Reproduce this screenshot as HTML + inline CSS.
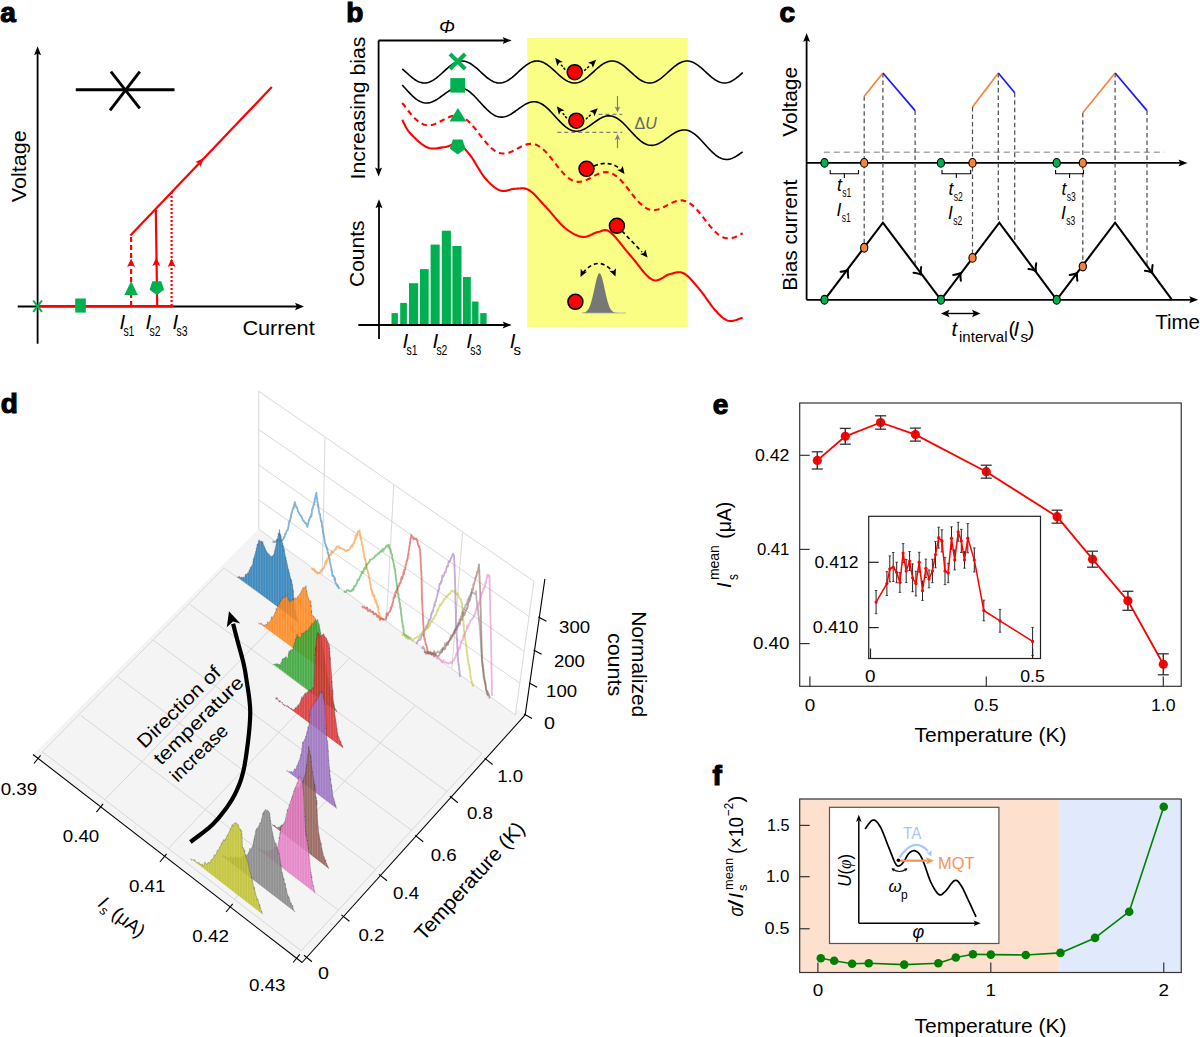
<!DOCTYPE html>
<html><head><meta charset="utf-8"><title>Figure</title>
<style>html,body{margin:0;padding:0;background:#fff;width:1200px;height:1037px;overflow:hidden}svg{display:block}text{font-family:"Liberation Sans",sans-serif}</style>
</head><body>
<svg width="1200" height="1037" viewBox="0 0 1200 1037">
<defs><pattern id="vs" width="2.6" height="20" patternUnits="userSpaceOnUse"><rect x="0" y="0" width="0.9" height="20" fill="#fff" fill-opacity="0.16"/></pattern></defs>
<rect width="1200" height="1037" fill="#fff"/>
<text x="0.3" y="22" font-family="Liberation Sans" font-size="28" text-anchor="start" fill="#000" font-weight="bold" font-style="normal" stroke="#000" stroke-width="1.15">a</text>
<line x1="37.6" y1="343.8" x2="37.6" y2="52" stroke="#000" stroke-width="1.8" stroke-linecap="butt"/>
<polygon points="37.6,46.3 41.1,55.3 37.6,53.5 34.1,55.3" fill="#000" stroke="none" stroke-width="0"/>
<line x1="17.7" y1="306.5" x2="298" y2="306.5" stroke="#000" stroke-width="1.8" stroke-linecap="butt"/>
<polygon points="304,306.5 295,310.25 296.8,306.5 295,302.75" fill="#000" stroke="none" stroke-width="0"/>
<line x1="75.8" y1="89.7" x2="174.5" y2="89.7" stroke="#000" stroke-width="2.9" stroke-linecap="butt"/>
<line x1="110.9" y1="71.7" x2="139.8" y2="108.3" stroke="#000" stroke-width="2.9" stroke-linecap="butt"/>
<line x1="139.8" y1="71.7" x2="110" y2="110.3" stroke="#000" stroke-width="2.9" stroke-linecap="butt"/>
<line x1="37.6" y1="306.2" x2="173.6" y2="306.2" stroke="#ff0000" stroke-width="2.2" stroke-linecap="butt"/>
<line x1="131.1" y1="306" x2="131.1" y2="234.9" stroke="#ff0000" stroke-width="2.2" stroke-linecap="butt" stroke-dasharray="5,3"/>
<line x1="157.2" y1="306" x2="155.8" y2="209.8" stroke="#ff0000" stroke-width="2.2" stroke-linecap="butt"/>
<line x1="171.6" y1="306" x2="171.6" y2="192" stroke="#ff0000" stroke-width="2.2" stroke-linecap="butt" stroke-dasharray="2,2"/>
<line x1="130.4" y1="235.6" x2="271.8" y2="87.1" stroke="#ff0000" stroke-width="2.2" stroke-linecap="butt"/>
<polygon points="131.1,258.5 135.1,267 131.1,265.3 127.1,267" fill="#ff0000" stroke="none" stroke-width="0"/>
<polygon points="156.3,257.5 160.3,266 156.3,264.3 152.3,266" fill="#ff0000" stroke="none" stroke-width="0"/>
<polygon points="171.6,258.5 175.6,267 171.6,265.3 167.6,267" fill="#ff0000" stroke="none" stroke-width="0"/>
<polygon points="204,158 200.33,166.93 199.03,163.21 195.26,162.1" fill="#ff0000" stroke="none" stroke-width="0"/>
<line x1="33.2" y1="300.5" x2="42" y2="311.8" stroke="#00b050" stroke-width="2" stroke-linecap="butt"/>
<line x1="42" y1="300.5" x2="33.2" y2="311.8" stroke="#00b050" stroke-width="2" stroke-linecap="butt"/>
<rect x="75.2" y="298.5" width="10.6" height="14.1" fill="#00b050" stroke="none" stroke-width="0"/>
<polygon points="124.4,295 137.9,295 131.1,281" fill="#00b050" stroke="none" stroke-width="0"/>
<polygon points="156.8,294.9 149.57,289.65 152.33,281.15 161.27,281.15 164.03,289.65" fill="#00b050" stroke="none" stroke-width="0"/>
<text x="119.5" y="329.4" font-family="Liberation Sans" font-size="20.5" text-anchor="start" fill="#000" font-weight="normal" font-style="italic">I</text>
<text x="123.4" y="336.4" font-family="Liberation Sans" font-size="15" text-anchor="start" fill="#000" font-weight="normal" font-style="normal" textLength="11" lengthAdjust="spacingAndGlyphs">s1</text>
<text x="145.6" y="329.4" font-family="Liberation Sans" font-size="20.5" text-anchor="start" fill="#000" font-weight="normal" font-style="italic">I</text>
<text x="149.5" y="336.4" font-family="Liberation Sans" font-size="15" text-anchor="start" fill="#000" font-weight="normal" font-style="normal" textLength="11" lengthAdjust="spacingAndGlyphs">s2</text>
<text x="172.6" y="329.4" font-family="Liberation Sans" font-size="20.5" text-anchor="start" fill="#000" font-weight="normal" font-style="italic">I</text>
<text x="176.5" y="336.4" font-family="Liberation Sans" font-size="15" text-anchor="start" fill="#000" font-weight="normal" font-style="normal" textLength="11" lengthAdjust="spacingAndGlyphs">s3</text>
<text x="242.4" y="334.6" font-family="Liberation Sans" font-size="20.5" text-anchor="start" fill="#000" font-weight="normal" font-style="normal" textLength="72.3" lengthAdjust="spacingAndGlyphs">Current</text>
<text x="26.3" y="202.3" font-family="Liberation Sans" font-size="20.5" text-anchor="start" fill="#000" font-weight="normal" font-style="normal" textLength="72" lengthAdjust="spacingAndGlyphs" transform="rotate(-90 26.3 202.3)">Voltage</text>
<text x="346.2" y="22" font-family="Liberation Sans" font-size="28" text-anchor="start" fill="#000" font-weight="bold" font-style="normal" stroke="#000" stroke-width="1.15">b</text>
<line x1="378.6" y1="40.5" x2="505" y2="40.5" stroke="#000" stroke-width="1.8" stroke-linecap="butt"/>
<polygon points="511.6,40.5 502.6,44 504.4,40.5 502.6,37" fill="#000" stroke="none" stroke-width="0"/>
<line x1="378.6" y1="40.5" x2="378.6" y2="170" stroke="#000" stroke-width="1.8" stroke-linecap="butt"/>
<polygon points="378.6,176.5 375.1,167.5 378.6,169.3 382.1,167.5" fill="#000" stroke="none" stroke-width="0"/>
<text x="439" y="32.8" font-family="Liberation Serif" font-size="19" text-anchor="start" fill="#000" font-weight="normal" font-style="italic">Φ</text>
<text x="365" y="179.4" font-family="Liberation Sans" font-size="20.5" text-anchor="start" fill="#000" font-weight="normal" font-style="normal" textLength="142.8" lengthAdjust="spacingAndGlyphs" transform="rotate(-90 365 179.4)">Increasing bias</text>
<rect x="527.2" y="38" width="160.6" height="289.2" fill="#fbfe84" stroke="none" stroke-width="0"/>
<polyline points="402.2,68.78 403.33,69.79 404.47,70.82 405.6,71.87 406.74,72.91 407.88,73.95 409.01,74.97 410.14,75.96 411.28,76.92 412.41,77.83 413.55,78.69 414.69,79.49 415.82,80.22 416.95,80.87 418.09,81.45 419.22,81.94 420.36,82.34 421.5,82.65 422.63,82.87 423.76,82.98 424.9,82.99 426.03,82.91 427.17,82.73 428.31,82.45 429.44,82.07 430.57,81.61 431.71,81.05 432.84,80.42 433.98,79.71 435.12,78.93 436.25,78.09 437.38,77.19 438.52,76.25 439.65,75.26 440.79,74.25 441.93,73.22 443.06,72.18 444.19,71.13 445.33,70.09 446.46,69.07 447.6,68.08 448.74,67.12 449.87,66.21 451,65.35 452.14,64.54 453.27,63.81 454.41,63.15 455.55,62.57 456.68,62.07 457.81,61.67 458.95,61.36 460.08,61.14 461.22,61.02 462.36,61 463.49,61.09 464.62,61.26 465.76,61.54 466.89,61.91 468.03,62.37 469.17,62.92 470.3,63.55 471.44,64.26 472.57,65.04 473.7,65.88 474.84,66.77 475.98,67.72 477.11,68.7 478.25,69.71 479.38,70.74 480.51,71.78 481.65,72.83 482.78,73.87 483.92,74.89 485.06,75.88 486.19,76.84 487.32,77.76 488.46,78.62 489.6,79.43 490.73,80.16 491.87,80.83 493,81.41 494.13,81.91 495.27,82.32 496.4,82.63 497.54,82.85 498.68,82.97 499.81,83 500.94,82.92 502.08,82.74 503.22,82.47 504.35,82.1 505.49,81.65 506.62,81.1 507.75,80.47 508.89,79.77 510.02,78.99 511.16,78.16 512.3,77.26 513.43,76.32 514.57,75.34 515.7,74.33 516.84,73.3 517.97,72.26 519.11,71.21 520.24,70.17 521.38,69.15 522.51,68.16 523.64,67.2 524.78,66.28 525.91,65.41 527.05,64.61 528.19,63.87 529.32,63.2 530.46,62.61 531.59,62.11 532.73,61.7 533.86,61.38 535,61.15 536.13,61.03 537.26,61 538.4,61.08 539.54,61.25 540.67,61.52 541.81,61.88 542.94,62.33 544.08,62.88 545.21,63.5 546.35,64.2 547.48,64.97 548.62,65.81 549.75,66.7 550.88,67.64 552.02,68.62 553.15,69.63 554.29,70.66 555.42,71.7 556.56,72.75 557.7,73.78 558.83,74.81 559.97,75.8 561.1,76.77 562.24,77.69 563.37,78.55 564.5,79.36 565.64,80.11 566.77,80.78 567.91,81.37 569.05,81.87 570.18,82.29 571.32,82.61 572.45,82.84 573.59,82.97 574.72,83 575.86,82.93 576.99,82.76 578.12,82.5 579.26,82.14 580.39,81.69 581.53,81.15 582.66,80.53 583.8,79.83 584.93,79.06 586.07,78.22 587.21,77.34 588.34,76.4 589.48,75.42 590.61,74.41 591.75,73.38 592.88,72.34 594.01,71.3 595.15,70.26 596.29,69.23 597.42,68.23 598.56,67.27 599.69,66.35 600.83,65.48 601.96,64.67 603.1,63.92 604.23,63.25 605.37,62.66 606.5,62.15 607.63,61.73 608.77,61.4 609.9,61.17 611.04,61.04 612.17,61 613.31,61.07 614.45,61.23 615.58,61.49 616.72,61.85 617.85,62.29 618.99,62.83 620.12,63.45 621.25,64.14 622.39,64.91 623.53,65.74 624.66,66.63 625.8,67.56 626.93,68.54 628.07,69.55 629.2,70.58 630.34,71.62 631.47,72.66 632.61,73.7 633.74,74.73 634.88,75.73 636.01,76.69 637.14,77.62 638.28,78.49 639.42,79.3 640.55,80.05 641.69,80.73 642.82,81.32 643.96,81.83 645.09,82.26 646.23,82.59 647.36,82.82 648.5,82.96 649.63,83 650.77,82.94 651.9,82.78 653.04,82.52 654.17,82.17 655.31,81.72 656.44,81.19 657.58,80.58 658.71,79.88 659.85,79.12 660.98,78.29 662.12,77.41 663.25,76.47 664.38,75.5 665.52,74.49 666.65,73.47 667.79,72.42 668.92,71.38 670.06,70.34 671.2,69.31 672.33,68.31 673.47,67.35 674.6,66.42 675.74,65.55 676.87,64.73 678.01,63.98 679.14,63.3 680.28,62.7 681.41,62.18 682.55,61.76 683.68,61.42 684.82,61.18 685.95,61.04 687.09,61 688.22,61.06 689.36,61.21 690.49,61.47 691.62,61.82 692.76,62.26 693.89,62.78 695.03,63.4 696.16,64.09 697.3,64.85 698.44,65.67 699.57,66.56 700.71,67.49 701.84,68.46 702.98,69.47 704.11,70.49 705.25,71.53 706.38,72.58 707.52,73.62 708.65,74.65 709.79,75.65 710.92,76.62 712.06,77.54 713.19,78.42 714.33,79.24 715.46,79.99 716.6,80.67 717.73,81.28 718.87,81.8 720,82.23 721.13,82.57 722.27,82.81 723.4,82.95 724.54,83 725.67,82.95 726.81,82.79 727.95,82.55 729.08,82.2 730.22,81.76 731.35,81.24 732.49,80.63 733.62,79.94 734.76,79.18 735.89,78.36 737.03,77.48 738.16,76.55 739.3,75.58 740.43,74.57 741.57,73.55 742.7,72.51" fill="none" stroke="#000" stroke-width="1.6" stroke-linejoin="round" stroke-linecap="butt"/>
<polyline points="402.2,84.93 403.33,86.17 404.47,87.42 405.6,88.68 406.74,89.94 407.88,91.18 409.01,92.4 410.14,93.59 411.28,94.74 412.41,95.85 413.55,96.89 414.69,97.88 415.82,98.79 416.95,99.63 418.09,100.38 419.22,101.05 420.36,101.62 421.5,102.1 422.63,102.48 423.76,102.77 424.9,102.95 426.03,103.04 427.17,103.02 428.31,102.91 429.44,102.71 430.57,102.42 431.71,102.05 432.84,101.59 433.98,101.06 435.12,100.47 436.25,99.81 437.38,99.11 438.52,98.36 439.65,97.58 440.79,96.77 441.93,95.94 443.06,95.11 444.19,94.28 445.33,93.46 446.46,92.67 447.6,91.9 448.74,91.18 449.87,90.5 451,89.87 452.14,89.31 453.27,88.83 454.41,88.41 455.55,88.08 456.68,87.84 457.81,87.69 458.95,87.63 460.08,87.67 461.22,87.81 462.36,88.05 463.49,88.39 464.62,88.82 465.76,89.36 466.89,89.98 468.03,90.69 469.17,91.49 470.3,92.37 471.44,93.32 472.57,94.34 473.7,95.42 474.84,96.55 475.98,97.73 477.11,98.94 478.25,100.17 479.38,101.42 480.51,102.68 481.65,103.94 482.78,105.18 483.92,106.41 485.06,107.6 486.19,108.75 487.32,109.86 488.46,110.91 489.6,111.9 490.73,112.82 491.87,113.66 493,114.42 494.13,115.1 495.27,115.68 496.4,116.17 497.54,116.56 498.68,116.85 499.81,117.04 500.94,117.13 502.08,117.13 503.22,117.03 504.35,116.83 505.49,116.55 506.62,116.18 507.75,115.73 508.89,115.21 510.02,114.62 511.16,113.97 512.3,113.27 513.43,112.52 514.57,111.74 515.7,110.93 516.84,110.11 517.97,109.28 519.11,108.45 520.24,107.63 521.38,106.83 522.51,106.06 523.64,105.33 524.78,104.65 525.91,104.02 527.05,103.46 528.19,102.96 529.32,102.54 530.46,102.21 531.59,101.96 532.73,101.8 533.86,101.73 535,101.77 536.13,101.9 537.26,102.13 538.4,102.46 539.54,102.89 540.67,103.41 541.81,104.03 542.94,104.74 544.08,105.53 545.21,106.4 546.35,107.35 547.48,108.36 548.62,109.44 549.75,110.56 550.88,111.73 552.02,112.94 553.15,114.17 554.29,115.42 555.42,116.68 556.56,117.94 557.7,119.18 558.83,120.41 559.97,121.61 561.1,122.76 562.24,123.88 563.37,124.93 564.5,125.93 565.64,126.85 566.77,127.7 567.91,128.47 569.05,129.15 570.18,129.74 571.32,130.23 572.45,130.63 573.59,130.93 574.72,131.13 575.86,131.23 576.99,131.23 578.12,131.14 579.26,130.95 580.39,130.67 581.53,130.31 582.66,129.87 583.8,129.35 584.93,128.77 586.07,128.12 587.21,127.42 588.34,126.68 589.48,125.9 590.61,125.1 591.75,124.27 592.88,123.44 594.01,122.61 595.15,121.79 596.29,120.99 597.42,120.22 598.56,119.49 599.69,118.8 600.83,118.17 601.96,117.6 603.1,117.1 604.23,116.67 605.37,116.33 606.5,116.07 607.63,115.91 608.77,115.84 609.9,115.86 611.04,115.98 612.17,116.21 613.31,116.53 614.45,116.95 615.58,117.47 616.72,118.08 617.85,118.78 618.99,119.56 620.12,120.43 621.25,121.37 622.39,122.38 623.53,123.45 624.66,124.57 625.8,125.74 626.93,126.94 628.07,128.17 629.2,129.42 630.34,130.68 631.47,131.94 632.61,133.19 633.74,134.41 634.88,135.61 636.01,136.77 637.14,137.89 638.28,138.95 639.42,139.95 640.55,140.88 641.69,141.74 642.82,142.51 643.96,143.2 645.09,143.79 646.23,144.29 647.36,144.7 648.5,145.01 649.63,145.22 650.77,145.32 651.9,145.33 653.04,145.25 654.17,145.07 655.31,144.8 656.44,144.44 657.58,144.01 658.71,143.49 659.85,142.91 660.98,142.27 662.12,141.58 663.25,140.84 664.38,140.06 665.52,139.26 666.65,138.44 667.79,137.61 668.92,136.78 670.06,135.96 671.2,135.15 672.33,134.38 673.47,133.64 674.6,132.95 675.74,132.32 676.87,131.74 678.01,131.23 679.14,130.8 680.28,130.45 681.41,130.19 682.55,130.02 683.68,129.94 684.82,129.95 685.95,130.07 687.09,130.29 688.22,130.6 689.36,131.01 690.49,131.52 691.62,132.12 692.76,132.82 693.89,133.6 695.03,134.46 696.16,135.39 697.3,136.4 698.44,137.46 699.57,138.58 700.71,139.74 701.84,140.95 702.98,142.18 704.11,143.42 705.25,144.68 706.38,145.94 707.52,147.19 708.65,148.42 709.79,149.62 710.92,150.78 712.06,151.9 713.19,152.97 714.33,153.97 715.46,154.91 716.6,155.77 717.73,156.55 718.87,157.24 720,157.85 721.13,158.36 722.27,158.77 723.4,159.09 724.54,159.3 725.67,159.42 726.81,159.44 727.95,159.36 729.08,159.19 730.22,158.92 731.35,158.57 732.49,158.14 733.62,157.64 734.76,157.06 735.89,156.43 737.03,155.74 738.16,155 739.3,154.23 740.43,153.43 741.57,152.6 742.7,151.77" fill="none" stroke="#000" stroke-width="1.6" stroke-linejoin="round" stroke-linecap="butt"/>
<polyline points="402.2,103 403.33,104.46 404.47,105.93 405.6,107.4 406.74,108.87 407.88,110.32 409.01,111.74 410.14,113.13 411.28,114.47 412.41,115.77 413.55,117 414.69,118.17 415.82,119.26 416.95,120.28 418.09,121.21 419.22,122.05 420.36,122.8 421.5,123.45 422.63,124 423.76,124.46 424.9,124.81 426.03,125.07 427.17,125.23 428.31,125.29 429.44,125.26 430.57,125.15 431.71,124.95 432.84,124.68 433.98,124.34 435.12,123.93 436.25,123.47 437.38,122.95 438.52,122.4 439.65,121.82 440.79,121.22 441.93,120.61 443.06,119.99 444.19,119.38 445.33,118.78 446.46,118.21 447.6,117.68 448.74,117.19 449.87,116.75 451,116.37 452.14,116.05 453.27,115.81 454.41,115.65 455.55,115.57 456.68,115.58 457.81,115.69 458.95,115.89 460.08,116.18 461.22,116.58 462.36,117.08 463.49,117.67 464.62,118.37 465.76,119.15 466.89,120.03 468.03,121 469.17,122.05 470.3,123.18 471.44,124.37 472.57,125.63 473.7,126.95 474.84,128.32 475.98,129.72 477.11,131.16 478.25,132.62 479.38,134.09 480.51,135.56 481.65,137.03 482.78,138.48 483.92,139.9 485.06,141.3 486.19,142.64 487.32,143.94 488.46,145.18 489.6,146.36 490.73,147.46 491.87,148.48 493,149.41 494.13,150.26 495.27,151.02 496.4,151.68 497.54,152.24 498.68,152.7 499.81,153.06 500.94,153.33 502.08,153.49 503.22,153.57 504.35,153.55 505.49,153.44 506.62,153.25 507.75,152.98 508.89,152.64 510.02,152.24 511.16,151.78 512.3,151.27 513.43,150.72 514.57,150.14 515.7,149.54 516.84,148.93 517.97,148.31 519.11,147.7 520.24,147.1 521.38,146.53 522.51,145.99 523.64,145.5 524.78,145.05 525.91,144.67 527.05,144.35 528.19,144.1 529.32,143.93 530.46,143.85 531.59,143.85 532.73,143.95 533.86,144.14 535,144.43 536.13,144.82 537.26,145.31 538.4,145.9 539.54,146.58 540.67,147.36 541.81,148.24 542.94,149.2 544.08,150.24 545.21,151.36 546.35,152.55 547.48,153.81 548.62,155.12 549.75,156.48 550.88,157.88 552.02,159.32 553.15,160.77 554.29,162.24 555.42,163.72 556.56,165.18 557.7,166.64 558.83,168.07 559.97,169.46 561.1,170.81 562.24,172.12 563.37,173.36 564.5,174.54 565.64,175.65 566.77,176.67 567.91,177.62 569.05,178.47 570.18,179.24 571.32,179.9 572.45,180.47 573.59,180.94 574.72,181.31 575.86,181.58 576.99,181.76 578.12,181.84 579.26,181.82 580.39,181.72 581.53,181.54 582.66,181.28 583.8,180.95 584.93,180.55 586.07,180.09 587.21,179.59 588.34,179.04 589.48,178.47 590.61,177.87 591.75,177.25 592.88,176.64 594.01,176.02 595.15,175.43 596.29,174.85 597.42,174.31 598.56,173.81 599.69,173.36 600.83,172.97 601.96,172.65 603.1,172.39 604.23,172.22 605.37,172.13 606.5,172.12 607.63,172.21 608.77,172.4 609.9,172.68 611.04,173.06 612.17,173.54 613.31,174.12 614.45,174.8 615.58,175.57 616.72,176.44 617.85,177.39 618.99,178.43 620.12,179.54 621.25,180.73 622.39,181.98 623.53,183.29 624.66,184.65 625.8,186.05 626.93,187.48 628.07,188.93 629.2,190.4 630.34,191.88 631.47,193.34 632.61,194.8 633.74,196.23 634.88,197.63 636.01,198.98 637.14,200.29 638.28,201.54 639.42,202.72 640.55,203.84 641.69,204.87 642.82,205.82 643.96,206.68 645.09,207.45 646.23,208.13 647.36,208.7 648.5,209.18 649.63,209.56 650.77,209.84 651.9,210.02 653.04,210.11 654.17,210.1 655.31,210.01 656.44,209.83 657.58,209.58 658.71,209.25 659.85,208.86 660.98,208.41 662.12,207.9 663.25,207.36 664.38,206.79 665.52,206.19 666.65,205.58 667.79,204.96 668.92,204.35 670.06,203.75 671.2,203.17 672.33,202.63 673.47,202.12 674.6,201.67 675.74,201.27 676.87,200.94 678.01,200.68 679.14,200.5 680.28,200.4 681.41,200.39 682.55,200.48 683.68,200.65 684.82,200.93 685.95,201.3 687.09,201.78 688.22,202.35 689.36,203.02 690.49,203.78 691.62,204.64 692.76,205.59 693.89,206.62 695.03,207.73 696.16,208.91 697.3,210.15 698.44,211.46 699.57,212.81 700.71,214.21 701.84,215.64 702.98,217.09 704.11,218.56 705.25,220.03 706.38,221.5 707.52,222.96 708.65,224.39 709.79,225.79 710.92,227.15 712.06,228.46 713.19,229.72 714.33,230.91 715.46,232.03 716.6,233.07 717.73,234.02 718.87,234.89 720,235.67 721.13,236.35 722.27,236.94 723.4,237.42 724.54,237.81 725.67,238.1 726.81,238.29 727.95,238.38 729.08,238.38 730.22,238.3 731.35,238.12 732.49,237.87 733.62,237.55 734.76,237.16 735.89,236.72 737.03,236.22 738.16,235.68 739.3,235.11 740.43,234.51 741.57,233.9 742.7,233.28" fill="none" stroke="#ff0000" stroke-width="2.1" stroke-linejoin="round" stroke-linecap="butt" stroke-dasharray="5.5,4"/>
<polyline points="402.2,119.7 402.55,120.34 402.94,121.13 403.37,122.06 403.86,123.1 404.41,124.24 405.01,125.44 405.67,126.7 406.39,127.99 407.19,129.28 408.05,130.56 408.99,131.81 410,133 411.12,134.21 412.36,135.52 413.69,136.89 415.11,138.3 416.6,139.72 418.14,141.11 419.72,142.46 421.31,143.73 422.9,144.9 424.47,145.94 426.01,146.81 427.5,147.5 428.97,147.99 430.47,148.31 431.98,148.49 433.5,148.54 435.02,148.48 436.53,148.34 438.03,148.15 439.5,147.91 440.94,147.65 442.34,147.4 443.7,147.18 445,147 446.24,146.79 447.44,146.48 448.59,146.1 449.7,145.67 450.79,145.22 451.84,144.78 452.88,144.38 453.91,144.06 454.93,143.82 455.94,143.72 456.97,143.77 458,144 459.03,144.39 460.02,144.88 461,145.48 461.96,146.19 462.92,146.98 463.88,147.88 464.84,148.86 465.81,149.93 466.81,151.08 467.84,152.31 468.9,153.62 470,155 471.14,156.53 472.32,158.26 473.53,160.15 474.77,162.17 476.02,164.26 477.29,166.41 478.58,168.55 479.87,170.67 481.16,172.71 482.45,174.64 483.73,176.41 485,178 486.27,179.45 487.54,180.86 488.82,182.2 490.1,183.47 491.38,184.67 492.67,185.79 493.95,186.83 495.23,187.77 496.51,188.62 497.78,189.36 499.05,189.99 500.3,190.5 501.55,190.85 502.8,191 504.04,191.01 505.28,190.88 506.51,190.65 507.74,190.36 508.97,190.02 510.19,189.68 511.4,189.35 512.61,189.08 513.81,188.89 515,188.8 516.17,188.75 517.32,188.66 518.46,188.55 519.58,188.44 520.69,188.34 521.81,188.29 522.93,188.3 524.06,188.4 525.2,188.59 526.37,188.91 527.57,189.37 528.8,190 530.05,190.8 531.32,191.74 532.59,192.82 533.88,194.01 535.19,195.31 536.51,196.7 537.86,198.16 539.23,199.67 540.63,201.23 542.05,202.81 543.51,204.41 545,206 546.54,207.66 548.14,209.47 549.79,211.39 551.47,213.37 553.18,215.4 554.91,217.44 556.64,219.46 558.36,221.41 560.07,223.28 561.76,225.02 563.4,226.61 565,228 566.56,229.24 568.11,230.4 569.64,231.47 571.16,232.45 572.66,233.34 574.14,234.13 575.61,234.83 577.06,235.44 578.5,235.95 579.92,236.37 581.32,236.68 582.7,236.9 584.07,236.96 585.43,236.83 586.77,236.53 588.1,236.11 589.41,235.59 590.71,235.01 591.98,234.39 593.23,233.78 594.46,233.2 595.67,232.69 596.85,232.28 598,232 599.09,231.76 600.1,231.45 601.04,231.12 601.95,230.79 602.83,230.49 603.71,230.26 604.6,230.12 605.53,230.11 606.51,230.27 607.58,230.61 608.73,231.18 610,232 611.38,233.11 612.84,234.48 614.38,236.09 615.99,237.9 617.65,239.87 619.36,241.96 621.1,244.13 622.87,246.36 624.65,248.59 626.44,250.8 628.23,252.95 630,255 631.79,257.1 633.64,259.37 635.52,261.77 637.43,264.23 639.36,266.71 641.29,269.14 643.22,271.48 645.12,273.66 646.99,275.62 648.82,277.32 650.6,278.7 652.3,279.7 653.95,280.27 655.56,280.45 657.14,280.29 658.68,279.86 660.19,279.22 661.67,278.42 663.12,277.55 664.54,276.64 665.94,275.77 667.32,275 668.67,274.39 670,274 671.29,273.72 672.52,273.42 673.71,273.11 674.87,272.82 675.99,272.56 677.11,272.36 678.21,272.24 679.32,272.21 680.45,272.31 681.59,272.54 682.78,272.93 684,273.5 685.27,274.27 686.56,275.23 687.88,276.35 689.22,277.61 690.58,278.99 691.94,280.47 693.3,282.02 694.67,283.61 696.02,285.23 697.37,286.85 698.7,288.45 700,290 701.29,291.57 702.58,293.24 703.86,294.97 705.14,296.75 706.41,298.55 707.67,300.36 708.92,302.14 710.16,303.89 711.39,305.56 712.61,307.16 713.81,308.64 715,310 716.16,311.27 717.3,312.49 718.42,313.67 719.52,314.8 720.61,315.86 721.69,316.84 722.77,317.75 723.86,318.57 724.94,319.29 726.05,319.91 727.16,320.42 728.3,320.8 729.5,321.02 730.79,321.05 732.14,320.93 733.52,320.68 734.91,320.34 736.28,319.93 737.6,319.48 738.86,319.02 740.01,318.58 741.03,318.2 741.91,317.89 742.6,317.7" fill="none" stroke="#ff0000" stroke-width="2.1" stroke-linejoin="round" stroke-linecap="butt"/>
<line x1="450" y1="54" x2="465.2" y2="69" stroke="#00b050" stroke-width="4" stroke-linecap="butt"/>
<line x1="465.2" y1="54" x2="450" y2="69" stroke="#00b050" stroke-width="4" stroke-linecap="butt"/>
<rect x="450.3" y="78.1" width="14.7" height="14.5" fill="#00b050" stroke="none" stroke-width="0"/>
<polygon points="449.5,121.5 466.3,121.5 457.9,108" fill="#00b050" stroke="none" stroke-width="0"/>
<polygon points="457.7,154.4 449.9,148.73 452.88,139.57 462.52,139.57 465.5,148.73" fill="#00b050" stroke="none" stroke-width="0"/>
<circle cx="574.7" cy="72.2" r="7.5" fill="#ff0000" stroke="#000" stroke-width="1.5"/>
<circle cx="576.3" cy="120.7" r="7.5" fill="#ff0000" stroke="#000" stroke-width="1.5"/>
<circle cx="586.5" cy="168.8" r="7.5" fill="#ff0000" stroke="#000" stroke-width="1.5"/>
<circle cx="616.9" cy="225.8" r="7.5" fill="#ff0000" stroke="#000" stroke-width="1.5"/>
<circle cx="575.4" cy="301.8" r="7.5" fill="#ff0000" stroke="#000" stroke-width="1.5"/>
<line x1="565.2" y1="69.7" x2="560.7" y2="64.2" stroke="#000" stroke-width="1.5" stroke-linecap="butt" stroke-dasharray="2.5,1.5"/>
<polygon points="555.2,57.7 562.87,61.88 559.12,62.76 557.33,66.17" fill="#000" stroke="none" stroke-width="0"/>
<line x1="584.2" y1="70.7" x2="589.2" y2="66.2" stroke="#000" stroke-width="1.5" stroke-linecap="butt" stroke-dasharray="2.5,1.5"/>
<polygon points="596.2,59.7 592.9,67.79 591.61,64.16 588.02,62.77" fill="#000" stroke="none" stroke-width="0"/>
<line x1="566.8" y1="118.2" x2="562.3" y2="112.7" stroke="#000" stroke-width="1.5" stroke-linecap="butt" stroke-dasharray="2.5,1.5"/>
<polygon points="556.8,106.2 564.47,110.38 560.72,111.26 558.93,114.67" fill="#000" stroke="none" stroke-width="0"/>
<line x1="585.8" y1="119.2" x2="590.8" y2="114.7" stroke="#000" stroke-width="1.5" stroke-linecap="butt" stroke-dasharray="2.5,1.5"/>
<polygon points="597.8,108.2 594.5,116.29 593.21,112.66 589.62,111.27" fill="#000" stroke="none" stroke-width="0"/>
<path d="M594,166 Q608,160 619,168" fill="none" stroke="#000" stroke-width="1.7" stroke-linecap="butt" stroke-linejoin="round" stroke-dasharray="4,3"/>
<polygon points="624.5,174 617.2,170.1 620.9,169.2 622.8,165.9" fill="#000" stroke="none" stroke-width="0"/>
<path d="M622,231 L642,252" fill="none" stroke="#000" stroke-width="1.7" stroke-linecap="butt" stroke-linejoin="round" stroke-dasharray="4,3"/>
<polygon points="647.6,257.5 640.08,254.05 643.71,252.93 645.41,249.52" fill="#000" stroke="none" stroke-width="0"/>
<polygon points="580,312.97 580.51,312.95 581.02,312.93 581.54,312.91 582.05,312.87 582.56,312.82 583.08,312.75 583.59,312.66 584.1,312.54 584.61,312.38 585.12,312.18 585.64,311.92 586.15,311.6 586.66,311.2 587.17,310.7 587.69,310.11 588.2,309.38 588.71,308.53 589.23,307.52 589.74,306.36 590.25,305.03 590.76,303.52 591.27,301.85 591.79,300 592.3,297.99 592.81,295.85 593.33,293.59 593.84,291.25 594.35,288.87 594.86,286.48 595.38,284.15 595.89,281.92 596.4,279.85 596.91,277.99 597.42,276.38 597.94,275.08 598.45,274.11 598.96,273.51 599.48,273.3 599.99,273.48 600.5,274.04 601.01,274.97 601.52,276.24 602.04,277.82 602.55,279.66 603.06,281.71 603.58,283.93 604.09,286.25 604.6,288.63 605.11,291.02 605.62,293.36 606.14,295.63 606.65,297.79 607.16,299.81 607.67,301.67 608.19,303.37 608.7,304.89 609.21,306.24 609.73,307.42 610.24,308.44 610.75,309.31 611.26,310.04 611.77,310.65 612.29,311.15 612.8,311.56 613.31,311.89 613.83,312.16 614.34,312.36 614.85,312.52 615.36,312.65 615.88,312.74 616.39,312.81 616.9,312.86 617.41,312.9 617.92,312.93 618.44,312.95 618.95,312.97 619.46,312.98 619.98,312.98 620.49,312.99 621,312.99 621,313 580,313" fill="#777" stroke="none" stroke-width="0"/>
<line x1="582" y1="313" x2="626" y2="313" stroke="#aaa" stroke-width="0.8" stroke-linecap="butt"/>
<path d="M583,273 Q598.5,254 614,273" fill="none" stroke="#000" stroke-width="1.7" stroke-linecap="butt" stroke-linejoin="round" stroke-dasharray="4,3"/>
<polygon points="580.5,277 580.72,268.73 583.18,271.63 586.98,271.86" fill="#000" stroke="none" stroke-width="0"/>
<polygon points="615.5,276.5 609.46,270.84 613.27,270.93 615.96,268.24" fill="#000" stroke="none" stroke-width="0"/>
<line x1="598.5" y1="114.4" x2="622.2" y2="114.4" stroke="#808080" stroke-width="1.2" stroke-linecap="butt" stroke-dasharray="4,3"/>
<line x1="557.3" y1="132.4" x2="622.2" y2="132.4" stroke="#808080" stroke-width="1.2" stroke-linecap="butt" stroke-dasharray="4,3"/>
<line x1="617.5" y1="96" x2="617.5" y2="108" stroke="#808080" stroke-width="1.2" stroke-linecap="butt"/>
<polygon points="617.5,112.5 614.75,106.5 617.5,107.7 620.25,106.5" fill="#808080" stroke="none" stroke-width="0"/>
<line x1="617.5" y1="148.2" x2="617.5" y2="138" stroke="#808080" stroke-width="1.2" stroke-linecap="butt"/>
<polygon points="617.5,134 620.25,140 617.5,138.8 614.75,140" fill="#808080" stroke="none" stroke-width="0"/>
<text x="634.5" y="129.2" font-family="Liberation Sans" font-size="16" text-anchor="start" fill="#666" font-weight="normal" font-style="normal">Δ<tspan font-style="italic">U</tspan></text>
<rect x="391.5" y="313.1" width="6.4" height="11.2" fill="#00b050" stroke="none" stroke-width="0"/>
<rect x="400.2" y="302.9" width="6.7" height="21.4" fill="#00b050" stroke="none" stroke-width="0"/>
<rect x="409" y="283.2" width="9.1" height="41.1" fill="#00b050" stroke="none" stroke-width="0"/>
<rect x="420" y="269.1" width="8.7" height="55.2" fill="#00b050" stroke="none" stroke-width="0"/>
<rect x="430.6" y="244.6" width="9.1" height="79.7" fill="#00b050" stroke="none" stroke-width="0"/>
<rect x="441.8" y="230.7" width="9.1" height="93.6" fill="#00b050" stroke="none" stroke-width="0"/>
<rect x="452.4" y="246" width="9.1" height="78.3" fill="#00b050" stroke="none" stroke-width="0"/>
<rect x="463" y="277" width="7.8" height="47.3" fill="#00b050" stroke="none" stroke-width="0"/>
<rect x="472.1" y="301.5" width="6.4" height="22.8" fill="#00b050" stroke="none" stroke-width="0"/>
<rect x="480.2" y="313.1" width="6.4" height="11.2" fill="#00b050" stroke="none" stroke-width="0"/>
<line x1="379" y1="339.1" x2="379" y2="205" stroke="#000" stroke-width="1.8" stroke-linecap="butt"/>
<polygon points="379,199.3 382.5,208.3 379,206.5 375.5,208.3" fill="#000" stroke="none" stroke-width="0"/>
<line x1="358.3" y1="325" x2="505" y2="325" stroke="#000" stroke-width="1.8" stroke-linecap="butt"/>
<polygon points="511.6,325 502.6,328.5 504.4,325 502.6,321.5" fill="#000" stroke="none" stroke-width="0"/>
<text x="363.5" y="287" font-family="Liberation Sans" font-size="20.5" text-anchor="start" fill="#000" font-weight="normal" font-style="normal" textLength="66.5" lengthAdjust="spacingAndGlyphs" transform="rotate(-90 363.5 287)">Counts</text>
<text x="402.6" y="347.8" font-family="Liberation Sans" font-size="20.5" text-anchor="start" fill="#000" font-weight="normal" font-style="italic">I</text>
<text x="406.5" y="354.8" font-family="Liberation Sans" font-size="15" text-anchor="start" fill="#000" font-weight="normal" font-style="normal" textLength="11" lengthAdjust="spacingAndGlyphs">s1</text>
<text x="432.5" y="347.8" font-family="Liberation Sans" font-size="20.5" text-anchor="start" fill="#000" font-weight="normal" font-style="italic">I</text>
<text x="436.4" y="354.8" font-family="Liberation Sans" font-size="15" text-anchor="start" fill="#000" font-weight="normal" font-style="normal" textLength="11" lengthAdjust="spacingAndGlyphs">s2</text>
<text x="466.3" y="347.8" font-family="Liberation Sans" font-size="20.5" text-anchor="start" fill="#000" font-weight="normal" font-style="italic">I</text>
<text x="470.2" y="354.8" font-family="Liberation Sans" font-size="15" text-anchor="start" fill="#000" font-weight="normal" font-style="normal" textLength="11" lengthAdjust="spacingAndGlyphs">s3</text>
<text x="509.7" y="347.8" font-family="Liberation Sans" font-size="20.5" text-anchor="start" fill="#000" font-weight="normal" font-style="italic">I</text>
<text x="513.6" y="354.8" font-family="Liberation Sans" font-size="15" text-anchor="start" fill="#000" font-weight="normal" font-style="normal">s</text>
<text x="779.5" y="22" font-family="Liberation Sans" font-size="28" text-anchor="start" fill="#000" font-weight="bold" font-style="normal" stroke="#000" stroke-width="1.15">c</text>
<line x1="806.6" y1="299.8" x2="806.6" y2="40" stroke="#000" stroke-width="1.8" stroke-linecap="butt"/>
<polygon points="806.6,33 810.1,42 806.6,40.2 803.1,42" fill="#000" stroke="none" stroke-width="0"/>
<line x1="806.6" y1="162.9" x2="1181" y2="162.9" stroke="#000" stroke-width="1.8" stroke-linecap="butt"/>
<polygon points="1187.5,162.9 1178.5,166.4 1180.3,162.9 1178.5,159.4" fill="#000" stroke="none" stroke-width="0"/>
<line x1="806.6" y1="299.8" x2="1192" y2="299.8" stroke="#000" stroke-width="1.8" stroke-linecap="butt"/>
<polygon points="1198.2,299.8 1189.2,303.3 1191,299.8 1189.2,296.3" fill="#000" stroke="none" stroke-width="0"/>
<line x1="823.8" y1="152.2" x2="1164.2" y2="152.2" stroke="#aaa" stroke-width="1.5" stroke-linecap="butt" stroke-dasharray="6,4"/>
<line x1="864.2" y1="96.3" x2="864.2" y2="247.8" stroke="#505050" stroke-width="1.25" stroke-linecap="butt" stroke-dasharray="4.5,3"/>
<line x1="882.9" y1="73" x2="882.9" y2="222.7" stroke="#505050" stroke-width="1.25" stroke-linecap="butt" stroke-dasharray="4.5,3"/>
<line x1="915.1" y1="110.6" x2="915.1" y2="265.5" stroke="#505050" stroke-width="1.25" stroke-linecap="butt" stroke-dasharray="4.5,3"/>
<line x1="972.5" y1="107" x2="972.5" y2="257.9" stroke="#505050" stroke-width="1.25" stroke-linecap="butt" stroke-dasharray="4.5,3"/>
<line x1="998.3" y1="73" x2="998.3" y2="222.7" stroke="#505050" stroke-width="1.25" stroke-linecap="butt" stroke-dasharray="4.5,3"/>
<line x1="1014.7" y1="92.7" x2="1014.7" y2="243.4" stroke="#505050" stroke-width="1.25" stroke-linecap="butt" stroke-dasharray="4.5,3"/>
<line x1="1082.8" y1="112.7" x2="1082.8" y2="266.5" stroke="#505050" stroke-width="1.25" stroke-linecap="butt" stroke-dasharray="4.5,3"/>
<line x1="1115.1" y1="73" x2="1115.1" y2="222.7" stroke="#505050" stroke-width="1.25" stroke-linecap="butt" stroke-dasharray="4.5,3"/>
<line x1="1147" y1="110.6" x2="1147" y2="265.9" stroke="#505050" stroke-width="1.25" stroke-linecap="butt" stroke-dasharray="4.5,3"/>
<polyline points="824.5,299.8 882.9,222.7 940.9,299.8 999.3,222.7 1056.7,299.8 1115.1,222.7 1172,299.8" fill="none" stroke="#000" stroke-width="2.1" stroke-linejoin="miter" stroke-linecap="butt"/>
<path d="M847.9,270.2 Q843.76,271.67 840.59,271.87" fill="none" stroke="#000" stroke-width="2.0" stroke-linecap="round" stroke-linejoin="round"/>
<path d="M847.9,270.2 Q847.6,274.58 848.27,277.69" fill="none" stroke="#000" stroke-width="2.0" stroke-linecap="round" stroke-linejoin="round"/>
<path d="M960.5,273.3 Q956.36,274.77 953.19,274.97" fill="none" stroke="#000" stroke-width="2.0" stroke-linecap="round" stroke-linejoin="round"/>
<path d="M960.5,273.3 Q960.2,277.68 960.87,280.79" fill="none" stroke="#000" stroke-width="2.0" stroke-linecap="round" stroke-linejoin="round"/>
<path d="M1077,273.3 Q1072.86,274.77 1069.69,274.97" fill="none" stroke="#000" stroke-width="2.0" stroke-linecap="round" stroke-linejoin="round"/>
<path d="M1077,273.3 Q1076.7,277.68 1077.37,280.79" fill="none" stroke="#000" stroke-width="2.0" stroke-linecap="round" stroke-linejoin="round"/>
<path d="M920.8,274.4 Q920.52,270.02 921.2,266.91" fill="none" stroke="#000" stroke-width="2.0" stroke-linecap="round" stroke-linejoin="round"/>
<path d="M920.8,274.4 Q916.67,272.91 913.49,272.71" fill="none" stroke="#000" stroke-width="2.0" stroke-linecap="round" stroke-linejoin="round"/>
<path d="M1035.8,270.7 Q1035.52,266.32 1036.2,263.21" fill="none" stroke="#000" stroke-width="2.0" stroke-linecap="round" stroke-linejoin="round"/>
<path d="M1035.8,270.7 Q1031.67,269.21 1028.49,269.01" fill="none" stroke="#000" stroke-width="2.0" stroke-linecap="round" stroke-linejoin="round"/>
<path d="M1152.2,272.5 Q1151.92,268.12 1152.6,265.01" fill="none" stroke="#000" stroke-width="2.0" stroke-linecap="round" stroke-linejoin="round"/>
<path d="M1152.2,272.5 Q1148.07,271.01 1144.89,270.81" fill="none" stroke="#000" stroke-width="2.0" stroke-linecap="round" stroke-linejoin="round"/>
<line x1="864.2" y1="96.3" x2="882.9" y2="73" stroke="#f4843c" stroke-width="1.7" stroke-linecap="butt"/>
<line x1="882.9" y1="73" x2="915.1" y2="110.6" stroke="#1a1aff" stroke-width="1.7" stroke-linecap="butt"/>
<line x1="972.5" y1="107" x2="998.3" y2="73" stroke="#f4843c" stroke-width="1.7" stroke-linecap="butt"/>
<line x1="998.3" y1="73" x2="1014.7" y2="92.7" stroke="#1a1aff" stroke-width="1.7" stroke-linecap="butt"/>
<line x1="1082.8" y1="112.7" x2="1115.1" y2="73" stroke="#f4843c" stroke-width="1.7" stroke-linecap="butt"/>
<line x1="1115.1" y1="73" x2="1147" y2="110.6" stroke="#1a1aff" stroke-width="1.7" stroke-linecap="butt"/>
<ellipse cx="824.5" cy="162.9" rx="3.6" ry="4.4" fill="#00b050" stroke="#000" stroke-width="1.1"/>
<ellipse cx="824.5" cy="299.8" rx="3.6" ry="4.4" fill="#00b050" stroke="#000" stroke-width="1.1"/>
<ellipse cx="940.9" cy="162.9" rx="3.6" ry="4.4" fill="#00b050" stroke="#000" stroke-width="1.1"/>
<ellipse cx="940.9" cy="299.8" rx="3.6" ry="4.4" fill="#00b050" stroke="#000" stroke-width="1.1"/>
<ellipse cx="1056.7" cy="162.9" rx="3.6" ry="4.4" fill="#00b050" stroke="#000" stroke-width="1.1"/>
<ellipse cx="1056.7" cy="299.8" rx="3.6" ry="4.4" fill="#00b050" stroke="#000" stroke-width="1.1"/>
<ellipse cx="864.2" cy="162.9" rx="3.6" ry="4.4" fill="#f4843c" stroke="#000" stroke-width="1.1"/>
<ellipse cx="972.5" cy="162.9" rx="3.6" ry="4.4" fill="#f4843c" stroke="#000" stroke-width="1.1"/>
<ellipse cx="1082.8" cy="162.9" rx="3.6" ry="4.4" fill="#f4843c" stroke="#000" stroke-width="1.1"/>
<ellipse cx="864.2" cy="247.8" rx="3.6" ry="4.4" fill="#f4843c" stroke="#000" stroke-width="1.1"/>
<ellipse cx="972.5" cy="257.9" rx="3.6" ry="4.4" fill="#f4843c" stroke="#000" stroke-width="1.1"/>
<ellipse cx="1082.8" cy="266.5" rx="3.6" ry="4.4" fill="#f4843c" stroke="#000" stroke-width="1.1"/>
<polyline points="830.2,170 830.2,173.7 858.5,173.7 858.5,170" fill="none" stroke="#000" stroke-width="1.1" stroke-linejoin="miter" stroke-linecap="butt"/>
<line x1="844.35" y1="173.7" x2="844.35" y2="178" stroke="#000" stroke-width="1.1" stroke-linecap="butt"/>
<polyline points="942,170 942,173.7 970.7,173.7 970.7,170" fill="none" stroke="#000" stroke-width="1.1" stroke-linejoin="miter" stroke-linecap="butt"/>
<line x1="956.35" y1="173.7" x2="956.35" y2="178" stroke="#000" stroke-width="1.1" stroke-linecap="butt"/>
<polyline points="1055.6,170 1055.6,173.7 1083.5,173.7 1083.5,170" fill="none" stroke="#000" stroke-width="1.1" stroke-linejoin="miter" stroke-linecap="butt"/>
<line x1="1069.55" y1="173.7" x2="1069.55" y2="178" stroke="#000" stroke-width="1.1" stroke-linecap="butt"/>
<text x="837" y="190.5" font-family="Liberation Sans" font-size="17.5" text-anchor="start" fill="#000" font-weight="normal" font-style="italic">t</text>
<text x="842.16" y="196.5" font-family="Liberation Sans" font-size="12.5" text-anchor="start" fill="#000" font-weight="normal" font-style="normal" textLength="9" lengthAdjust="spacingAndGlyphs">s1</text>
<text x="836.5" y="216" font-family="Liberation Sans" font-size="17.5" text-anchor="start" fill="#000" font-weight="normal" font-style="italic">I</text>
<text x="841.66" y="222" font-family="Liberation Sans" font-size="12.5" text-anchor="start" fill="#000" font-weight="normal" font-style="normal" textLength="9" lengthAdjust="spacingAndGlyphs">s1</text>
<text x="948.5" y="194.5" font-family="Liberation Sans" font-size="17.5" text-anchor="start" fill="#000" font-weight="normal" font-style="italic">t</text>
<text x="953.66" y="200.5" font-family="Liberation Sans" font-size="12.5" text-anchor="start" fill="#000" font-weight="normal" font-style="normal" textLength="9" lengthAdjust="spacingAndGlyphs">s2</text>
<text x="948" y="218.5" font-family="Liberation Sans" font-size="17.5" text-anchor="start" fill="#000" font-weight="normal" font-style="italic">I</text>
<text x="953.16" y="224.5" font-family="Liberation Sans" font-size="12.5" text-anchor="start" fill="#000" font-weight="normal" font-style="normal" textLength="9" lengthAdjust="spacingAndGlyphs">s2</text>
<text x="1061.5" y="194.5" font-family="Liberation Sans" font-size="17.5" text-anchor="start" fill="#000" font-weight="normal" font-style="italic">t</text>
<text x="1066.66" y="200.5" font-family="Liberation Sans" font-size="12.5" text-anchor="start" fill="#000" font-weight="normal" font-style="normal" textLength="9" lengthAdjust="spacingAndGlyphs">s3</text>
<text x="1061" y="218.5" font-family="Liberation Sans" font-size="17.5" text-anchor="start" fill="#000" font-weight="normal" font-style="italic">I</text>
<text x="1066.16" y="224.5" font-family="Liberation Sans" font-size="12.5" text-anchor="start" fill="#000" font-weight="normal" font-style="normal" textLength="9" lengthAdjust="spacingAndGlyphs">s3</text>
<text x="796.8" y="136.8" font-family="Liberation Sans" font-size="20.5" text-anchor="start" fill="#000" font-weight="normal" font-style="normal" textLength="70" lengthAdjust="spacingAndGlyphs" transform="rotate(-90 796.8 136.8)">Voltage</text>
<text x="796.8" y="290.8" font-family="Liberation Sans" font-size="20.5" text-anchor="start" fill="#000" font-weight="normal" font-style="normal" textLength="111" lengthAdjust="spacingAndGlyphs" transform="rotate(-90 796.8 290.8)">Bias current</text>
<text x="1155.2" y="328.5" font-family="Liberation Sans" font-size="20.5" text-anchor="start" fill="#000" font-weight="normal" font-style="normal" textLength="44.8" lengthAdjust="spacingAndGlyphs">Time</text>
<line x1="947" y1="313.5" x2="975" y2="313.5" stroke="#000" stroke-width="1.4" stroke-linecap="butt"/>
<polygon points="941,313.5 949.5,309.75 947.8,313.5 949.5,317.25" fill="#000" stroke="none" stroke-width="0"/>
<polygon points="980.5,313.5 972,317.25 973.7,313.5 972,309.75" fill="#000" stroke="none" stroke-width="0"/>
<text x="951.5" y="336" font-family="Liberation Sans" font-size="20.5" text-anchor="start" fill="#000" font-weight="normal" font-style="italic">t</text>
<text x="959" y="341.5" font-family="Liberation Sans" font-size="15.5" text-anchor="start" fill="#000" font-weight="normal" font-style="normal" textLength="48.5" lengthAdjust="spacingAndGlyphs">interval</text>
<text x="1008.5" y="336" font-family="Liberation Sans" font-size="20.5" text-anchor="start" fill="#000" font-weight="normal" font-style="normal">(</text>
<text x="1013.5" y="336" font-family="Liberation Sans" font-size="20.5" text-anchor="start" fill="#000" font-weight="normal" font-style="italic">I</text>
<text x="1020.5" y="341.5" font-family="Liberation Sans" font-size="15.5" text-anchor="start" fill="#000" font-weight="normal" font-style="normal">s</text>
<text x="1027.5" y="336" font-family="Liberation Sans" font-size="20.5" text-anchor="start" fill="#000" font-weight="normal" font-style="normal">)</text>
<text x="712.8" y="413.8" font-family="Liberation Sans" font-size="28" text-anchor="start" fill="#000" font-weight="bold" font-style="normal" stroke="#000" stroke-width="1.15">e</text>
<rect x="799.7" y="403" width="381.55" height="283.3" fill="none" stroke="#333" stroke-width="1.2"/>
<line x1="799.7" y1="455.3" x2="809.7" y2="455.3" stroke="#333" stroke-width="1.2" stroke-linecap="butt"/>
<text x="789.4" y="460.9" font-family="Liberation Sans" font-size="16" text-anchor="end" fill="#000" font-weight="normal" font-style="normal" textLength="34.5" lengthAdjust="spacingAndGlyphs">0.42</text>
<line x1="799.7" y1="549.4" x2="809.7" y2="549.4" stroke="#333" stroke-width="1.2" stroke-linecap="butt"/>
<text x="789.4" y="555" font-family="Liberation Sans" font-size="16" text-anchor="end" fill="#000" font-weight="normal" font-style="normal" textLength="32.5" lengthAdjust="spacingAndGlyphs">0.41</text>
<line x1="799.7" y1="643.6" x2="809.7" y2="643.6" stroke="#333" stroke-width="1.2" stroke-linecap="butt"/>
<text x="789.4" y="649.2" font-family="Liberation Sans" font-size="16" text-anchor="end" fill="#000" font-weight="normal" font-style="normal" textLength="36.5" lengthAdjust="spacingAndGlyphs">0.40</text>
<line x1="809.9" y1="686.3" x2="809.9" y2="676.5" stroke="#333" stroke-width="1.2" stroke-linecap="butt"/>
<text x="809.9" y="710.7" font-family="Liberation Sans" font-size="16" text-anchor="middle" fill="#000" font-weight="normal" font-style="normal" textLength="10.5" lengthAdjust="spacingAndGlyphs">0</text>
<line x1="986.3" y1="686.3" x2="986.3" y2="676.5" stroke="#333" stroke-width="1.2" stroke-linecap="butt"/>
<text x="986.3" y="710.7" font-family="Liberation Sans" font-size="16" text-anchor="middle" fill="#000" font-weight="normal" font-style="normal" textLength="24.5" lengthAdjust="spacingAndGlyphs">0.5</text>
<line x1="1163.3" y1="686.3" x2="1163.3" y2="676.5" stroke="#333" stroke-width="1.2" stroke-linecap="butt"/>
<text x="1163.3" y="710.7" font-family="Liberation Sans" font-size="16" text-anchor="middle" fill="#000" font-weight="normal" font-style="normal" textLength="24.5" lengthAdjust="spacingAndGlyphs">1.0</text>
<text x="914.6" y="741.8" font-family="Liberation Sans" font-size="20.5" text-anchor="start" fill="#000" font-weight="normal" font-style="normal" textLength="152" lengthAdjust="spacingAndGlyphs">Temperature (K)</text>
<g transform="translate(731,588) rotate(-90)"><text x="0" y="0" font-family="Liberation Sans" font-size="20" font-style="italic">I</text><text x="7.9" y="6.6" font-family="Liberation Sans" font-size="14" textLength="5.8" lengthAdjust="spacingAndGlyphs">s</text><text x="7.9" y="-11.9" font-family="Liberation Sans" font-size="14" textLength="35" lengthAdjust="spacingAndGlyphs">mean</text><text x="49.2" y="0" font-family="Liberation Sans" font-size="20.5" textLength="37.1" lengthAdjust="spacingAndGlyphs">(μA)</text></g>
<polyline points="817.3,460.4 845.3,436.3 880.6,422.5 915.4,434.6 986.25,471.7 1057.1,516.7 1092.5,559.2 1127.9,600.8 1163.3,664.3" fill="none" stroke="#ff0000" stroke-width="1.8" stroke-linejoin="round" stroke-linecap="butt"/>
<line x1="817.3" y1="451.8" x2="817.3" y2="469" stroke="#333" stroke-width="1.3" stroke-linecap="butt"/>
<line x1="811.8" y1="451.8" x2="822.8" y2="451.8" stroke="#333" stroke-width="1.3" stroke-linecap="butt"/>
<line x1="811.8" y1="469" x2="822.8" y2="469" stroke="#333" stroke-width="1.3" stroke-linecap="butt"/>
<line x1="845.3" y1="428.4" x2="845.3" y2="444.2" stroke="#333" stroke-width="1.3" stroke-linecap="butt"/>
<line x1="839.8" y1="428.4" x2="850.8" y2="428.4" stroke="#333" stroke-width="1.3" stroke-linecap="butt"/>
<line x1="839.8" y1="444.2" x2="850.8" y2="444.2" stroke="#333" stroke-width="1.3" stroke-linecap="butt"/>
<line x1="880.6" y1="415.8" x2="880.6" y2="429.2" stroke="#333" stroke-width="1.3" stroke-linecap="butt"/>
<line x1="875.1" y1="415.8" x2="886.1" y2="415.8" stroke="#333" stroke-width="1.3" stroke-linecap="butt"/>
<line x1="875.1" y1="429.2" x2="886.1" y2="429.2" stroke="#333" stroke-width="1.3" stroke-linecap="butt"/>
<line x1="915.4" y1="428.1" x2="915.4" y2="441.1" stroke="#333" stroke-width="1.3" stroke-linecap="butt"/>
<line x1="909.9" y1="428.1" x2="920.9" y2="428.1" stroke="#333" stroke-width="1.3" stroke-linecap="butt"/>
<line x1="909.9" y1="441.1" x2="920.9" y2="441.1" stroke="#333" stroke-width="1.3" stroke-linecap="butt"/>
<line x1="986.25" y1="465.2" x2="986.25" y2="478.2" stroke="#333" stroke-width="1.3" stroke-linecap="butt"/>
<line x1="980.75" y1="465.2" x2="991.75" y2="465.2" stroke="#333" stroke-width="1.3" stroke-linecap="butt"/>
<line x1="980.75" y1="478.2" x2="991.75" y2="478.2" stroke="#333" stroke-width="1.3" stroke-linecap="butt"/>
<line x1="1057.1" y1="510.2" x2="1057.1" y2="523.2" stroke="#333" stroke-width="1.3" stroke-linecap="butt"/>
<line x1="1051.6" y1="510.2" x2="1062.6" y2="510.2" stroke="#333" stroke-width="1.3" stroke-linecap="butt"/>
<line x1="1051.6" y1="523.2" x2="1062.6" y2="523.2" stroke="#333" stroke-width="1.3" stroke-linecap="butt"/>
<line x1="1092.5" y1="551.2" x2="1092.5" y2="567.2" stroke="#333" stroke-width="1.3" stroke-linecap="butt"/>
<line x1="1087" y1="551.2" x2="1098" y2="551.2" stroke="#333" stroke-width="1.3" stroke-linecap="butt"/>
<line x1="1087" y1="567.2" x2="1098" y2="567.2" stroke="#333" stroke-width="1.3" stroke-linecap="butt"/>
<line x1="1127.9" y1="591.3" x2="1127.9" y2="610.3" stroke="#333" stroke-width="1.3" stroke-linecap="butt"/>
<line x1="1122.4" y1="591.3" x2="1133.4" y2="591.3" stroke="#333" stroke-width="1.3" stroke-linecap="butt"/>
<line x1="1122.4" y1="610.3" x2="1133.4" y2="610.3" stroke="#333" stroke-width="1.3" stroke-linecap="butt"/>
<line x1="1163.3" y1="653.8" x2="1163.3" y2="674.8" stroke="#333" stroke-width="1.3" stroke-linecap="butt"/>
<line x1="1157.8" y1="653.8" x2="1168.8" y2="653.8" stroke="#333" stroke-width="1.3" stroke-linecap="butt"/>
<line x1="1157.8" y1="674.8" x2="1168.8" y2="674.8" stroke="#333" stroke-width="1.3" stroke-linecap="butt"/>
<circle cx="817.3" cy="460.4" r="4.6" fill="#ff0000" stroke="none" stroke-width="0"/>
<circle cx="845.3" cy="436.3" r="4.6" fill="#ff0000" stroke="none" stroke-width="0"/>
<circle cx="880.6" cy="422.5" r="4.6" fill="#ff0000" stroke="none" stroke-width="0"/>
<circle cx="915.4" cy="434.6" r="4.6" fill="#ff0000" stroke="none" stroke-width="0"/>
<circle cx="986.25" cy="471.7" r="4.6" fill="#ff0000" stroke="none" stroke-width="0"/>
<circle cx="1057.1" cy="516.7" r="4.6" fill="#ff0000" stroke="none" stroke-width="0"/>
<circle cx="1092.5" cy="559.2" r="4.6" fill="#ff0000" stroke="none" stroke-width="0"/>
<circle cx="1127.9" cy="600.8" r="4.6" fill="#ff0000" stroke="none" stroke-width="0"/>
<circle cx="1163.3" cy="664.3" r="4.6" fill="#ff0000" stroke="none" stroke-width="0"/>
<line x1="817.3" y1="451.8" x2="817.3" y2="469" stroke="#333" stroke-width="0.8" stroke-linecap="butt" stroke-opacity="0.8"/>
<line x1="845.3" y1="428.4" x2="845.3" y2="444.2" stroke="#333" stroke-width="0.8" stroke-linecap="butt" stroke-opacity="0.8"/>
<line x1="880.6" y1="415.8" x2="880.6" y2="429.2" stroke="#333" stroke-width="0.8" stroke-linecap="butt" stroke-opacity="0.8"/>
<line x1="915.4" y1="428.1" x2="915.4" y2="441.1" stroke="#333" stroke-width="0.8" stroke-linecap="butt" stroke-opacity="0.8"/>
<line x1="986.25" y1="465.2" x2="986.25" y2="478.2" stroke="#333" stroke-width="0.8" stroke-linecap="butt" stroke-opacity="0.8"/>
<line x1="1057.1" y1="510.2" x2="1057.1" y2="523.2" stroke="#333" stroke-width="0.8" stroke-linecap="butt" stroke-opacity="0.8"/>
<line x1="1092.5" y1="551.2" x2="1092.5" y2="567.2" stroke="#333" stroke-width="0.8" stroke-linecap="butt" stroke-opacity="0.8"/>
<line x1="1127.9" y1="591.3" x2="1127.9" y2="610.3" stroke="#333" stroke-width="0.8" stroke-linecap="butt" stroke-opacity="0.8"/>
<line x1="1163.3" y1="653.8" x2="1163.3" y2="674.8" stroke="#333" stroke-width="0.8" stroke-linecap="butt" stroke-opacity="0.8"/>
<rect x="868.7" y="516.3" width="171.8" height="142.2" fill="#fff" stroke="#222" stroke-width="1.2"/>
<line x1="868.7" y1="562.3" x2="878.7" y2="562.3" stroke="#222" stroke-width="1.2" stroke-linecap="butt"/>
<line x1="868.7" y1="627.6" x2="878.7" y2="627.6" stroke="#222" stroke-width="1.2" stroke-linecap="butt"/>
<line x1="870.5" y1="658.5" x2="870.5" y2="648.5" stroke="#222" stroke-width="1.2" stroke-linecap="butt"/>
<line x1="1032.6" y1="658.5" x2="1032.6" y2="648.5" stroke="#222" stroke-width="1.2" stroke-linecap="butt"/>
<text x="858.6" y="568.4" font-family="Liberation Sans" font-size="16" text-anchor="end" fill="#000" font-weight="normal" font-style="normal" textLength="44" lengthAdjust="spacingAndGlyphs">0.412</text>
<text x="858.3" y="633.2" font-family="Liberation Sans" font-size="16" text-anchor="end" fill="#000" font-weight="normal" font-style="normal" textLength="45.5" lengthAdjust="spacingAndGlyphs">0.410</text>
<text x="870.3" y="681.7" font-family="Liberation Sans" font-size="16" text-anchor="middle" fill="#000" font-weight="normal" font-style="normal" textLength="10.5" lengthAdjust="spacingAndGlyphs">0</text>
<text x="1032.5" y="681.7" font-family="Liberation Sans" font-size="16" text-anchor="middle" fill="#000" font-weight="normal" font-style="normal" textLength="24.5" lengthAdjust="spacingAndGlyphs">0.5</text>
<line x1="876.1" y1="590.5" x2="876.1" y2="613.7" stroke="#222" stroke-width="1.0" stroke-linecap="butt"/>
<line x1="874.8" y1="590.5" x2="877.4" y2="590.5" stroke="#222" stroke-width="0.8" stroke-linecap="butt"/>
<line x1="874.8" y1="613.7" x2="877.4" y2="613.7" stroke="#222" stroke-width="0.8" stroke-linecap="butt"/>
<line x1="886.9" y1="571.7" x2="886.9" y2="595.5" stroke="#222" stroke-width="1.0" stroke-linecap="butt"/>
<line x1="885.6" y1="571.7" x2="888.2" y2="571.7" stroke="#222" stroke-width="0.8" stroke-linecap="butt"/>
<line x1="885.6" y1="595.5" x2="888.2" y2="595.5" stroke="#222" stroke-width="0.8" stroke-linecap="butt"/>
<line x1="889.8" y1="555.9" x2="889.8" y2="581.9" stroke="#222" stroke-width="1.0" stroke-linecap="butt"/>
<line x1="888.5" y1="555.9" x2="891.1" y2="555.9" stroke="#222" stroke-width="0.8" stroke-linecap="butt"/>
<line x1="888.5" y1="581.9" x2="891.1" y2="581.9" stroke="#222" stroke-width="0.8" stroke-linecap="butt"/>
<line x1="893.2" y1="552.5" x2="893.2" y2="581.5" stroke="#222" stroke-width="1.0" stroke-linecap="butt"/>
<line x1="891.9" y1="552.5" x2="894.5" y2="552.5" stroke="#222" stroke-width="0.8" stroke-linecap="butt"/>
<line x1="891.9" y1="581.5" x2="894.5" y2="581.5" stroke="#222" stroke-width="0.8" stroke-linecap="butt"/>
<line x1="896.7" y1="562.2" x2="896.7" y2="582.8" stroke="#222" stroke-width="1.0" stroke-linecap="butt"/>
<line x1="895.4" y1="562.2" x2="898" y2="562.2" stroke="#222" stroke-width="0.8" stroke-linecap="butt"/>
<line x1="895.4" y1="582.8" x2="898" y2="582.8" stroke="#222" stroke-width="0.8" stroke-linecap="butt"/>
<line x1="899.9" y1="572.6" x2="899.9" y2="592.4" stroke="#222" stroke-width="1.0" stroke-linecap="butt"/>
<line x1="898.6" y1="572.6" x2="901.2" y2="572.6" stroke="#222" stroke-width="0.8" stroke-linecap="butt"/>
<line x1="898.6" y1="592.4" x2="901.2" y2="592.4" stroke="#222" stroke-width="0.8" stroke-linecap="butt"/>
<line x1="903.1" y1="543.6" x2="903.1" y2="562.6" stroke="#222" stroke-width="1.0" stroke-linecap="butt"/>
<line x1="901.8" y1="543.6" x2="904.4" y2="543.6" stroke="#222" stroke-width="0.8" stroke-linecap="butt"/>
<line x1="901.8" y1="562.6" x2="904.4" y2="562.6" stroke="#222" stroke-width="0.8" stroke-linecap="butt"/>
<line x1="906.2" y1="559.4" x2="906.2" y2="582.6" stroke="#222" stroke-width="1.0" stroke-linecap="butt"/>
<line x1="904.9" y1="559.4" x2="907.5" y2="559.4" stroke="#222" stroke-width="0.8" stroke-linecap="butt"/>
<line x1="904.9" y1="582.6" x2="907.5" y2="582.6" stroke="#222" stroke-width="0.8" stroke-linecap="butt"/>
<line x1="909.6" y1="551.5" x2="909.6" y2="570.5" stroke="#222" stroke-width="1.0" stroke-linecap="butt"/>
<line x1="908.3" y1="551.5" x2="910.9" y2="551.5" stroke="#222" stroke-width="0.8" stroke-linecap="butt"/>
<line x1="908.3" y1="570.5" x2="910.9" y2="570.5" stroke="#222" stroke-width="0.8" stroke-linecap="butt"/>
<line x1="912.6" y1="563.9" x2="912.6" y2="591.7" stroke="#222" stroke-width="1.0" stroke-linecap="butt"/>
<line x1="911.3" y1="563.9" x2="913.9" y2="563.9" stroke="#222" stroke-width="0.8" stroke-linecap="butt"/>
<line x1="911.3" y1="591.7" x2="913.9" y2="591.7" stroke="#222" stroke-width="0.8" stroke-linecap="butt"/>
<line x1="915.9" y1="571.3" x2="915.9" y2="595.9" stroke="#222" stroke-width="1.0" stroke-linecap="butt"/>
<line x1="914.6" y1="571.3" x2="917.2" y2="571.3" stroke="#222" stroke-width="0.8" stroke-linecap="butt"/>
<line x1="914.6" y1="595.9" x2="917.2" y2="595.9" stroke="#222" stroke-width="0.8" stroke-linecap="butt"/>
<line x1="919.2" y1="552.3" x2="919.2" y2="572.1" stroke="#222" stroke-width="1.0" stroke-linecap="butt"/>
<line x1="917.9" y1="552.3" x2="920.5" y2="552.3" stroke="#222" stroke-width="0.8" stroke-linecap="butt"/>
<line x1="917.9" y1="572.1" x2="920.5" y2="572.1" stroke="#222" stroke-width="0.8" stroke-linecap="butt"/>
<line x1="922.5" y1="581" x2="922.5" y2="600.4" stroke="#222" stroke-width="1.0" stroke-linecap="butt"/>
<line x1="921.2" y1="581" x2="923.8" y2="581" stroke="#222" stroke-width="0.8" stroke-linecap="butt"/>
<line x1="921.2" y1="600.4" x2="923.8" y2="600.4" stroke="#222" stroke-width="0.8" stroke-linecap="butt"/>
<line x1="925.9" y1="559.1" x2="925.9" y2="577.5" stroke="#222" stroke-width="1.0" stroke-linecap="butt"/>
<line x1="924.6" y1="559.1" x2="927.2" y2="559.1" stroke="#222" stroke-width="0.8" stroke-linecap="butt"/>
<line x1="924.6" y1="577.5" x2="927.2" y2="577.5" stroke="#222" stroke-width="0.8" stroke-linecap="butt"/>
<line x1="929" y1="570" x2="929" y2="587.8" stroke="#222" stroke-width="1.0" stroke-linecap="butt"/>
<line x1="927.7" y1="570" x2="930.3" y2="570" stroke="#222" stroke-width="0.8" stroke-linecap="butt"/>
<line x1="927.7" y1="587.8" x2="930.3" y2="587.8" stroke="#222" stroke-width="0.8" stroke-linecap="butt"/>
<line x1="932.4" y1="559.3" x2="932.4" y2="582.7" stroke="#222" stroke-width="1.0" stroke-linecap="butt"/>
<line x1="931.1" y1="559.3" x2="933.7" y2="559.3" stroke="#222" stroke-width="0.8" stroke-linecap="butt"/>
<line x1="931.1" y1="582.7" x2="933.7" y2="582.7" stroke="#222" stroke-width="0.8" stroke-linecap="butt"/>
<line x1="935.5" y1="541.4" x2="935.5" y2="567.8" stroke="#222" stroke-width="1.0" stroke-linecap="butt"/>
<line x1="934.2" y1="541.4" x2="936.8" y2="541.4" stroke="#222" stroke-width="0.8" stroke-linecap="butt"/>
<line x1="934.2" y1="567.8" x2="936.8" y2="567.8" stroke="#222" stroke-width="0.8" stroke-linecap="butt"/>
<line x1="938.7" y1="527.2" x2="938.7" y2="548.2" stroke="#222" stroke-width="1.0" stroke-linecap="butt"/>
<line x1="937.4" y1="527.2" x2="940" y2="527.2" stroke="#222" stroke-width="0.8" stroke-linecap="butt"/>
<line x1="937.4" y1="548.2" x2="940" y2="548.2" stroke="#222" stroke-width="0.8" stroke-linecap="butt"/>
<line x1="941.9" y1="529.8" x2="941.9" y2="552" stroke="#222" stroke-width="1.0" stroke-linecap="butt"/>
<line x1="940.6" y1="529.8" x2="943.2" y2="529.8" stroke="#222" stroke-width="0.8" stroke-linecap="butt"/>
<line x1="940.6" y1="552" x2="943.2" y2="552" stroke="#222" stroke-width="0.8" stroke-linecap="butt"/>
<line x1="945" y1="557.4" x2="945" y2="584.6" stroke="#222" stroke-width="1.0" stroke-linecap="butt"/>
<line x1="943.7" y1="557.4" x2="946.3" y2="557.4" stroke="#222" stroke-width="0.8" stroke-linecap="butt"/>
<line x1="943.7" y1="584.6" x2="946.3" y2="584.6" stroke="#222" stroke-width="0.8" stroke-linecap="butt"/>
<line x1="948.2" y1="563.3" x2="948.2" y2="582.7" stroke="#222" stroke-width="1.0" stroke-linecap="butt"/>
<line x1="946.9" y1="563.3" x2="949.5" y2="563.3" stroke="#222" stroke-width="0.8" stroke-linecap="butt"/>
<line x1="946.9" y1="582.7" x2="949.5" y2="582.7" stroke="#222" stroke-width="0.8" stroke-linecap="butt"/>
<line x1="951.5" y1="526.8" x2="951.5" y2="549.6" stroke="#222" stroke-width="1.0" stroke-linecap="butt"/>
<line x1="950.2" y1="526.8" x2="952.8" y2="526.8" stroke="#222" stroke-width="0.8" stroke-linecap="butt"/>
<line x1="950.2" y1="549.6" x2="952.8" y2="549.6" stroke="#222" stroke-width="0.8" stroke-linecap="butt"/>
<line x1="954.7" y1="549.9" x2="954.7" y2="569.9" stroke="#222" stroke-width="1.0" stroke-linecap="butt"/>
<line x1="953.4" y1="549.9" x2="956" y2="549.9" stroke="#222" stroke-width="0.8" stroke-linecap="butt"/>
<line x1="953.4" y1="569.9" x2="956" y2="569.9" stroke="#222" stroke-width="0.8" stroke-linecap="butt"/>
<line x1="958.2" y1="522.3" x2="958.2" y2="541.3" stroke="#222" stroke-width="1.0" stroke-linecap="butt"/>
<line x1="956.9" y1="522.3" x2="959.5" y2="522.3" stroke="#222" stroke-width="0.8" stroke-linecap="butt"/>
<line x1="956.9" y1="541.3" x2="959.5" y2="541.3" stroke="#222" stroke-width="0.8" stroke-linecap="butt"/>
<line x1="961.3" y1="529.3" x2="961.3" y2="552.5" stroke="#222" stroke-width="1.0" stroke-linecap="butt"/>
<line x1="960" y1="529.3" x2="962.6" y2="529.3" stroke="#222" stroke-width="0.8" stroke-linecap="butt"/>
<line x1="960" y1="552.5" x2="962.6" y2="552.5" stroke="#222" stroke-width="0.8" stroke-linecap="butt"/>
<line x1="964.5" y1="551.6" x2="964.5" y2="568.2" stroke="#222" stroke-width="1.0" stroke-linecap="butt"/>
<line x1="963.2" y1="551.6" x2="965.8" y2="551.6" stroke="#222" stroke-width="0.8" stroke-linecap="butt"/>
<line x1="963.2" y1="568.2" x2="965.8" y2="568.2" stroke="#222" stroke-width="0.8" stroke-linecap="butt"/>
<line x1="967.8" y1="523.6" x2="967.8" y2="552.8" stroke="#222" stroke-width="1.0" stroke-linecap="butt"/>
<line x1="966.5" y1="523.6" x2="969.1" y2="523.6" stroke="#222" stroke-width="0.8" stroke-linecap="butt"/>
<line x1="966.5" y1="552.8" x2="969.1" y2="552.8" stroke="#222" stroke-width="0.8" stroke-linecap="butt"/>
<line x1="974.3" y1="547.9" x2="974.3" y2="571.9" stroke="#222" stroke-width="1.0" stroke-linecap="butt"/>
<line x1="973" y1="547.9" x2="975.6" y2="547.9" stroke="#222" stroke-width="0.8" stroke-linecap="butt"/>
<line x1="973" y1="571.9" x2="975.6" y2="571.9" stroke="#222" stroke-width="0.8" stroke-linecap="butt"/>
<line x1="983.8" y1="600.2" x2="983.8" y2="620.8" stroke="#222" stroke-width="1.0" stroke-linecap="butt"/>
<line x1="982.5" y1="600.2" x2="985.1" y2="600.2" stroke="#222" stroke-width="0.8" stroke-linecap="butt"/>
<line x1="982.5" y1="620.8" x2="985.1" y2="620.8" stroke="#222" stroke-width="0.8" stroke-linecap="butt"/>
<line x1="1000" y1="609.4" x2="1000" y2="632.2" stroke="#222" stroke-width="1.0" stroke-linecap="butt"/>
<line x1="998.7" y1="609.4" x2="1001.3" y2="609.4" stroke="#222" stroke-width="0.8" stroke-linecap="butt"/>
<line x1="998.7" y1="632.2" x2="1001.3" y2="632.2" stroke="#222" stroke-width="0.8" stroke-linecap="butt"/>
<line x1="1032.6" y1="627.4" x2="1032.6" y2="655.4" stroke="#222" stroke-width="1.0" stroke-linecap="butt"/>
<line x1="1031.3" y1="627.4" x2="1033.9" y2="627.4" stroke="#222" stroke-width="0.8" stroke-linecap="butt"/>
<line x1="1031.3" y1="655.4" x2="1033.9" y2="655.4" stroke="#222" stroke-width="0.8" stroke-linecap="butt"/>
<polyline points="876.1,602.1 886.9,583.6 889.8,568.9 893.2,567 896.7,572.5 899.9,582.5 903.1,553.1 906.2,571 909.6,561 912.6,577.8 915.9,583.6 919.2,562.2 922.5,590.7 925.9,568.3 929,578.9 932.4,571 935.5,554.6 938.7,537.7 941.9,540.9 945,571 948.2,573 951.5,538.2 954.7,559.9 958.2,531.8 961.3,540.9 964.5,559.9 967.8,538.2 974.3,559.9 983.8,610.5 1000,620.8 1032.6,641.4" fill="none" stroke="#ff0000" stroke-width="1.5" stroke-linejoin="round" stroke-linecap="butt"/>
<circle cx="876.1" cy="602.1" r="1.6" fill="#ff0000" stroke="none" stroke-width="0"/>
<circle cx="886.9" cy="583.6" r="1.6" fill="#ff0000" stroke="none" stroke-width="0"/>
<circle cx="889.8" cy="568.9" r="1.6" fill="#ff0000" stroke="none" stroke-width="0"/>
<circle cx="893.2" cy="567" r="1.6" fill="#ff0000" stroke="none" stroke-width="0"/>
<circle cx="896.7" cy="572.5" r="1.6" fill="#ff0000" stroke="none" stroke-width="0"/>
<circle cx="899.9" cy="582.5" r="1.6" fill="#ff0000" stroke="none" stroke-width="0"/>
<circle cx="903.1" cy="553.1" r="1.6" fill="#ff0000" stroke="none" stroke-width="0"/>
<circle cx="906.2" cy="571" r="1.6" fill="#ff0000" stroke="none" stroke-width="0"/>
<circle cx="909.6" cy="561" r="1.6" fill="#ff0000" stroke="none" stroke-width="0"/>
<circle cx="912.6" cy="577.8" r="1.6" fill="#ff0000" stroke="none" stroke-width="0"/>
<circle cx="915.9" cy="583.6" r="1.6" fill="#ff0000" stroke="none" stroke-width="0"/>
<circle cx="919.2" cy="562.2" r="1.6" fill="#ff0000" stroke="none" stroke-width="0"/>
<circle cx="922.5" cy="590.7" r="1.6" fill="#ff0000" stroke="none" stroke-width="0"/>
<circle cx="925.9" cy="568.3" r="1.6" fill="#ff0000" stroke="none" stroke-width="0"/>
<circle cx="929" cy="578.9" r="1.6" fill="#ff0000" stroke="none" stroke-width="0"/>
<circle cx="932.4" cy="571" r="1.6" fill="#ff0000" stroke="none" stroke-width="0"/>
<circle cx="935.5" cy="554.6" r="1.6" fill="#ff0000" stroke="none" stroke-width="0"/>
<circle cx="938.7" cy="537.7" r="1.6" fill="#ff0000" stroke="none" stroke-width="0"/>
<circle cx="941.9" cy="540.9" r="1.6" fill="#ff0000" stroke="none" stroke-width="0"/>
<circle cx="945" cy="571" r="1.6" fill="#ff0000" stroke="none" stroke-width="0"/>
<circle cx="948.2" cy="573" r="1.6" fill="#ff0000" stroke="none" stroke-width="0"/>
<circle cx="951.5" cy="538.2" r="1.6" fill="#ff0000" stroke="none" stroke-width="0"/>
<circle cx="954.7" cy="559.9" r="1.6" fill="#ff0000" stroke="none" stroke-width="0"/>
<circle cx="958.2" cy="531.8" r="1.6" fill="#ff0000" stroke="none" stroke-width="0"/>
<circle cx="961.3" cy="540.9" r="1.6" fill="#ff0000" stroke="none" stroke-width="0"/>
<circle cx="964.5" cy="559.9" r="1.6" fill="#ff0000" stroke="none" stroke-width="0"/>
<circle cx="967.8" cy="538.2" r="1.6" fill="#ff0000" stroke="none" stroke-width="0"/>
<circle cx="974.3" cy="559.9" r="1.6" fill="#ff0000" stroke="none" stroke-width="0"/>
<circle cx="983.8" cy="610.5" r="1.6" fill="#ff0000" stroke="none" stroke-width="0"/>
<circle cx="1000" cy="620.8" r="1.6" fill="#ff0000" stroke="none" stroke-width="0"/>
<circle cx="1032.6" cy="641.4" r="1.6" fill="#ff0000" stroke="none" stroke-width="0"/>
<text x="712.5" y="784.5" font-family="Liberation Sans" font-size="28" text-anchor="start" fill="#000" font-weight="bold" font-style="normal" stroke="#000" stroke-width="1.15">f</text>
<rect x="799.7" y="799" width="260" height="173.5" fill="#fde0cd" stroke="none" stroke-width="0"/>
<rect x="1059.7" y="799" width="121.55" height="173.5" fill="#e0eafc" stroke="none" stroke-width="0"/>
<rect x="799.7" y="799" width="381.55" height="173.5" fill="none" stroke="#333" stroke-width="1.2"/>
<line x1="799.7" y1="825.4" x2="809.7" y2="825.4" stroke="#333" stroke-width="1.2" stroke-linecap="butt"/>
<text x="789.4" y="831" font-family="Liberation Sans" font-size="16" text-anchor="end" fill="#000" font-weight="normal" font-style="normal" textLength="22.5" lengthAdjust="spacingAndGlyphs">1.5</text>
<line x1="799.7" y1="876.7" x2="809.7" y2="876.7" stroke="#333" stroke-width="1.2" stroke-linecap="butt"/>
<text x="789.4" y="882.3" font-family="Liberation Sans" font-size="16" text-anchor="end" fill="#000" font-weight="normal" font-style="normal" textLength="23.5" lengthAdjust="spacingAndGlyphs">1.0</text>
<line x1="799.7" y1="928.75" x2="809.7" y2="928.75" stroke="#333" stroke-width="1.2" stroke-linecap="butt"/>
<text x="789.4" y="934.35" font-family="Liberation Sans" font-size="16" text-anchor="end" fill="#000" font-weight="normal" font-style="normal" textLength="25" lengthAdjust="spacingAndGlyphs">0.5</text>
<line x1="817.9" y1="972.5" x2="817.9" y2="962.5" stroke="#333" stroke-width="1.2" stroke-linecap="butt"/>
<text x="817.9" y="996" font-family="Liberation Sans" font-size="16" text-anchor="middle" fill="#000" font-weight="normal" font-style="normal" textLength="10.5" lengthAdjust="spacingAndGlyphs">0</text>
<line x1="990.8" y1="972.5" x2="990.8" y2="962.5" stroke="#333" stroke-width="1.2" stroke-linecap="butt"/>
<text x="990.8" y="996" font-family="Liberation Sans" font-size="16" text-anchor="middle" fill="#000" font-weight="normal" font-style="normal" textLength="10.5" lengthAdjust="spacingAndGlyphs">1</text>
<line x1="1163.75" y1="972.5" x2="1163.75" y2="962.5" stroke="#333" stroke-width="1.2" stroke-linecap="butt"/>
<text x="1163.75" y="996" font-family="Liberation Sans" font-size="16" text-anchor="middle" fill="#000" font-weight="normal" font-style="normal" textLength="10.5" lengthAdjust="spacingAndGlyphs">2</text>
<text x="914.6" y="1033.3" font-family="Liberation Sans" font-size="20.5" text-anchor="start" fill="#000" font-weight="normal" font-style="normal" textLength="152" lengthAdjust="spacingAndGlyphs">Temperature (K)</text>
<polyline points="820.8,958.3 834.2,960.8 852.1,963.75 868.75,963.3 904.2,964.6 938.3,963.3 955.8,957.5 972.9,954.2 990.8,954.6 1025.8,955 1060.4,952.9 1095,937.9 1129.2,911.7 1163.75,806.7" fill="none" stroke="#008000" stroke-width="1.6" stroke-linejoin="round" stroke-linecap="butt"/>
<circle cx="820.8" cy="958.3" r="4.3" fill="#008000" stroke="none" stroke-width="0"/>
<circle cx="834.2" cy="960.8" r="4.3" fill="#008000" stroke="none" stroke-width="0"/>
<circle cx="852.1" cy="963.75" r="4.3" fill="#008000" stroke="none" stroke-width="0"/>
<circle cx="868.75" cy="963.3" r="4.3" fill="#008000" stroke="none" stroke-width="0"/>
<circle cx="904.2" cy="964.6" r="4.3" fill="#008000" stroke="none" stroke-width="0"/>
<circle cx="938.3" cy="963.3" r="4.3" fill="#008000" stroke="none" stroke-width="0"/>
<circle cx="955.8" cy="957.5" r="4.3" fill="#008000" stroke="none" stroke-width="0"/>
<circle cx="972.9" cy="954.2" r="4.3" fill="#008000" stroke="none" stroke-width="0"/>
<circle cx="990.8" cy="954.6" r="4.3" fill="#008000" stroke="none" stroke-width="0"/>
<circle cx="1025.8" cy="955" r="4.3" fill="#008000" stroke="none" stroke-width="0"/>
<circle cx="1060.4" cy="952.9" r="4.3" fill="#008000" stroke="none" stroke-width="0"/>
<circle cx="1095" cy="937.9" r="4.3" fill="#008000" stroke="none" stroke-width="0"/>
<circle cx="1129.2" cy="911.7" r="4.3" fill="#008000" stroke="none" stroke-width="0"/>
<circle cx="1163.75" cy="806.7" r="4.3" fill="#008000" stroke="none" stroke-width="0"/>
<g transform="translate(743,917) rotate(-90)" font-family="Liberation Sans"><text x="0.5" y="0" font-family="Liberation Serif" font-size="21" font-style="italic" textLength="10" lengthAdjust="spacingAndGlyphs">σ</text><text x="9" y="0" font-size="21" textLength="8.5" lengthAdjust="spacingAndGlyphs">/</text><text x="18.5" y="0" font-size="20" font-style="italic">I</text><text x="26" y="3.8" font-size="13.5" textLength="6.5" lengthAdjust="spacingAndGlyphs">s</text><text x="27" y="-10" font-size="13.5" textLength="32" lengthAdjust="spacingAndGlyphs">mean</text><text x="63" y="0" font-size="20.5" textLength="37" lengthAdjust="spacingAndGlyphs">(×10</text><text x="101" y="-10.5" font-size="13.5" textLength="13" lengthAdjust="spacingAndGlyphs">−2</text><text x="114.5" y="0" font-size="20.5">)</text></g>
<rect x="829.5" y="807.3" width="169.4" height="136.2" fill="#fff" stroke="#555" stroke-width="1.2"/>
<line x1="858.8" y1="923.2" x2="858.8" y2="821" stroke="#000" stroke-width="1.5" stroke-linecap="butt"/>
<polygon points="858.8,814.8 861.55,821.8 858.8,820.4 856.05,821.8" fill="#000" stroke="none" stroke-width="0"/>
<line x1="858.8" y1="923.2" x2="975" y2="923.2" stroke="#000" stroke-width="1.5" stroke-linecap="butt"/>
<polygon points="980.7,923.2 973.7,925.95 975.1,923.2 973.7,920.45" fill="#000" stroke="none" stroke-width="0"/>
<polyline points="865.1,829 865.97,827.84 867.17,826.09 868.6,824.08 870.13,822.17 871.63,820.7 873,820 874.23,820.07 875.43,820.61 876.6,821.6 877.77,822.97 878.97,824.69 880.2,826.7 881.49,829.17 882.81,832.18 884.16,835.53 885.5,839.03 886.82,842.48 888.1,845.7 889.37,848.86 890.64,852.16 891.89,855.41 893.09,858.44 894.21,861.06 895.2,863.1 896.04,864.49 896.74,865.38 897.35,865.86 897.93,866.04 898.53,866.02 899.2,865.9 899.94,865.62 900.71,865.1 901.5,864.37 902.3,863.49 903.1,862.52 903.9,861.5 904.69,860.33 905.47,858.94 906.25,857.46 907.04,855.99 907.86,854.67 908.7,853.6 909.58,852.75 910.48,852.02 911.41,851.43 912.34,850.99 913.28,850.74 914.2,850.7 915.12,850.86 916.06,851.2 916.99,851.73 917.92,852.43 918.82,853.33 919.7,854.4 920.52,855.65 921.3,857.08 922.05,858.69 922.81,860.5 923.62,862.5 924.5,864.7 925.44,867.25 926.43,870.16 927.46,873.27 928.53,876.41 929.64,879.41 930.8,882.1 932.04,884.62 933.37,887.14 934.74,889.51 936.12,891.61 937.45,893.28 938.7,894.4 939.82,894.9 940.83,894.89 941.8,894.46 942.79,893.71 943.87,892.72 945.1,891.6 946.54,890.05 948.16,887.93 949.86,885.58 951.56,883.34 953.17,881.53 954.6,880.5 955.83,880.26 956.91,880.54 957.9,881.26 958.86,882.34 959.84,883.68 960.9,885.2 962.03,886.99 963.17,889.14 964.34,891.56 965.54,894.15 966.76,896.83 968,899.5 969.37,902.42 970.9,905.71 972.44,909.09 973.89,912.27 975.12,914.97 976,916.9" fill="none" stroke="#000" stroke-width="1.7" stroke-linejoin="round" stroke-linecap="butt"/>
<path d="M899.5,857.5 Q914,836 928,851" fill="none" stroke="#a8c8f8" stroke-width="2.2" stroke-linecap="butt" stroke-linejoin="round"/>
<polygon points="931.5,856.5 926.13,852.48 929.35,852.21 931.5,849.79" fill="#a8c8f8" stroke="none" stroke-width="0"/>
<line x1="898.4" y1="860.7" x2="927" y2="860.7" stroke="#f4935a" stroke-width="2.2" stroke-linecap="butt"/>
<polygon points="934,860.7 926,864.2 927.6,860.7 926,857.2" fill="#f4935a" stroke="none" stroke-width="0"/>
<circle cx="898.4" cy="860.2" r="1.8" fill="#000" stroke="none" stroke-width="0"/>
<path d="M892.5,869 Q899.5,874 906.5,869" fill="none" stroke="#000" stroke-width="1.1" stroke-linecap="butt" stroke-linejoin="round"/>
<polygon points="891.5,868.2 895.37,868.77 893.79,869.81 893.36,871.64" fill="#000" stroke="none" stroke-width="0"/>
<polygon points="907.5,868.2 905.64,871.64 905.21,869.81 903.63,868.77" fill="#000" stroke="none" stroke-width="0"/>
<text x="903" y="838.5" font-family="Liberation Sans" font-size="16" text-anchor="start" fill="#a8c8f8" font-weight="normal" font-style="normal" textLength="18.3" lengthAdjust="spacingAndGlyphs">TA</text>
<text x="938" y="868.6" font-family="Liberation Sans" font-size="16" text-anchor="start" fill="#f4935a" font-weight="normal" font-style="normal" textLength="36.4" lengthAdjust="spacingAndGlyphs">MQT</text>
<text x="888.5" y="891.6" font-family="Liberation Serif" font-size="17" text-anchor="start" fill="#000" font-weight="normal" font-style="italic">ω</text>
<text x="901" y="899" font-family="Liberation Sans" font-size="12" text-anchor="start" fill="#000" font-weight="normal" font-style="normal">p</text>
<text x="851.5" y="886.8" font-family="Liberation Sans" font-size="18" text-anchor="start" fill="#000" font-weight="normal" font-style="normal" textLength="33" lengthAdjust="spacingAndGlyphs" transform="rotate(-90 851.5 886.8)"><tspan font-style="italic">U</tspan>(<tspan font-style="italic" font-family="Liberation Serif">φ</tspan>)</text>
<text x="912.5" y="937.5" font-family="Liberation Serif" font-size="18" text-anchor="start" fill="#000" font-weight="normal" font-style="italic">φ</text>
<text x="0.8" y="413.2" font-family="Liberation Sans" font-size="28" text-anchor="start" fill="#000" font-weight="bold" font-style="normal" stroke="#000" stroke-width="1.15">d</text>
<polygon points="33,754.5 302.1,962.5 525.2,714.9 258.5,529" fill="#f4f4f4" stroke="none" stroke-width="0"/>
<polygon points="258.75,391.25 533.9,581.3 515.4,714.9 258.75,529" fill="#ffffff" stroke="none" stroke-width="0"/>
<polyline points="258.75,529 258.75,391.25 533.9,581.3 515.4,714.9" fill="none" stroke="#d4d4d4" stroke-width="0.9" stroke-linejoin="miter" stroke-linecap="butt"/>
<line x1="258.75" y1="429.5" x2="529.3" y2="616.6" stroke="#d4d4d4" stroke-width="0.9" stroke-linecap="butt"/>
<line x1="258.75" y1="465" x2="523.6" y2="651" stroke="#d4d4d4" stroke-width="0.9" stroke-linecap="butt"/>
<line x1="258.75" y1="500" x2="519.5" y2="683" stroke="#d4d4d4" stroke-width="0.9" stroke-linecap="butt"/>
<line x1="325" y1="437.8" x2="322.2" y2="575.5" stroke="#d4d4d4" stroke-width="0.9" stroke-linecap="butt"/>
<line x1="393.75" y1="485.2" x2="386.5" y2="620.5" stroke="#d4d4d4" stroke-width="0.9" stroke-linecap="butt"/>
<line x1="462.5" y1="532.8" x2="452" y2="667.5" stroke="#d4d4d4" stroke-width="0.9" stroke-linecap="butt"/>
<line x1="258.75" y1="529" x2="515.4" y2="714.9" stroke="#d4d4d4" stroke-width="0.9" stroke-linecap="butt"/>
<line x1="42.3" y1="751.7" x2="301.25" y2="950.7" stroke="#d4d4d4" stroke-width="0.9" stroke-linecap="butt"/>
<line x1="81" y1="715.5" x2="338.6" y2="910.3" stroke="#d4d4d4" stroke-width="0.9" stroke-linecap="butt"/>
<line x1="117.2" y1="676.5" x2="376.2" y2="869.8" stroke="#d4d4d4" stroke-width="0.9" stroke-linecap="butt"/>
<line x1="153.3" y1="640.3" x2="412.4" y2="830.8" stroke="#d4d4d4" stroke-width="0.9" stroke-linecap="butt"/>
<line x1="189.5" y1="604.1" x2="447.1" y2="791.7" stroke="#d4d4d4" stroke-width="0.9" stroke-linecap="butt"/>
<line x1="224.2" y1="568" x2="481.9" y2="753.5" stroke="#d4d4d4" stroke-width="0.9" stroke-linecap="butt"/>
<line x1="42.3" y1="751.7" x2="224.2" y2="568" stroke="#d4d4d4" stroke-width="0.9" stroke-linecap="butt"/>
<line x1="104.7" y1="799.9" x2="286.3" y2="612.7" stroke="#d4d4d4" stroke-width="0.9" stroke-linecap="butt"/>
<line x1="168.1" y1="848.8" x2="349.4" y2="658.2" stroke="#d4d4d4" stroke-width="0.9" stroke-linecap="butt"/>
<line x1="234.2" y1="899.5" x2="415.1" y2="705.5" stroke="#d4d4d4" stroke-width="0.9" stroke-linecap="butt"/>
<line x1="301.25" y1="950.7" x2="481.9" y2="753.5" stroke="#d4d4d4" stroke-width="0.9" stroke-linecap="butt"/>
<line x1="33" y1="754.5" x2="302.1" y2="962.5" stroke="#000" stroke-width="1.1" stroke-linecap="butt"/>
<line x1="302.1" y1="962.5" x2="525.2" y2="714.9" stroke="#000" stroke-width="1.1" stroke-linecap="butt"/>
<line x1="525.2" y1="714.9" x2="544.9" y2="578.9" stroke="#000" stroke-width="1.1" stroke-linecap="butt"/>
<line x1="33.9" y1="763.5" x2="40.6" y2="755.3" stroke="#000" stroke-width="1.1" stroke-linecap="butt"/>
<text x="18.9" y="794.5" font-family="Liberation Sans" font-size="17" text-anchor="middle" fill="#000" font-weight="normal" font-style="normal" textLength="36.5" lengthAdjust="spacingAndGlyphs">0.39</text>
<line x1="96.4" y1="812.1" x2="103.1" y2="803.9" stroke="#000" stroke-width="1.1" stroke-linecap="butt"/>
<text x="81" y="842" font-family="Liberation Sans" font-size="17" text-anchor="middle" fill="#000" font-weight="normal" font-style="normal" textLength="36.5" lengthAdjust="spacingAndGlyphs">0.40</text>
<line x1="159.9" y1="862" x2="166.6" y2="853.8" stroke="#000" stroke-width="1.1" stroke-linecap="butt"/>
<text x="147.2" y="892" font-family="Liberation Sans" font-size="17" text-anchor="middle" fill="#000" font-weight="normal" font-style="normal" textLength="36.5" lengthAdjust="spacingAndGlyphs">0.41</text>
<line x1="226" y1="912" x2="232.7" y2="903.8" stroke="#000" stroke-width="1.1" stroke-linecap="butt"/>
<text x="210.6" y="942" font-family="Liberation Sans" font-size="17" text-anchor="middle" fill="#000" font-weight="normal" font-style="normal" textLength="36.5" lengthAdjust="spacingAndGlyphs">0.42</text>
<line x1="293.1" y1="962.5" x2="299.8" y2="954.3" stroke="#000" stroke-width="1.1" stroke-linecap="butt"/>
<text x="267.3" y="990.5" font-family="Liberation Sans" font-size="17" text-anchor="middle" fill="#000" font-weight="normal" font-style="normal" textLength="36.5" lengthAdjust="spacingAndGlyphs">0.43</text>
<line x1="304" y1="955.3" x2="312" y2="961.7" stroke="#000" stroke-width="1.1" stroke-linecap="butt"/>
<text x="323.6" y="979" font-family="Liberation Sans" font-size="17" text-anchor="middle" fill="#000" font-weight="normal" font-style="normal" textLength="11" lengthAdjust="spacingAndGlyphs">0</text>
<line x1="341.4" y1="914.9" x2="349.4" y2="921.3" stroke="#000" stroke-width="1.1" stroke-linecap="butt"/>
<text x="371.4" y="940.5" font-family="Liberation Sans" font-size="17" text-anchor="middle" fill="#000" font-weight="normal" font-style="normal" textLength="26" lengthAdjust="spacingAndGlyphs">0.2</text>
<line x1="379" y1="874.4" x2="387" y2="880.8" stroke="#000" stroke-width="1.1" stroke-linecap="butt"/>
<text x="406.1" y="898.5" font-family="Liberation Sans" font-size="17" text-anchor="middle" fill="#000" font-weight="normal" font-style="normal" textLength="26" lengthAdjust="spacingAndGlyphs">0.4</text>
<line x1="415.2" y1="835.4" x2="423.2" y2="841.8" stroke="#000" stroke-width="1.1" stroke-linecap="butt"/>
<text x="443.7" y="861" font-family="Liberation Sans" font-size="17" text-anchor="middle" fill="#000" font-weight="normal" font-style="normal" textLength="26" lengthAdjust="spacingAndGlyphs">0.6</text>
<line x1="449.9" y1="796.3" x2="457.9" y2="802.7" stroke="#000" stroke-width="1.1" stroke-linecap="butt"/>
<text x="479.9" y="819" font-family="Liberation Sans" font-size="17" text-anchor="middle" fill="#000" font-weight="normal" font-style="normal" textLength="26" lengthAdjust="spacingAndGlyphs">0.8</text>
<line x1="484.6" y1="758.1" x2="492.6" y2="764.5" stroke="#000" stroke-width="1.1" stroke-linecap="butt"/>
<text x="510.2" y="781.5" font-family="Liberation Sans" font-size="17" text-anchor="middle" fill="#000" font-weight="normal" font-style="normal" textLength="26" lengthAdjust="spacingAndGlyphs">1.0</text>
<line x1="524" y1="714.1" x2="532" y2="718.5" stroke="#000" stroke-width="1.1" stroke-linecap="butt"/>
<text x="549.5" y="729" font-family="Liberation Sans" font-size="17" text-anchor="middle" fill="#000" font-weight="normal" font-style="normal" textLength="11" lengthAdjust="spacingAndGlyphs">0</text>
<line x1="529.2" y1="682.9" x2="537.2" y2="687.3" stroke="#000" stroke-width="1.1" stroke-linecap="butt"/>
<text x="561.6" y="697" font-family="Liberation Sans" font-size="17" text-anchor="middle" fill="#000" font-weight="normal" font-style="normal" textLength="31" lengthAdjust="spacingAndGlyphs">100</text>
<line x1="533.6" y1="649.9" x2="541.6" y2="654.3" stroke="#000" stroke-width="1.1" stroke-linecap="butt"/>
<text x="569.4" y="666.7" font-family="Liberation Sans" font-size="17" text-anchor="middle" fill="#000" font-weight="normal" font-style="normal" textLength="31" lengthAdjust="spacingAndGlyphs">200</text>
<line x1="538.4" y1="616.9" x2="546.4" y2="621.3" stroke="#000" stroke-width="1.1" stroke-linecap="butt"/>
<text x="574.6" y="632.8" font-family="Liberation Sans" font-size="17" text-anchor="middle" fill="#000" font-weight="normal" font-style="normal" textLength="31" lengthAdjust="spacingAndGlyphs">300</text>
<text x="631.5" y="611.2" font-family="Liberation Sans" font-size="20.5" text-anchor="start" fill="#000" font-weight="normal" font-style="normal" textLength="106" lengthAdjust="spacingAndGlyphs" transform="rotate(90 631.5 611.2)">Normalized</text>
<text x="607.5" y="632.9" font-family="Liberation Sans" font-size="20.5" text-anchor="start" fill="#000" font-weight="normal" font-style="normal" textLength="63.3" lengthAdjust="spacingAndGlyphs" transform="rotate(90 607.5 632.9)">counts</text>
<text x="474.8" y="885.7" font-family="Liberation Sans" font-size="20.5" text-anchor="middle" fill="#000" font-weight="normal" font-style="normal" textLength="152" lengthAdjust="spacingAndGlyphs" transform="rotate(-47.6 474.8 885.7)">Temperature (K)</text>
<text x="118" y="922" font-family="Liberation Sans" font-size="19" text-anchor="middle" fill="#000" font-weight="normal" font-style="normal" transform="rotate(38 118 922)"><tspan font-style="italic">I</tspan><tspan font-size="13" dy="4" font-style="italic">s</tspan><tspan dy="-4"> (μA)</tspan></text>
<polyline points="272.5,541.25 273.62,541.96 274.75,542.21 275.88,541.32 277,540.48 278.1,539.67 279.2,541.41 280.3,540.18 281.4,541.01 282.5,540.27 283,539.56 283.5,538.64 284,536.85 284.5,537.44 285,533.97 285.5,534.07 286,533.07 286.5,531.43 287,530.75 287.5,530.08 287.78,529.93 288.06,528.63 288.33,527.54 288.61,525.22 288.89,522.82 289.17,522.34 289.44,521.59 289.72,520.39 290,520.84 290.28,519.97 290.56,516.89 290.83,517.95 291.11,514.74 291.39,513.18 291.67,513.39 291.94,512.59 292.22,510.67 292.5,510.22 292.92,509.17 293.33,507.43 293.75,508.12 294.17,503.87 294.58,504.43 295,502.24 295.47,504.6 295.94,506.83 296.41,506.65 296.88,507.54 297.34,508.3 297.81,511.22 298.28,511.56 298.75,512.5 299.38,513.97 300,514.84 300.62,515.87 301.25,515.61 301.88,517.43 302.5,519.18 303.21,520.83 303.93,520.79 304.64,522.39 305.36,523.29 306.07,523.1 306.79,525.35 307.5,526.92 307.92,523.78 308.33,523.59 308.75,519.89 309.17,520.31 309.58,518.6 310,517.28 310.42,516.36 310.83,517.26 311.25,514.09 311.51,515.8 311.78,512.93 312.04,508.99 312.3,510.2 312.57,508.31 312.83,507.66 313.09,507.39 313.36,505.33 313.62,504.7 313.88,504.65 314.14,503.66 314.41,500.98 314.67,502.28 314.93,498.51 315.2,498.88 315.46,497.36 315.72,494.9 315.99,495.19 316.25,494.01 316.43,492.63 316.61,495.06 316.79,496.73 316.96,498.1 317.14,498.09 317.32,502.1 317.5,502.14 317.68,502.64 317.86,504.87 318.04,504.96 318.21,504.58 318.39,507.89 318.57,508.05 318.75,510.96 318.98,511.18 319.22,512.47 319.45,513.08 319.69,514.25 319.92,513.72 320.16,515.1 320.39,517.8 320.62,518.74 320.86,520.43 321.09,521.49 321.33,521.29 321.56,521.01 321.8,523.31 322.03,526.68 322.27,526.31 322.5,527.11 322.69,528.5 322.88,531.22 323.08,532.88 323.27,532.33 323.46,533.43 323.65,534.19 323.85,536.7 324.04,536.78 324.23,538.09 324.42,539.61 324.62,539.63 324.81,543.27 325,543.24 325.34,543.77 325.68,544.55 326.02,545.55 326.36,546.36 326.7,547.57 327.05,549.15 327.39,548.79 327.73,553.28 328.07,552.6 328.41,553.8 328.75,556.27 328.96,555.88 329.17,558.16 329.38,558.27 329.58,558.57 329.79,560.58 330,562.8 330.21,563.13 330.42,564.07 330.62,565.34 330.83,565.53 331.04,566.76 331.25,567.13 331.46,570.59 331.67,569.62 331.88,571.64 332.08,571.85 332.29,575.81 332.5,575.61 332.92,576.05 333.33,575.6 333.75,576.4 334.17,577.37 334.58,580.36 335,578.05 335.42,582.81 335.83,583.01 336.25,583.6 336.67,584.3 337.08,585.76 337.5,584.73 339,589" fill="none" stroke="#1f77b4" stroke-width="1.8" stroke-linejoin="round" stroke-linecap="butt" opacity="0.55"/>
<polyline points="311.25,568.75 312.2,568.85 313.15,569.74 314.1,569.31 315.05,571.64 316,571.65 317.33,573.6 318.67,572.9 320,572.77 320.62,570.84 321.25,571.43 321.88,569.15 322.5,569.12 323.12,569.18 323.75,568.02 324.38,566.65 325,564.35 325.5,561.1 326,563.81 326.5,561.89 327,559.29 327.5,560.15 328,557.97 328.5,557.38 329,555.58 329.5,554.89 330,555.18 330.83,555.12 331.67,551.02 332.5,553.2 333.33,551.62 334.17,550.81 335,549.26 335.83,549.4 336.67,546.3 337.5,547.42 338.57,545.91 339.64,548.26 340.71,547.95 341.79,548.53 342.86,549.45 343.93,549.38 345,550.27 346.07,551.33 347.14,550.08 348.21,550.21 349.29,549.47 350.36,548.3 351.43,545.37 352.5,546.66 352.97,544.1 353.44,543.93 353.91,543.58 354.38,540.91 354.84,540.5 355.31,538.75 355.78,535.38 356.25,538 356.61,536.65 356.96,534.64 357.32,535.05 357.68,532.86 358.04,531.3 358.39,531.91 358.75,530.87 359.03,531.04 359.31,531.51 359.58,530.7 359.86,534.71 360.14,534.24 360.42,537.2 360.69,539.35 360.97,538.39 361.25,540.29 361.46,540.95 361.67,542.02 361.88,544.65 362.08,544.66 362.29,545.29 362.5,545.72 362.71,546.65 362.92,548.07 363.12,551.32 363.33,550.46 363.54,552.6 363.75,553.46 363.96,554.03 364.17,556.4 364.38,557.97 364.58,557.33 364.79,558.27 365,559.54 365.27,558.97 365.54,560.27 365.8,561.98 366.07,565.32 366.34,564.64 366.61,566.64 366.88,567.68 367.14,569.87 367.41,569.59 367.68,570.94 367.95,572.04 368.21,573.66 368.48,573.86 368.75,574.06 368.96,576.9 369.17,578.63 369.38,577.55 369.58,580.25 369.79,580.72 370,581.84 370.21,583.3 370.42,585.67 370.62,584.1 370.83,586.72 371.04,588.77 371.25,590.25 371.46,589.87 371.67,589.83 371.88,590.49 372.08,593.37 372.29,591.7 372.5,595.19 373,595.74 373.5,596.51 374,594.8 374.5,598.12 375,600.09 375.5,602.09 376,600.16 376.31,603.51 376.62,602.67 376.92,605.03 377.23,604.86 377.54,607.44 377.85,607.31 378.15,606.34 378.46,611.53 378.77,613.17 379.08,612.87 379.38,613.47 379.69,614.56 380,615.52 380.8,617.58 381.6,618.58 382.4,619.09 383.2,619.91 384,620" fill="none" stroke="#ff7f0e" stroke-width="1.8" stroke-linejoin="round" stroke-linecap="butt" opacity="0.55"/>
<polyline points="343.75,591.25 344.84,591.89 345.94,592 347.03,590.04 348.12,590.03 349.22,591.61 350.31,590.63 351.41,591.29 352.5,588.92 353.08,590.25 353.65,589.34 354.23,586.06 354.81,586.56 355.38,586.01 355.96,585.29 356.54,583.28 357.12,582.73 357.69,579.76 358.27,580.29 358.85,579.91 359.42,578.14 360,576.81 360.56,575.78 361.11,574.57 361.67,572.83 362.22,571.32 362.78,573.07 363.33,572.65 363.89,569.62 364.44,568 365,567.49 365.56,568.94 366.11,566.61 366.67,564.05 367.22,564.66 367.78,563.34 368.33,563.41 368.89,562.18 369.44,561.99 370,559.54 370.91,559.59 371.82,559.47 372.73,558.42 373.64,557.86 374.55,557.4 375.45,555.29 376.36,555.59 377.27,554.52 378.18,553.22 379.09,553.7 380,551.56 380.88,551.81 381.75,551.42 382.62,548.84 383.5,550.67 384.38,548.63 385.25,548.02 386.12,546.36 387,545.3 387.88,547.07 388.75,544.66 389.11,545.82 389.46,548.79 389.82,548.79 390.18,549.52 390.54,549.12 390.89,551.82 391.25,553.34 391.48,553.35 391.72,553.99 391.95,554.08 392.19,556.64 392.42,559.17 392.66,559.4 392.89,560.05 393.12,561.48 393.36,562.28 393.59,562.55 393.83,563.9 394.06,566.7 394.3,565.68 394.53,569.11 394.77,569.61 395,569.61 395.14,569.31 395.28,572.91 395.42,573.24 395.56,573.87 395.69,576.48 395.83,576.73 395.97,578.88 396.11,578.57 396.25,579.19 396.39,581.38 396.53,582.39 396.67,584.38 396.81,584.57 396.94,586.73 397.08,584.85 397.22,588.33 397.36,588.11 397.5,588.72 397.69,592.36 397.88,591.55 398.08,595.02 398.27,593.73 398.46,593.83 398.65,596.84 398.85,598.47 399.04,599.82 399.23,599.91 399.42,601.59 399.62,602.89 399.81,603.09 400,603.39 400.15,608.07 400.31,606.96 400.46,608.32 400.62,608.91 400.77,607.57 400.92,612.96 401.08,613 401.23,614.57 401.38,616.18 401.54,614.87 401.69,618.63 401.85,619.39 402,621.23 402.17,620.19 402.33,622.85 402.5,622.48 402.67,625.01 402.83,626.72 403,625.54 403.17,627.71 403.33,626.2 403.5,629.57 403.67,633.2 403.83,631.8 404,633.24 405,635.76 406,634.99 407,637.35 408,636.32 409,637.78 410,638" fill="none" stroke="#2ca02c" stroke-width="1.8" stroke-linejoin="round" stroke-linecap="butt" opacity="0.55"/>
<polyline points="362,606 363,607.65 364,607.06 365,607.88 366,608.78 367,607.51 368,610.96 369,610.79 370,609.79 371,611.79 372,612.31 372.89,611.35 373.78,614.17 374.67,614.28 375.56,613.45 376.44,614.47 377.33,616.93 378.22,615.95 379.11,617.45 380,619.92 381,618.33 382,618.79 383,618.72 384,619.36 384.67,619.46 385.33,619.67 386,618.34 386.67,613.28 387.33,615.85 388,614.87 388.67,612.28 389.33,612.1 390,611.45 390.33,610.89 390.67,607.42 391,609.5 391.33,606.69 391.67,606.57 392,606.27 392.33,603.42 392.67,603.86 393,601.62 393.33,600.12 393.67,597.16 394,598.06 394.33,597.93 394.67,595.32 395,596.93 395.33,592.56 395.67,591.4 396,593.18 396.47,590.54 396.94,589.47 397.41,589.36 397.88,587.19 398.35,586.4 398.82,586.31 399.29,583.88 399.76,583.05 400.24,583.56 400.71,582.66 401.18,578.49 401.65,576.97 402.12,579.09 402.59,577.28 403.06,575.28 403.53,571.86 404,574.24 404.25,569.67 404.5,569.88 404.75,570.28 405,569.75 405.25,567.68 405.5,567.44 405.75,564.43 406,564.38 406.25,563.97 406.5,561.21 406.75,561.48 407,561.12 407.25,559.87 407.5,557.77 407.75,559.04 408,554.5 408.17,555.15 408.34,555.04 408.51,552.3 408.68,551.13 408.86,550.92 409.03,548.96 409.2,549.23 409.37,546.37 409.54,546.37 409.71,545.74 409.88,544.4 410.05,542 410.22,543.55 410.39,538.77 410.57,539.16 410.74,538.84 410.91,537.32 411.08,537.45 411.25,534.79 411.8,537.37 412.35,536.68 412.9,537.95 413.45,539.46 414,538.13 415.12,539.14 416.25,538.63 416.62,540.02 417,540.73 417.38,540.37 417.75,543.51 418.12,545.14 418.5,545.32 418.88,547.27 419.25,546.17 419.62,547.86 420,550.14 420.07,550.34 420.14,550.67 420.2,553.97 420.27,553.95 420.34,555.23 420.41,555.83 420.48,556.81 420.55,557.87 420.61,560.64 420.68,559.78 420.75,562.39 420.82,563.66 420.89,565.31 420.95,566.92 421.02,565.04 421.09,568.89 421.16,569.37 421.23,570.86 421.3,571.09 421.36,571.82 421.43,573.72 421.5,575.94 421.52,576.29 421.55,576.96 421.57,578.26 421.59,578.88 421.61,579.97 421.64,581.81 421.66,582.86 421.68,584.58 421.7,584.58 421.73,586.02 421.75,587.27 421.77,588.29 421.8,590.86 421.82,590.11 421.84,592.53 421.86,593.95 421.89,592.93 421.91,596.43 421.93,595.43 421.95,597.13 421.98,598.85 422,600.23 422.06,598.38 422.12,600.95 422.19,601.94 422.25,605.09 422.31,604.73 422.38,606.53 422.44,606.29 422.5,608.89 422.56,609.57 422.62,611.06 422.69,612.24 422.75,611.72 422.81,613.91 422.88,615.96 422.94,615.7 423,618.7 423.06,619.81 423.12,621.44 423.19,621.89 423.25,622.96 423.31,623.95 423.38,625.88 423.44,625.7 423.5,625.87 423.56,627.94 423.62,627.6 423.69,630.29 423.75,633.42 423.81,634.11 423.88,633.48 423.94,634.69 424,637 424.29,637.46 424.57,639.82 424.86,638.77 425.14,641.06 425.43,641.58 425.71,644.78 426,644.17 426.29,645.45 426.57,645.24 426.86,648.15 427.14,647.69 427.43,649.87 427.71,652.1 428,653.66 429,653.27 430,652.97 431,652.25 432,653.39 433,653.74 434,656.46 435,654.29 436,656" fill="none" stroke="#d62728" stroke-width="1.8" stroke-linejoin="round" stroke-linecap="butt" opacity="0.55"/>
<polyline points="416,642 417,643.38 418,640.52 419,639.76 420,640.07 420.5,639.38 421,637.71 421.5,635.83 422,634.49 422.5,634.41 423,635.2 423.5,631.84 424,632.25 424.5,630.6 425,629.82 425.5,629.34 426,627.35 426.5,625.26 427,627.92 427.5,626.38 428,624.36 428.4,621.5 428.8,620.29 429.2,620.53 429.6,619.69 430,619.39 430.4,618.74 430.8,618.29 431.2,613.61 431.6,614.13 432,612.01 432.4,612.11 432.8,610.39 433.2,611.4 433.6,607.5 434,606.45 434.27,604.26 434.55,606.17 434.82,605.78 435.09,602.51 435.36,601.94 435.64,601.02 435.91,601.52 436.18,599.35 436.45,598.06 436.73,597.54 437,596.74 437.27,595.08 437.55,594.49 437.82,591.49 438.09,591.96 438.36,589.85 438.64,589.32 438.91,590.16 439.18,588.14 439.45,583.97 439.73,584.37 440,584.19 440.46,583.84 440.92,581.52 441.38,582.69 441.85,580.04 442.31,575.42 442.77,577.33 443.23,576.57 443.69,575.97 444.15,574.45 444.62,572.72 445.08,571.83 445.54,572.34 446,571.17 446.46,568.46 446.92,566.2 447.38,566.37 447.85,566.65 448.31,563.45 448.77,561.38 449.23,561.95 449.69,561.15 450.15,561.05 450.62,558.89 451.08,558.34 451.54,557.77 452,555.96 453,553.74 454,555.92 454.04,555.58 454.09,557.05 454.13,557.4 454.17,560.37 454.22,558.42 454.26,560.33 454.3,561.83 454.35,563.08 454.39,565.17 454.43,566.45 454.48,564.38 454.52,568.42 454.57,569.48 454.61,568.82 454.65,571.15 454.7,573.07 454.74,573.59 454.78,574.47 454.83,575.21 454.87,577.22 454.91,576.17 454.96,579.9 455,578.55 455.03,580.2 455.06,582.41 455.08,584.52 455.11,584.02 455.14,586.28 455.17,586.4 455.19,587.06 455.22,590.19 455.25,587.89 455.28,591.98 455.31,590.13 455.33,595.05 455.36,595.26 455.39,594.63 455.42,597.23 455.44,598.93 455.47,597.34 455.5,601.77 455.53,601.4 455.56,602.27 455.58,601.87 455.61,603.96 455.64,606.4 455.67,606.58 455.69,609.11 455.72,608.59 455.75,610.6 455.78,611.44 455.81,610.15 455.83,613.15 455.86,614.57 455.89,613.98 455.92,616.06 455.94,617.46 455.97,619.14 456,620.76 456.06,621.56 456.11,622.54 456.17,621.93 456.22,625.2 456.28,626.87 456.33,627.32 456.39,627.67 456.44,628.56 456.5,629.88 456.56,630.29 456.61,632.07 456.67,634.45 456.72,635.43 456.78,636.27 456.83,637.66 456.89,637.63 456.94,638.57 457,640.86 457.06,639 457.11,643.36 457.17,644.09 457.22,644.24 457.28,647.48 457.33,646.98 457.39,647.42 457.44,648.8 457.5,650.21 457.56,651.44 457.61,652.87 457.67,653.05 457.72,654.33 457.78,653.79 457.83,656.58 457.89,657.57 457.94,657.8 458,657.59 458.14,662.34 458.29,662.07 458.43,664.53 458.57,663.66 458.71,665.04 458.86,665.1 459,666.75 459.14,669.87 459.29,670.59 459.43,670.16 459.57,671.1 459.71,673.54 459.86,676.18 460,676" fill="none" stroke="#9467bd" stroke-width="1.8" stroke-linejoin="round" stroke-linecap="butt" opacity="0.55"/>
<polyline points="402,634 403,635.24 404,634.58 405,635.17 406,637.92 407,636.07 408,638.91 409,637.85 410,639.27 411,637.48 412,640.49 413,640.82 414,638.9 415,637.78 416,637.88 417,637.16 418,636.66 419,638.41 420,634.2 420.71,634.22 421.43,635.03 422.14,632.17 422.86,631.29 423.57,633.37 424.29,630.47 425,630.71 425.71,629.85 426.43,628.61 427.14,627.76 427.86,628.26 428.57,622.55 429.29,626.67 430,624.68 430.56,621.79 431.11,622.38 431.67,622.22 432.22,620.62 432.78,618.92 433.33,618.71 433.89,618.49 434.44,616.85 435,615.96 435.56,615.67 436.11,614.91 436.67,612.54 437.22,610.02 437.78,611.12 438.33,608.44 438.89,607.49 439.44,606.26 440,604.33 440.62,605.65 441.23,604.19 441.85,602.96 442.46,602.16 443.08,602.37 443.69,599.2 444.31,599.13 444.92,599.09 445.54,597.95 446.15,596.12 446.77,595.53 447.38,596.56 448,595.42 449,593.65 450,594.02 451,591.47 452,590.32 453,591.05 454,591.75 454.67,591.18 455.33,591.29 456,593.78 456.67,594.61 457.33,593.44 458,593.84 458.67,596.69 459.33,597.94 460,598.44 460.4,598.52 460.8,599.81 461.2,599.77 461.6,603.24 462,603.83 462.09,603.65 462.17,607.63 462.26,607.2 462.35,606.01 462.43,610.93 462.52,611.74 462.61,612.56 462.7,613.79 462.78,614.07 462.87,614.23 462.96,618.26 463.04,618.55 463.13,618.69 463.22,619.45 463.3,620.61 463.39,622.63 463.48,621.77 463.57,623.62 463.65,625.6 463.74,625.88 463.83,624.72 463.91,629.95 464,630.09 464.15,632.14 464.3,632.05 464.44,633.78 464.59,635.56 464.74,635.74 464.89,638.17 465.04,637.94 465.19,639.13 465.33,640.26 465.48,639.93 465.63,642.8 465.78,643.16 465.93,643.45 466.07,645.84 466.22,645.45 466.37,647.51 466.52,649.69 466.67,649.3 466.81,651.83 466.96,651.13 467.11,652.39 467.26,655.66 467.41,654.63 467.56,656.89 467.7,657.25 467.85,659.69 468,660.41 468.18,660.64 468.36,662.86 468.55,664.95 468.73,664.04 468.91,664.65 469.09,664.12 469.27,667.03 469.45,669.01 469.64,670.1 469.82,668.1 470,670.29 470.18,673.63 470.36,675.09 470.55,676.54 470.73,676.16 470.91,678.06 471.09,679.58 471.27,679.92 471.45,680.11 471.64,682.44 471.82,682.99 472,682.18 473,685.8 474,686" fill="none" stroke="#bcbd22" stroke-width="1.8" stroke-linejoin="round" stroke-linecap="butt" opacity="0.55"/>
<polyline points="422,649 423,646.53 424,648 425,652.13 426,651.61 427,652.4 428,651.84 429,651.92 430,651.52 431,654 432,653.04 433.14,653.95 434.29,650.73 435.43,653.63 436.57,653.22 437.71,651.33 438.86,651.85 440,652.3 440.73,651.53 441.45,649.3 442.18,651.1 442.91,648.3 443.64,647.96 444.36,646.78 445.09,643.27 445.82,643.68 446.55,644.74 447.27,641.81 448,642.91 448.6,641.83 449.2,640.99 449.8,639.39 450.4,638.17 451,635.45 451.6,636.05 452.2,635.39 452.8,635.77 453.4,633.12 454,632.79 454.5,632.42 455,630.65 455.5,628.92 456,628.44 456.5,625.92 457,626.51 457.5,626.92 458,624.73 458.5,622.4 459,623.14 459.5,619.52 460,619.74 460.4,619.08 460.8,616.14 461.2,616.82 461.6,615.48 462,613.43 462.4,611.65 462.8,612.97 463.2,612.82 463.6,609.47 464,609.12 464.4,608.1 464.8,607.49 465.2,606.98 465.6,604.38 466,605.45 466.5,604.26 467,603.76 467.5,600.5 468,599.21 468.5,598.86 469,597.29 469.5,596.24 470,595.78 470.5,595.07 471,593.02 471.5,592.31 472,592.77 473,592.98 474,593.5 475,593.96 476,591.23 476.14,594.04 476.29,596.55 476.43,597.25 476.57,599.4 476.71,600.24 476.86,601.5 477,603.09 477.14,603.34 477.29,605.4 477.43,607.35 477.57,605.28 477.71,608.15 477.86,607.87 478,610.46 478.11,611.21 478.22,609.98 478.33,614.11 478.44,615.32 478.56,615.66 478.67,618.07 478.78,618.6 478.89,616.85 479,620.63 479.11,620 479.22,622.18 479.33,623.06 479.44,624.44 479.56,625.38 479.67,624.84 479.78,626.38 479.89,629.62 480,629.79 480.07,630.97 480.15,630.89 480.22,633.23 480.3,635.18 480.37,636.06 480.44,635.64 480.52,636.18 480.59,637.26 480.67,638.44 480.74,639.74 480.81,641.73 480.89,644.38 480.96,645.46 481.04,645.38 481.11,646.98 481.19,647.11 481.26,650.11 481.33,650.96 481.41,652.81 481.48,652.39 481.56,654.54 481.63,653.26 481.7,654.55 481.78,655.85 481.85,659.48 481.93,659.92 482,660.55 482.11,661.18 482.22,661.88 482.33,663.59 482.44,666.36 482.56,666.21 482.67,666.62 482.78,665.19 482.89,670.08 483,669.25 483.11,669.95 483.22,671.45 483.33,674.37 483.44,676.26 483.56,676.66 483.67,677.32 483.78,678.79 483.89,677.2 484,678.96 484.29,679.71 484.57,681.15 484.86,681.14 485.14,683.96 485.43,682.51 485.71,685.22 486,687.06 486.29,688.8 486.57,691.55 486.86,690.6 487.14,691.39 487.43,693.74 487.71,695.66 488,696" fill="none" stroke="#7f7f7f" stroke-width="1.8" stroke-linejoin="round" stroke-linecap="butt" opacity="0.55"/>
<polyline points="424,652 425.08,652.34 426.15,653.88 427.23,652.1 428.31,653.32 429.38,653.56 430.46,653.12 431.54,654.8 432.62,654.03 433.69,652.94 434.77,653.92 435.85,655.12 436.92,655.97 438,656.44 438.71,655.77 439.43,654.72 440.14,652.87 440.86,652.36 441.57,652.5 442.29,650.64 443,648 443.71,649.27 444.43,649.52 445.14,648.86 445.86,645.62 446.57,645.01 447.29,643.29 448,644.81 448.56,642.19 449.11,641.06 449.67,640.19 450.22,639.89 450.78,637.55 451.33,638.97 451.89,637.08 452.44,635.45 453,634.5 453.56,633.05 454.11,631.27 454.67,633.41 455.22,629.4 455.78,629.16 456.33,629.51 456.89,629.42 457.44,626.8 458,626.24 458.5,623.64 459,623.21 459.5,624.92 460,623.74 460.5,619.71 461,619.49 461.5,619.82 462,619.91 462.5,616.72 463,615.78 463.5,612.79 464,615.44 464.5,614.92 465,613.47 465.5,610.19 466,610.53 466.5,608.49 467,609.05 467.5,607.18 468,605.78 468.3,602.67 468.6,602.35 468.9,601.62 469.2,599.76 469.5,601.17 469.8,598.16 470.1,599.89 470.4,597.33 470.7,597.02 471,596.23 471.3,594.21 471.6,592.68 471.9,589.18 472.2,590.51 472.5,591.03 472.8,589.98 473.1,588.58 473.4,584.13 473.7,585.61 474,583.73 474.31,583.69 474.62,581.41 474.94,580.47 475.25,579.24 475.56,577.25 475.88,577.74 476.19,575.59 476.5,575.86 476.81,573.72 477.12,571.98 477.44,572.69 477.75,571.02 478.06,570.41 478.38,567.59 478.69,567.52 479,564.29 479.06,567.86 479.11,569.34 479.17,567.25 479.22,569.95 479.28,570.3 479.33,572.79 479.39,573.81 479.44,575.62 479.5,576.09 479.56,576.12 479.61,578.8 479.67,579.94 479.72,580.92 479.78,581.22 479.83,582.5 479.89,584.23 479.94,584.56 480,586.16 480.03,588.12 480.07,588.31 480.1,588.98 480.13,591.07 480.17,591.86 480.2,592.34 480.23,593.74 480.27,595.44 480.3,594.69 480.33,596.52 480.37,599.5 480.4,599.79 480.43,601.99 480.47,603.43 480.5,603.01 480.53,602.72 480.57,605.48 480.6,607.92 480.63,607.32 480.67,607.84 480.7,610.29 480.73,611.05 480.77,611.41 480.8,613.81 480.83,614.49 480.87,615.63 480.9,617.81 480.93,616.56 480.97,618.71 481,620.27 481.03,622.67 481.06,621.59 481.08,623.39 481.11,625.34 481.14,625.03 481.17,627.16 481.19,626.97 481.22,629.84 481.25,629.58 481.28,631.33 481.31,630.01 481.33,630.13 481.36,634.5 481.39,637.2 481.42,636.72 481.44,638.46 481.47,639.77 481.5,640.43 481.53,640.4 481.56,640.9 481.58,642.82 481.61,644.79 481.64,645.87 481.67,648.41 481.69,648.5 481.72,648.65 481.75,649.44 481.78,652.04 481.81,652.15 481.83,651.45 481.86,653.94 481.89,654.35 481.92,655.82 481.94,656.75 481.97,659.52 482,660.04 482.15,661.46 482.3,662.39 482.44,662.34 482.59,664.34 482.74,664.75 482.89,666.96 483.04,668.31 483.19,668.43 483.33,671.69 483.48,669.51 483.63,672.17 483.78,673.62 483.93,674.76 484.07,676.67 484.22,677.95 484.37,676.71 484.52,678.18 484.67,680.66 484.81,680.17 484.96,681.82 485.11,682.74 485.26,683.9 485.41,685.27 485.56,685.38 485.7,686.98 485.85,688.53 486,690.25 486.5,690.31 487,691.81 487.5,694.14 488,692.38 488.5,694.48 489,694.35 489.5,697.96 490,698" fill="none" stroke="#8c564b" stroke-width="1.8" stroke-linejoin="round" stroke-linecap="butt" opacity="0.55"/>
<polyline points="436,656 436.92,657.82 437.85,658.52 438.77,657.74 439.69,659.09 440.62,659.64 441.54,661.49 442.46,662.23 443.38,659.99 444.31,662.49 445.23,662.09 446.15,662.57 447.08,663.13 448,663.16 449,663.62 450,663.27 451,661.77 452,663.25 453,660.46 454,660.35 454.46,658.61 454.92,657.95 455.38,657.8 455.85,655.83 456.31,654.02 456.77,655.21 457.23,652.75 457.69,651.81 458.15,651.41 458.62,647.71 459.08,646.82 459.54,649 460,646.96 460.42,644.87 460.84,642.85 461.26,642.71 461.68,640.69 462.11,640.27 462.53,640.08 462.95,639.88 463.37,634.92 463.79,636.2 464.21,636.21 464.63,634.7 465.05,633.6 465.47,631.87 465.89,631.22 466.32,630.49 466.74,629.38 467.16,625.45 467.58,628.35 468,627.05 468.6,625.78 469.2,623.86 469.8,622.86 470.4,621.3 471,619.9 471.6,619.73 472.2,618.7 472.8,618.14 473.4,617.36 474,615.67 474.4,614.58 474.8,614.4 475.2,613.8 475.6,612.02 476,610.91 476.4,607.72 476.8,607.79 477.2,607.07 477.6,605.74 478,606.12 478.4,603.18 478.8,604.64 479.2,602.47 479.6,601.56 480,599.6 480.36,599.2 480.73,597.2 481.09,596.38 481.45,592.5 481.82,594.11 482.18,593.15 482.55,592.46 482.91,591.22 483.27,588.38 483.64,589.7 484,588.8 484.33,586.69 484.67,587.36 485,586.36 485.33,582.58 485.67,582.33 486,583.25 486.33,579.51 486.67,578.19 487,576.74 487.33,575.26 487.67,576.92 488,574.49 489.5,576.16 489.52,575.54 489.55,576.68 489.57,576.23 489.6,580.58 489.62,581.15 489.64,584.07 489.67,584.96 489.69,584.34 489.71,586.32 489.74,587.66 489.76,589.34 489.79,590.18 489.81,590.54 489.83,591.08 489.86,593.39 489.88,593.55 489.9,595.39 489.93,597.32 489.95,599.63 489.98,599.23 490,597.78 490.03,601.11 490.06,602.16 490.08,603.52 490.11,604.81 490.14,605.38 490.17,607.53 490.19,609.22 490.22,607.64 490.25,610.65 490.28,610.34 490.31,612.01 490.33,612.8 490.36,614.31 490.39,612.57 490.42,617.1 490.44,616.98 490.47,617.34 490.5,620.64 490.53,622.34 490.56,623.08 490.58,624.62 490.61,623.76 490.64,626.02 490.67,624.97 490.69,629.06 490.72,629.87 490.75,630.88 490.78,630.91 490.81,631.99 490.83,632.98 490.86,635.81 490.89,632.53 490.92,636.13 490.94,638.04 490.97,638.67 491,640.06 491.02,640.7 491.04,641.82 491.06,641.86 491.08,643.64 491.1,644.27 491.12,647.24 491.14,648.51 491.16,648.56 491.18,652 491.2,651.76 491.22,654.23 491.24,653.32 491.26,653.41 491.28,655.15 491.3,656.54 491.32,658.81 491.34,659.55 491.36,659.81 491.38,661.95 491.4,662.21 491.42,663.67 491.44,662.74 491.46,666.92 491.48,666.94 491.5,668.44 491.52,669.05 491.54,670.18 491.56,673.03 491.58,671.84 491.6,675.02 491.62,675.35 491.64,676.69 491.66,676.35 491.68,677.88 491.7,680.07 491.72,679.54 491.74,680.93 491.76,682.31 491.78,684.28 491.8,681.6 491.82,686.15 491.84,688.15 491.86,687.31 491.88,690.52 491.9,687.62 491.92,691.58 491.94,690.43 491.96,694.8 491.98,695.03 492,696" fill="none" stroke="#e377c2" stroke-width="1.8" stroke-linejoin="round" stroke-linecap="butt" opacity="0.55"/>
<polygon points="236.9,576.7 237.84,577.71 238.78,576.17 239.72,576.75 240.66,577.76 241.6,577.08 242.37,577.67 243.14,576.67 243.91,577.63 244.69,577.32 245.46,573.98 246.23,574.12 247,575.17 247.54,572.85 248.08,572.46 248.62,573.16 249.16,569.74 249.7,569.91 250.15,568.73 250.6,567.03 251.05,566.63 251.5,566.79 251.95,565.07 252.4,564.97 252.62,564.64 252.85,563.08 253.07,561.1 253.3,559.19 253.53,560.01 253.75,558.94 253.97,557.35 254.2,558.43 254.43,556.26 254.65,554.97 254.88,554.26 255.1,553.99 255.32,553.37 255.54,551.67 255.77,551.15 255.99,551.53 256.21,548.61 256.43,547.65 256.66,547.3 256.88,547.17 257.1,544.29 257.4,545.8 257.7,543.64 258,544.65 258.3,542.17 258.6,540.66 258.9,539.89 259.2,539.66 259.88,541.54 260.55,541.14 261.22,540.95 261.9,541.41 262.35,544.04 262.8,541.27 263.25,544.4 263.7,544.74 264.15,545.86 264.6,547.16 265.05,547.94 265.5,549.18 265.95,550.08 266.4,551.41 266.85,551.62 267.3,552.61 267.97,554.19 268.63,553.55 269.3,554.44 269.97,555.36 270.63,556.51 271.3,556.91 271.98,555.59 272.65,556.24 273.32,554.89 274,553.8 274.21,553.91 274.42,551.13 274.62,551.13 274.83,549.77 275.04,549.79 275.25,548.05 275.45,547.18 275.66,546.9 275.87,545.53 276.08,544.03 276.28,543.99 276.49,541.81 276.7,540.79 276.93,538.52 277.15,540.38 277.38,538.97 277.6,539.11 277.82,536.37 278.05,535.86 278.27,532.82 278.5,534.96 278.72,534.02 278.95,533.4 279.17,531.76 279.4,529.18 279.62,530.31 279.85,532.89 280.07,534.64 280.3,535.96 280.52,534.95 280.75,533.93 280.98,536.88 281.2,536.61 281.43,538.55 281.65,539.74 281.88,541.14 282.1,541.15 282.31,543.01 282.52,542.85 282.72,543.09 282.93,545.76 283.14,545.17 283.35,547.08 283.55,546.41 283.76,549.26 283.97,551.61 284.18,548.57 284.38,551.58 284.59,551.78 284.8,553.32 285.03,554.12 285.25,555.51 285.48,556.45 285.7,557.71 285.93,557.1 286.15,559.65 286.38,560.22 286.6,560.22 286.82,562.5 287.05,562.82 287.27,563.94 287.5,565.32 287.71,565.87 287.92,567.85 288.12,568.39 288.33,569.03 288.54,569.15 288.75,569.59 288.95,571.41 289.16,573 289.37,572.45 289.58,573.72 289.78,574.62 289.99,575.86 290.2,576.74 290.43,576.74 290.65,578.79 290.88,578.74 291.1,580.65 291.32,581.34 291.55,579.5 291.77,582.5 292,582.29 292.22,585.38 292.45,584.21 292.67,586.69 292.9,587.93 292.98,587.97 293.05,589.17 293.13,590.67 293.2,591.74 293.28,590.26 293.36,592.95 293.43,592.64 293.51,594.71 293.59,595.74 293.66,597.2 293.74,597.49 293.81,598.11 293.89,599.52 293.97,598.64 294.04,601.1 294.12,601.63 294.2,602.32 294.27,603.84 294.35,604.38 294.42,605.9 294.5,607.31 294.67,607.17 294.83,607.26 295,608.74 295.17,611.51 295.33,611.1 295.5,611.11 295.67,612.86 295.83,614.24 296,614.25 296.29,615.13 296.57,615.88 296.86,617.95 297.14,619.23 297.43,619.67 297.71,619.98 298,621.9 236.9,576.7" fill="#1f77b4" stroke="none" stroke-width="0" fill-opacity="0.85"/>
<polygon points="236.9,576.7 237.84,577.71 238.78,576.17 239.72,576.75 240.66,577.76 241.6,577.08 242.37,577.67 243.14,576.67 243.91,577.63 244.69,577.32 245.46,573.98 246.23,574.12 247,575.17 247.54,572.85 248.08,572.46 248.62,573.16 249.16,569.74 249.7,569.91 250.15,568.73 250.6,567.03 251.05,566.63 251.5,566.79 251.95,565.07 252.4,564.97 252.62,564.64 252.85,563.08 253.07,561.1 253.3,559.19 253.53,560.01 253.75,558.94 253.97,557.35 254.2,558.43 254.43,556.26 254.65,554.97 254.88,554.26 255.1,553.99 255.32,553.37 255.54,551.67 255.77,551.15 255.99,551.53 256.21,548.61 256.43,547.65 256.66,547.3 256.88,547.17 257.1,544.29 257.4,545.8 257.7,543.64 258,544.65 258.3,542.17 258.6,540.66 258.9,539.89 259.2,539.66 259.88,541.54 260.55,541.14 261.22,540.95 261.9,541.41 262.35,544.04 262.8,541.27 263.25,544.4 263.7,544.74 264.15,545.86 264.6,547.16 265.05,547.94 265.5,549.18 265.95,550.08 266.4,551.41 266.85,551.62 267.3,552.61 267.97,554.19 268.63,553.55 269.3,554.44 269.97,555.36 270.63,556.51 271.3,556.91 271.98,555.59 272.65,556.24 273.32,554.89 274,553.8 274.21,553.91 274.42,551.13 274.62,551.13 274.83,549.77 275.04,549.79 275.25,548.05 275.45,547.18 275.66,546.9 275.87,545.53 276.08,544.03 276.28,543.99 276.49,541.81 276.7,540.79 276.93,538.52 277.15,540.38 277.38,538.97 277.6,539.11 277.82,536.37 278.05,535.86 278.27,532.82 278.5,534.96 278.72,534.02 278.95,533.4 279.17,531.76 279.4,529.18 279.62,530.31 279.85,532.89 280.07,534.64 280.3,535.96 280.52,534.95 280.75,533.93 280.98,536.88 281.2,536.61 281.43,538.55 281.65,539.74 281.88,541.14 282.1,541.15 282.31,543.01 282.52,542.85 282.72,543.09 282.93,545.76 283.14,545.17 283.35,547.08 283.55,546.41 283.76,549.26 283.97,551.61 284.18,548.57 284.38,551.58 284.59,551.78 284.8,553.32 285.03,554.12 285.25,555.51 285.48,556.45 285.7,557.71 285.93,557.1 286.15,559.65 286.38,560.22 286.6,560.22 286.82,562.5 287.05,562.82 287.27,563.94 287.5,565.32 287.71,565.87 287.92,567.85 288.12,568.39 288.33,569.03 288.54,569.15 288.75,569.59 288.95,571.41 289.16,573 289.37,572.45 289.58,573.72 289.78,574.62 289.99,575.86 290.2,576.74 290.43,576.74 290.65,578.79 290.88,578.74 291.1,580.65 291.32,581.34 291.55,579.5 291.77,582.5 292,582.29 292.22,585.38 292.45,584.21 292.67,586.69 292.9,587.93 292.98,587.97 293.05,589.17 293.13,590.67 293.2,591.74 293.28,590.26 293.36,592.95 293.43,592.64 293.51,594.71 293.59,595.74 293.66,597.2 293.74,597.49 293.81,598.11 293.89,599.52 293.97,598.64 294.04,601.1 294.12,601.63 294.2,602.32 294.27,603.84 294.35,604.38 294.42,605.9 294.5,607.31 294.67,607.17 294.83,607.26 295,608.74 295.17,611.51 295.33,611.1 295.5,611.11 295.67,612.86 295.83,614.24 296,614.25 296.29,615.13 296.57,615.88 296.86,617.95 297.14,619.23 297.43,619.67 297.71,619.98 298,621.9 236.9,576.7" fill="url(#vs)"/>
<polyline points="236.9,576.7 237.84,577.71 238.78,576.17 239.72,576.75 240.66,577.76 241.6,577.08 242.37,577.67 243.14,576.67 243.91,577.63 244.69,577.32 245.46,573.98 246.23,574.12 247,575.17 247.54,572.85 248.08,572.46 248.62,573.16 249.16,569.74 249.7,569.91 250.15,568.73 250.6,567.03 251.05,566.63 251.5,566.79 251.95,565.07 252.4,564.97 252.62,564.64 252.85,563.08 253.07,561.1 253.3,559.19 253.53,560.01 253.75,558.94 253.97,557.35 254.2,558.43 254.43,556.26 254.65,554.97 254.88,554.26 255.1,553.99 255.32,553.37 255.54,551.67 255.77,551.15 255.99,551.53 256.21,548.61 256.43,547.65 256.66,547.3 256.88,547.17 257.1,544.29 257.4,545.8 257.7,543.64 258,544.65 258.3,542.17 258.6,540.66 258.9,539.89 259.2,539.66 259.88,541.54 260.55,541.14 261.22,540.95 261.9,541.41 262.35,544.04 262.8,541.27 263.25,544.4 263.7,544.74 264.15,545.86 264.6,547.16 265.05,547.94 265.5,549.18 265.95,550.08 266.4,551.41 266.85,551.62 267.3,552.61 267.97,554.19 268.63,553.55 269.3,554.44 269.97,555.36 270.63,556.51 271.3,556.91 271.98,555.59 272.65,556.24 273.32,554.89 274,553.8 274.21,553.91 274.42,551.13 274.62,551.13 274.83,549.77 275.04,549.79 275.25,548.05 275.45,547.18 275.66,546.9 275.87,545.53 276.08,544.03 276.28,543.99 276.49,541.81 276.7,540.79 276.93,538.52 277.15,540.38 277.38,538.97 277.6,539.11 277.82,536.37 278.05,535.86 278.27,532.82 278.5,534.96 278.72,534.02 278.95,533.4 279.17,531.76 279.4,529.18 279.62,530.31 279.85,532.89 280.07,534.64 280.3,535.96 280.52,534.95 280.75,533.93 280.98,536.88 281.2,536.61 281.43,538.55 281.65,539.74 281.88,541.14 282.1,541.15 282.31,543.01 282.52,542.85 282.72,543.09 282.93,545.76 283.14,545.17 283.35,547.08 283.55,546.41 283.76,549.26 283.97,551.61 284.18,548.57 284.38,551.58 284.59,551.78 284.8,553.32 285.03,554.12 285.25,555.51 285.48,556.45 285.7,557.71 285.93,557.1 286.15,559.65 286.38,560.22 286.6,560.22 286.82,562.5 287.05,562.82 287.27,563.94 287.5,565.32 287.71,565.87 287.92,567.85 288.12,568.39 288.33,569.03 288.54,569.15 288.75,569.59 288.95,571.41 289.16,573 289.37,572.45 289.58,573.72 289.78,574.62 289.99,575.86 290.2,576.74 290.43,576.74 290.65,578.79 290.88,578.74 291.1,580.65 291.32,581.34 291.55,579.5 291.77,582.5 292,582.29 292.22,585.38 292.45,584.21 292.67,586.69 292.9,587.93 292.98,587.97 293.05,589.17 293.13,590.67 293.2,591.74 293.28,590.26 293.36,592.95 293.43,592.64 293.51,594.71 293.59,595.74 293.66,597.2 293.74,597.49 293.81,598.11 293.89,599.52 293.97,598.64 294.04,601.1 294.12,601.63 294.2,602.32 294.27,603.84 294.35,604.38 294.42,605.9 294.5,607.31 294.67,607.17 294.83,607.26 295,608.74 295.17,611.51 295.33,611.1 295.5,611.11 295.67,612.86 295.83,614.24 296,614.25 296.29,615.13 296.57,615.88 296.86,617.95 297.14,619.23 297.43,619.67 297.71,619.98 298,621.9" fill="none" stroke="#333" stroke-width="0.7" stroke-linejoin="round" stroke-linecap="butt" opacity="0.35"/>
<polygon points="258.2,622.4 259.1,623.82 260,624.36 260.9,622.79 261.8,624.08 262.7,624.63 263.6,624.99 264.5,625.3 265.3,624.77 266.1,624.58 266.9,624.69 267.7,621.58 268.5,622.41 269.3,622.23 269.84,621.66 270.39,620.17 270.93,619.93 271.47,616.56 272.01,618.42 272.56,617.12 273.1,616.21 273.53,616.25 273.97,615.37 274.4,614.79 274.83,612.86 275.27,611.98 275.7,612.45 276.13,608.31 276.57,609.72 277,608.49 277.4,608.26 277.8,606.79 278.2,605.58 278.6,605.53 279,603.55 279.4,603.83 279.8,602.76 280.2,601.18 280.6,600.52 281,601.4 281.4,599.03 281.8,598.4 282.6,598.75 283.4,596.74 284.2,597.01 285,597.73 285.8,595.93 286.6,595.32 287.03,594.81 287.45,596.81 287.88,597.99 288.3,598.99 288.73,600.4 289.15,599.8 289.57,601.97 290,601.82 290.88,601.6 291.77,599.76 292.65,599.87 293.53,600.44 294.42,599.2 295.3,597.61 295.99,598.69 296.67,598.77 297.36,596.76 298.04,596.09 298.73,595.79 299.41,594.53 300.1,593.28 300.42,593.2 300.74,593.03 301.07,591.4 301.39,591.04 301.71,590.37 302.03,589.39 302.36,589.16 302.68,588.68 303,587.19 303.97,588.19 304.93,586.66 305.9,587.41 306.07,585.43 306.23,589.14 306.4,589.55 306.57,589.53 306.73,592.12 306.9,591.37 307.07,592.49 307.23,593.79 307.4,594.19 307.57,595.35 307.73,596.21 307.9,596.51 308.48,598.48 309.06,600.04 309.64,600.6 310.22,601.14 310.8,600.48 310.86,602.29 310.93,601.92 310.99,605.46 311.06,605.07 311.12,606.84 311.19,605.7 311.25,608.84 311.31,608.97 311.38,609.25 311.44,611.03 311.51,612.6 311.57,610.79 311.64,612.02 311.7,613.4 312.35,616.12 313,615.72 313.65,615.93 314.3,617.29 314.95,617.87 315.6,618.94 315.76,618.87 315.92,619.66 316.08,621.98 316.24,622 316.4,624.63 316.56,623.35 316.72,625.02 316.88,626.91 317.04,626.73 317.2,627.7 317.36,628.28 317.52,628.98 317.68,630.4 317.84,631.09 318,631.64 318.1,634.46 318.2,633.48 318.3,634.35 318.4,634.64 318.5,637.15 318.6,637.33 318.7,638.19 318.8,639.46 318.9,640.47 319,640.93 319.1,642.87 319.2,642.68 319.3,643.64 319.4,645.57 319.5,646.05 319.6,646.71 319.7,646.65 319.8,647.29 319.9,648.86 320,650.65 320.1,651.45 320.19,651.46 320.29,651.88 320.38,651.97 320.48,654.47 320.57,656.03 320.67,656.18 320.76,658.8 320.86,658.92 320.95,658.07 321.05,660.89 321.14,662.4 321.24,661.98 321.33,663.4 321.43,663.55 321.52,666.49 321.62,666.53 321.71,666.93 321.81,668.98 321.9,667.84 322,669.6 258.2,622.4" fill="#ff7f0e" stroke="none" stroke-width="0" fill-opacity="0.85"/>
<polygon points="258.2,622.4 259.1,623.82 260,624.36 260.9,622.79 261.8,624.08 262.7,624.63 263.6,624.99 264.5,625.3 265.3,624.77 266.1,624.58 266.9,624.69 267.7,621.58 268.5,622.41 269.3,622.23 269.84,621.66 270.39,620.17 270.93,619.93 271.47,616.56 272.01,618.42 272.56,617.12 273.1,616.21 273.53,616.25 273.97,615.37 274.4,614.79 274.83,612.86 275.27,611.98 275.7,612.45 276.13,608.31 276.57,609.72 277,608.49 277.4,608.26 277.8,606.79 278.2,605.58 278.6,605.53 279,603.55 279.4,603.83 279.8,602.76 280.2,601.18 280.6,600.52 281,601.4 281.4,599.03 281.8,598.4 282.6,598.75 283.4,596.74 284.2,597.01 285,597.73 285.8,595.93 286.6,595.32 287.03,594.81 287.45,596.81 287.88,597.99 288.3,598.99 288.73,600.4 289.15,599.8 289.57,601.97 290,601.82 290.88,601.6 291.77,599.76 292.65,599.87 293.53,600.44 294.42,599.2 295.3,597.61 295.99,598.69 296.67,598.77 297.36,596.76 298.04,596.09 298.73,595.79 299.41,594.53 300.1,593.28 300.42,593.2 300.74,593.03 301.07,591.4 301.39,591.04 301.71,590.37 302.03,589.39 302.36,589.16 302.68,588.68 303,587.19 303.97,588.19 304.93,586.66 305.9,587.41 306.07,585.43 306.23,589.14 306.4,589.55 306.57,589.53 306.73,592.12 306.9,591.37 307.07,592.49 307.23,593.79 307.4,594.19 307.57,595.35 307.73,596.21 307.9,596.51 308.48,598.48 309.06,600.04 309.64,600.6 310.22,601.14 310.8,600.48 310.86,602.29 310.93,601.92 310.99,605.46 311.06,605.07 311.12,606.84 311.19,605.7 311.25,608.84 311.31,608.97 311.38,609.25 311.44,611.03 311.51,612.6 311.57,610.79 311.64,612.02 311.7,613.4 312.35,616.12 313,615.72 313.65,615.93 314.3,617.29 314.95,617.87 315.6,618.94 315.76,618.87 315.92,619.66 316.08,621.98 316.24,622 316.4,624.63 316.56,623.35 316.72,625.02 316.88,626.91 317.04,626.73 317.2,627.7 317.36,628.28 317.52,628.98 317.68,630.4 317.84,631.09 318,631.64 318.1,634.46 318.2,633.48 318.3,634.35 318.4,634.64 318.5,637.15 318.6,637.33 318.7,638.19 318.8,639.46 318.9,640.47 319,640.93 319.1,642.87 319.2,642.68 319.3,643.64 319.4,645.57 319.5,646.05 319.6,646.71 319.7,646.65 319.8,647.29 319.9,648.86 320,650.65 320.1,651.45 320.19,651.46 320.29,651.88 320.38,651.97 320.48,654.47 320.57,656.03 320.67,656.18 320.76,658.8 320.86,658.92 320.95,658.07 321.05,660.89 321.14,662.4 321.24,661.98 321.33,663.4 321.43,663.55 321.52,666.49 321.62,666.53 321.71,666.93 321.81,668.98 321.9,667.84 322,669.6 258.2,622.4" fill="url(#vs)"/>
<polyline points="258.2,622.4 259.1,623.82 260,624.36 260.9,622.79 261.8,624.08 262.7,624.63 263.6,624.99 264.5,625.3 265.3,624.77 266.1,624.58 266.9,624.69 267.7,621.58 268.5,622.41 269.3,622.23 269.84,621.66 270.39,620.17 270.93,619.93 271.47,616.56 272.01,618.42 272.56,617.12 273.1,616.21 273.53,616.25 273.97,615.37 274.4,614.79 274.83,612.86 275.27,611.98 275.7,612.45 276.13,608.31 276.57,609.72 277,608.49 277.4,608.26 277.8,606.79 278.2,605.58 278.6,605.53 279,603.55 279.4,603.83 279.8,602.76 280.2,601.18 280.6,600.52 281,601.4 281.4,599.03 281.8,598.4 282.6,598.75 283.4,596.74 284.2,597.01 285,597.73 285.8,595.93 286.6,595.32 287.03,594.81 287.45,596.81 287.88,597.99 288.3,598.99 288.73,600.4 289.15,599.8 289.57,601.97 290,601.82 290.88,601.6 291.77,599.76 292.65,599.87 293.53,600.44 294.42,599.2 295.3,597.61 295.99,598.69 296.67,598.77 297.36,596.76 298.04,596.09 298.73,595.79 299.41,594.53 300.1,593.28 300.42,593.2 300.74,593.03 301.07,591.4 301.39,591.04 301.71,590.37 302.03,589.39 302.36,589.16 302.68,588.68 303,587.19 303.97,588.19 304.93,586.66 305.9,587.41 306.07,585.43 306.23,589.14 306.4,589.55 306.57,589.53 306.73,592.12 306.9,591.37 307.07,592.49 307.23,593.79 307.4,594.19 307.57,595.35 307.73,596.21 307.9,596.51 308.48,598.48 309.06,600.04 309.64,600.6 310.22,601.14 310.8,600.48 310.86,602.29 310.93,601.92 310.99,605.46 311.06,605.07 311.12,606.84 311.19,605.7 311.25,608.84 311.31,608.97 311.38,609.25 311.44,611.03 311.51,612.6 311.57,610.79 311.64,612.02 311.7,613.4 312.35,616.12 313,615.72 313.65,615.93 314.3,617.29 314.95,617.87 315.6,618.94 315.76,618.87 315.92,619.66 316.08,621.98 316.24,622 316.4,624.63 316.56,623.35 316.72,625.02 316.88,626.91 317.04,626.73 317.2,627.7 317.36,628.28 317.52,628.98 317.68,630.4 317.84,631.09 318,631.64 318.1,634.46 318.2,633.48 318.3,634.35 318.4,634.64 318.5,637.15 318.6,637.33 318.7,638.19 318.8,639.46 318.9,640.47 319,640.93 319.1,642.87 319.2,642.68 319.3,643.64 319.4,645.57 319.5,646.05 319.6,646.71 319.7,646.65 319.8,647.29 319.9,648.86 320,650.65 320.1,651.45 320.19,651.46 320.29,651.88 320.38,651.97 320.48,654.47 320.57,656.03 320.67,656.18 320.76,658.8 320.86,658.92 320.95,658.07 321.05,660.89 321.14,662.4 321.24,661.98 321.33,663.4 321.43,663.55 321.52,666.49 321.62,666.53 321.71,666.93 321.81,668.98 321.9,667.84 322,669.6" fill="none" stroke="#333" stroke-width="0.7" stroke-linejoin="round" stroke-linecap="butt" opacity="0.35"/>
<polygon points="273,663.9 273.91,664.81 274.82,663.73 275.74,664.32 276.65,663.44 277.56,663.97 278.48,664.31 279.39,664.14 280.3,666.08 280.68,663.62 281.06,662.3 281.44,662.02 281.82,661.97 282.2,659.96 282.58,658.57 282.96,659.82 283.34,659.05 283.72,658.16 284.1,658.1 285.08,657.95 286.05,656.37 287.02,658.91 288,657.36 288.15,656.44 288.3,654.82 288.45,655.52 288.6,653.32 288.75,654.01 288.9,650.68 289.68,652.32 290.46,650.04 291.24,649.51 292.02,650.56 292.8,648.7 293.08,649.59 293.36,646.91 293.64,645.4 293.93,644.85 294.21,644.2 294.49,642.8 294.77,642.38 295.05,642.38 295.33,639.1 295.61,640.13 295.89,639.9 296.18,636.96 296.46,637.39 296.74,637.34 297.02,633.92 297.3,635.55 297.98,636.78 298.65,636.47 299.32,637.45 300,638.27 300.5,637.58 301,637.89 301.5,634.76 302,633.7 302.5,632.98 303,633.84 303.82,632.68 304.63,633.1 305.45,630.79 306.27,630.52 307.08,630.68 307.9,630.78 308.44,629.79 308.99,627.8 309.53,627.26 310.07,627.43 310.61,625.88 311.16,626.2 311.7,623.48 312.35,623.94 313,623.4 313.65,624.01 314.3,621.61 314.95,620.59 315.6,620.7 316.55,620.88 317.5,619.33 317.88,619.94 318.26,622.41 318.64,623.28 319.02,623.77 319.4,625.36 319.54,626.74 319.69,626.69 319.83,629.04 319.97,630.13 320.11,629.51 320.26,630.48 320.4,631.48 320.54,632.64 320.69,633.71 320.83,632.55 320.97,634.99 321.11,635.11 321.26,636.92 321.4,637.39 321.52,638.75 321.65,639 321.77,641.17 321.89,642.19 322.02,642.84 322.14,644.64 322.26,645.02 322.38,644.67 322.51,646.82 322.63,647.49 322.75,648.41 322.88,647.82 323,647.4 323.14,651.12 323.27,650.59 323.41,651.38 323.55,654.01 323.68,652.62 323.82,655.73 323.95,656.7 324.09,656.71 324.23,658.13 324.36,659.91 324.5,658.77 324.64,660.17 324.77,662.26 324.91,661.63 325.05,665.2 325.18,663.12 325.32,665.29 325.45,666.91 325.59,666.39 325.73,668.54 325.86,670.34 326,669.59 326.18,670.78 326.36,671.23 326.55,672.5 326.73,672.88 326.91,674.15 327.09,673.62 327.27,676.73 327.45,676.94 327.64,677.17 327.82,679.78 328,678.04 328.18,681.25 328.36,681.1 328.55,681.62 328.73,683.06 328.91,684 329.09,685.38 329.27,686.27 329.45,688.11 329.64,685.58 329.82,688.95 330,688.94 330.21,692.09 330.43,692.7 330.64,692.75 330.86,692.68 331.07,695.34 331.29,696.39 331.5,695.7 331.71,697.08 331.93,698.41 332.14,699.31 332.36,699.5 332.57,700.05 332.79,701.76 333,702.44 333.4,703.91 333.8,704.32 334.2,704.73 334.6,707.26 335,707.81 335.4,708.75 335.8,709.27 336.2,710.31 336.6,710.45 337,712 273,663.9" fill="#2ca02c" stroke="none" stroke-width="0" fill-opacity="0.85"/>
<polygon points="273,663.9 273.91,664.81 274.82,663.73 275.74,664.32 276.65,663.44 277.56,663.97 278.48,664.31 279.39,664.14 280.3,666.08 280.68,663.62 281.06,662.3 281.44,662.02 281.82,661.97 282.2,659.96 282.58,658.57 282.96,659.82 283.34,659.05 283.72,658.16 284.1,658.1 285.08,657.95 286.05,656.37 287.02,658.91 288,657.36 288.15,656.44 288.3,654.82 288.45,655.52 288.6,653.32 288.75,654.01 288.9,650.68 289.68,652.32 290.46,650.04 291.24,649.51 292.02,650.56 292.8,648.7 293.08,649.59 293.36,646.91 293.64,645.4 293.93,644.85 294.21,644.2 294.49,642.8 294.77,642.38 295.05,642.38 295.33,639.1 295.61,640.13 295.89,639.9 296.18,636.96 296.46,637.39 296.74,637.34 297.02,633.92 297.3,635.55 297.98,636.78 298.65,636.47 299.32,637.45 300,638.27 300.5,637.58 301,637.89 301.5,634.76 302,633.7 302.5,632.98 303,633.84 303.82,632.68 304.63,633.1 305.45,630.79 306.27,630.52 307.08,630.68 307.9,630.78 308.44,629.79 308.99,627.8 309.53,627.26 310.07,627.43 310.61,625.88 311.16,626.2 311.7,623.48 312.35,623.94 313,623.4 313.65,624.01 314.3,621.61 314.95,620.59 315.6,620.7 316.55,620.88 317.5,619.33 317.88,619.94 318.26,622.41 318.64,623.28 319.02,623.77 319.4,625.36 319.54,626.74 319.69,626.69 319.83,629.04 319.97,630.13 320.11,629.51 320.26,630.48 320.4,631.48 320.54,632.64 320.69,633.71 320.83,632.55 320.97,634.99 321.11,635.11 321.26,636.92 321.4,637.39 321.52,638.75 321.65,639 321.77,641.17 321.89,642.19 322.02,642.84 322.14,644.64 322.26,645.02 322.38,644.67 322.51,646.82 322.63,647.49 322.75,648.41 322.88,647.82 323,647.4 323.14,651.12 323.27,650.59 323.41,651.38 323.55,654.01 323.68,652.62 323.82,655.73 323.95,656.7 324.09,656.71 324.23,658.13 324.36,659.91 324.5,658.77 324.64,660.17 324.77,662.26 324.91,661.63 325.05,665.2 325.18,663.12 325.32,665.29 325.45,666.91 325.59,666.39 325.73,668.54 325.86,670.34 326,669.59 326.18,670.78 326.36,671.23 326.55,672.5 326.73,672.88 326.91,674.15 327.09,673.62 327.27,676.73 327.45,676.94 327.64,677.17 327.82,679.78 328,678.04 328.18,681.25 328.36,681.1 328.55,681.62 328.73,683.06 328.91,684 329.09,685.38 329.27,686.27 329.45,688.11 329.64,685.58 329.82,688.95 330,688.94 330.21,692.09 330.43,692.7 330.64,692.75 330.86,692.68 331.07,695.34 331.29,696.39 331.5,695.7 331.71,697.08 331.93,698.41 332.14,699.31 332.36,699.5 332.57,700.05 332.79,701.76 333,702.44 333.4,703.91 333.8,704.32 334.2,704.73 334.6,707.26 335,707.81 335.4,708.75 335.8,709.27 336.2,710.31 336.6,710.45 337,712 273,663.9" fill="url(#vs)"/>
<polyline points="273,663.9 273.91,664.81 274.82,663.73 275.74,664.32 276.65,663.44 277.56,663.97 278.48,664.31 279.39,664.14 280.3,666.08 280.68,663.62 281.06,662.3 281.44,662.02 281.82,661.97 282.2,659.96 282.58,658.57 282.96,659.82 283.34,659.05 283.72,658.16 284.1,658.1 285.08,657.95 286.05,656.37 287.02,658.91 288,657.36 288.15,656.44 288.3,654.82 288.45,655.52 288.6,653.32 288.75,654.01 288.9,650.68 289.68,652.32 290.46,650.04 291.24,649.51 292.02,650.56 292.8,648.7 293.08,649.59 293.36,646.91 293.64,645.4 293.93,644.85 294.21,644.2 294.49,642.8 294.77,642.38 295.05,642.38 295.33,639.1 295.61,640.13 295.89,639.9 296.18,636.96 296.46,637.39 296.74,637.34 297.02,633.92 297.3,635.55 297.98,636.78 298.65,636.47 299.32,637.45 300,638.27 300.5,637.58 301,637.89 301.5,634.76 302,633.7 302.5,632.98 303,633.84 303.82,632.68 304.63,633.1 305.45,630.79 306.27,630.52 307.08,630.68 307.9,630.78 308.44,629.79 308.99,627.8 309.53,627.26 310.07,627.43 310.61,625.88 311.16,626.2 311.7,623.48 312.35,623.94 313,623.4 313.65,624.01 314.3,621.61 314.95,620.59 315.6,620.7 316.55,620.88 317.5,619.33 317.88,619.94 318.26,622.41 318.64,623.28 319.02,623.77 319.4,625.36 319.54,626.74 319.69,626.69 319.83,629.04 319.97,630.13 320.11,629.51 320.26,630.48 320.4,631.48 320.54,632.64 320.69,633.71 320.83,632.55 320.97,634.99 321.11,635.11 321.26,636.92 321.4,637.39 321.52,638.75 321.65,639 321.77,641.17 321.89,642.19 322.02,642.84 322.14,644.64 322.26,645.02 322.38,644.67 322.51,646.82 322.63,647.49 322.75,648.41 322.88,647.82 323,647.4 323.14,651.12 323.27,650.59 323.41,651.38 323.55,654.01 323.68,652.62 323.82,655.73 323.95,656.7 324.09,656.71 324.23,658.13 324.36,659.91 324.5,658.77 324.64,660.17 324.77,662.26 324.91,661.63 325.05,665.2 325.18,663.12 325.32,665.29 325.45,666.91 325.59,666.39 325.73,668.54 325.86,670.34 326,669.59 326.18,670.78 326.36,671.23 326.55,672.5 326.73,672.88 326.91,674.15 327.09,673.62 327.27,676.73 327.45,676.94 327.64,677.17 327.82,679.78 328,678.04 328.18,681.25 328.36,681.1 328.55,681.62 328.73,683.06 328.91,684 329.09,685.38 329.27,686.27 329.45,688.11 329.64,685.58 329.82,688.95 330,688.94 330.21,692.09 330.43,692.7 330.64,692.75 330.86,692.68 331.07,695.34 331.29,696.39 331.5,695.7 331.71,697.08 331.93,698.41 332.14,699.31 332.36,699.5 332.57,700.05 332.79,701.76 333,702.44 333.4,703.91 333.8,704.32 334.2,704.73 334.6,707.26 335,707.81 335.4,708.75 335.8,709.27 336.2,710.31 336.6,710.45 337,712" fill="none" stroke="#333" stroke-width="0.7" stroke-linejoin="round" stroke-linecap="butt" opacity="0.35"/>
<polygon points="274.7,697.5 275.45,698.12 276.21,699.57 276.96,697.03 277.72,699.48 278.47,700.48 279.23,702.33 279.98,700.22 280.74,702.03 281.49,703.05 282.25,702.25 283,704.71 283.82,704.54 284.63,706.08 285.45,705.38 286.27,706.49 287.08,705.27 287.9,706.92 288.72,706.37 289.53,708.05 290.35,708.47 291.17,707.74 291.98,709.7 292.8,709.25 293.68,709.68 294.55,709.57 295.43,707.33 296.3,708.56 296.81,706.57 297.32,707.43 297.83,704.73 298.34,704.69 298.86,705 299.37,704.21 299.88,702.63 300.39,701.52 300.9,699.74 301.41,698.26 301.92,696.37 302.43,697.42 302.94,698.84 303.46,695.69 303.97,694.68 304.48,694.24 304.99,693.02 305.5,692.83 306.25,694.64 307,691.65 307.75,692.28 308.5,690.52 309.25,690.62 310,689.37 310.8,690.52 311.6,690.44 312.4,687.42 313.2,688.36 314,687.92 314.02,688.12 314.05,686.6 314.07,684.57 314.1,684.31 314.12,682.6 314.15,680.81 314.18,681.13 314.2,680.42 314.23,679.19 314.25,679.77 314.27,678.13 314.3,677.02 314.32,676.1 314.35,675.91 314.38,674.82 314.4,674.37 314.43,672.39 314.45,672.43 314.48,671.19 314.5,669.63 314.53,669.7 314.56,667.56 314.59,666.69 314.62,666.16 314.66,665.57 314.69,664.95 314.72,663.69 314.75,661.83 314.78,661.73 314.81,660.03 314.84,658.99 314.88,659.14 314.91,659.37 314.94,656.93 314.97,654.19 315,655.77 315.09,654.02 315.19,651.64 315.28,652.01 315.38,650.31 315.47,648.01 315.56,650.76 315.66,649.91 315.75,646.74 315.84,647.85 315.94,645.73 316.03,644.19 316.12,642.94 316.22,642.27 316.31,641.41 316.41,639.59 316.5,640.19 316.68,637.66 316.85,637.81 317.02,638.43 317.2,633.9 317.38,635.47 317.55,634.19 317.72,632.63 317.9,632.36 318.52,633.46 319.14,633.9 319.76,636.16 320.38,636.18 321,635.32 321.87,635.49 322.73,634.37 323.6,633.67 324.2,635.18 324.8,636.6 325.4,636.89 326,638.22 326.38,637.81 326.76,638.95 327.13,640.07 327.51,640.98 327.89,642.21 328.27,642.55 328.64,644.25 329.02,644.62 329.4,644.57 329.47,647.62 329.53,648.91 329.6,647.87 329.67,650.62 329.73,651.5 329.8,651.71 329.87,651.18 329.93,652.87 330,654.73 330.07,655.33 330.13,655.99 330.2,656.87 330.27,657.85 330.33,659.25 330.4,658.53 330.47,657.8 330.53,660.63 330.6,662.12 330.67,662.74 330.73,664.64 330.8,665.16 330.87,665.82 330.93,667.19 331,667.62 331.07,667.72 331.13,668.92 331.2,670.96 331.27,671.99 331.33,671.96 331.4,672.52 331.46,672.68 331.53,673.69 331.59,675.81 331.65,677.67 331.72,678.23 331.78,677.24 331.84,679.74 331.91,680.53 331.97,682.08 332.03,681.3 332.1,681.1 332.16,682.49 332.22,685.49 332.29,685.63 332.35,686.67 332.41,687.75 332.48,688.95 332.54,690.69 332.6,691.66 332.67,689.55 332.73,692.2 332.79,691.56 332.86,693.85 332.92,694.4 332.98,693.53 333.05,696.52 333.11,698.53 333.17,698.55 333.24,698.64 333.3,700.47 333.41,702.04 333.51,701.77 333.62,704.29 333.72,703.6 333.83,704.23 333.93,705.28 334.04,707.09 334.14,707.99 334.25,708.23 334.36,709.37 334.46,711.02 334.57,710.56 334.67,711.74 334.78,713.99 334.88,714.73 334.99,715.28 335.09,715.22 335.2,716.07 335.33,718.42 335.46,718.06 335.59,720.39 335.71,719.61 335.84,720.79 335.97,721.54 336.1,721.52 336.23,722.89 336.36,723.58 336.49,725.13 336.61,725.92 336.74,726.53 336.87,729.12 337,728.42 337.13,729.14 337.26,731.85 337.39,732.14 337.51,732.47 337.64,732.68 337.77,734.46 337.9,735.04 338.25,736.14 338.59,736.18 338.94,736.46 339.29,738.27 339.63,739.94 339.98,740.72 340.33,741.4 340.67,740.79 341.02,741.77 341.37,744.38 341.71,744.22 342.06,745.2 342.41,745.3 342.75,746.97 343.1,748 274.7,697.5" fill="#d62728" stroke="none" stroke-width="0" fill-opacity="0.85"/>
<polygon points="274.7,697.5 275.45,698.12 276.21,699.57 276.96,697.03 277.72,699.48 278.47,700.48 279.23,702.33 279.98,700.22 280.74,702.03 281.49,703.05 282.25,702.25 283,704.71 283.82,704.54 284.63,706.08 285.45,705.38 286.27,706.49 287.08,705.27 287.9,706.92 288.72,706.37 289.53,708.05 290.35,708.47 291.17,707.74 291.98,709.7 292.8,709.25 293.68,709.68 294.55,709.57 295.43,707.33 296.3,708.56 296.81,706.57 297.32,707.43 297.83,704.73 298.34,704.69 298.86,705 299.37,704.21 299.88,702.63 300.39,701.52 300.9,699.74 301.41,698.26 301.92,696.37 302.43,697.42 302.94,698.84 303.46,695.69 303.97,694.68 304.48,694.24 304.99,693.02 305.5,692.83 306.25,694.64 307,691.65 307.75,692.28 308.5,690.52 309.25,690.62 310,689.37 310.8,690.52 311.6,690.44 312.4,687.42 313.2,688.36 314,687.92 314.02,688.12 314.05,686.6 314.07,684.57 314.1,684.31 314.12,682.6 314.15,680.81 314.18,681.13 314.2,680.42 314.23,679.19 314.25,679.77 314.27,678.13 314.3,677.02 314.32,676.1 314.35,675.91 314.38,674.82 314.4,674.37 314.43,672.39 314.45,672.43 314.48,671.19 314.5,669.63 314.53,669.7 314.56,667.56 314.59,666.69 314.62,666.16 314.66,665.57 314.69,664.95 314.72,663.69 314.75,661.83 314.78,661.73 314.81,660.03 314.84,658.99 314.88,659.14 314.91,659.37 314.94,656.93 314.97,654.19 315,655.77 315.09,654.02 315.19,651.64 315.28,652.01 315.38,650.31 315.47,648.01 315.56,650.76 315.66,649.91 315.75,646.74 315.84,647.85 315.94,645.73 316.03,644.19 316.12,642.94 316.22,642.27 316.31,641.41 316.41,639.59 316.5,640.19 316.68,637.66 316.85,637.81 317.02,638.43 317.2,633.9 317.38,635.47 317.55,634.19 317.72,632.63 317.9,632.36 318.52,633.46 319.14,633.9 319.76,636.16 320.38,636.18 321,635.32 321.87,635.49 322.73,634.37 323.6,633.67 324.2,635.18 324.8,636.6 325.4,636.89 326,638.22 326.38,637.81 326.76,638.95 327.13,640.07 327.51,640.98 327.89,642.21 328.27,642.55 328.64,644.25 329.02,644.62 329.4,644.57 329.47,647.62 329.53,648.91 329.6,647.87 329.67,650.62 329.73,651.5 329.8,651.71 329.87,651.18 329.93,652.87 330,654.73 330.07,655.33 330.13,655.99 330.2,656.87 330.27,657.85 330.33,659.25 330.4,658.53 330.47,657.8 330.53,660.63 330.6,662.12 330.67,662.74 330.73,664.64 330.8,665.16 330.87,665.82 330.93,667.19 331,667.62 331.07,667.72 331.13,668.92 331.2,670.96 331.27,671.99 331.33,671.96 331.4,672.52 331.46,672.68 331.53,673.69 331.59,675.81 331.65,677.67 331.72,678.23 331.78,677.24 331.84,679.74 331.91,680.53 331.97,682.08 332.03,681.3 332.1,681.1 332.16,682.49 332.22,685.49 332.29,685.63 332.35,686.67 332.41,687.75 332.48,688.95 332.54,690.69 332.6,691.66 332.67,689.55 332.73,692.2 332.79,691.56 332.86,693.85 332.92,694.4 332.98,693.53 333.05,696.52 333.11,698.53 333.17,698.55 333.24,698.64 333.3,700.47 333.41,702.04 333.51,701.77 333.62,704.29 333.72,703.6 333.83,704.23 333.93,705.28 334.04,707.09 334.14,707.99 334.25,708.23 334.36,709.37 334.46,711.02 334.57,710.56 334.67,711.74 334.78,713.99 334.88,714.73 334.99,715.28 335.09,715.22 335.2,716.07 335.33,718.42 335.46,718.06 335.59,720.39 335.71,719.61 335.84,720.79 335.97,721.54 336.1,721.52 336.23,722.89 336.36,723.58 336.49,725.13 336.61,725.92 336.74,726.53 336.87,729.12 337,728.42 337.13,729.14 337.26,731.85 337.39,732.14 337.51,732.47 337.64,732.68 337.77,734.46 337.9,735.04 338.25,736.14 338.59,736.18 338.94,736.46 339.29,738.27 339.63,739.94 339.98,740.72 340.33,741.4 340.67,740.79 341.02,741.77 341.37,744.38 341.71,744.22 342.06,745.2 342.41,745.3 342.75,746.97 343.1,748 274.7,697.5" fill="url(#vs)"/>
<polyline points="274.7,697.5 275.45,698.12 276.21,699.57 276.96,697.03 277.72,699.48 278.47,700.48 279.23,702.33 279.98,700.22 280.74,702.03 281.49,703.05 282.25,702.25 283,704.71 283.82,704.54 284.63,706.08 285.45,705.38 286.27,706.49 287.08,705.27 287.9,706.92 288.72,706.37 289.53,708.05 290.35,708.47 291.17,707.74 291.98,709.7 292.8,709.25 293.68,709.68 294.55,709.57 295.43,707.33 296.3,708.56 296.81,706.57 297.32,707.43 297.83,704.73 298.34,704.69 298.86,705 299.37,704.21 299.88,702.63 300.39,701.52 300.9,699.74 301.41,698.26 301.92,696.37 302.43,697.42 302.94,698.84 303.46,695.69 303.97,694.68 304.48,694.24 304.99,693.02 305.5,692.83 306.25,694.64 307,691.65 307.75,692.28 308.5,690.52 309.25,690.62 310,689.37 310.8,690.52 311.6,690.44 312.4,687.42 313.2,688.36 314,687.92 314.02,688.12 314.05,686.6 314.07,684.57 314.1,684.31 314.12,682.6 314.15,680.81 314.18,681.13 314.2,680.42 314.23,679.19 314.25,679.77 314.27,678.13 314.3,677.02 314.32,676.1 314.35,675.91 314.38,674.82 314.4,674.37 314.43,672.39 314.45,672.43 314.48,671.19 314.5,669.63 314.53,669.7 314.56,667.56 314.59,666.69 314.62,666.16 314.66,665.57 314.69,664.95 314.72,663.69 314.75,661.83 314.78,661.73 314.81,660.03 314.84,658.99 314.88,659.14 314.91,659.37 314.94,656.93 314.97,654.19 315,655.77 315.09,654.02 315.19,651.64 315.28,652.01 315.38,650.31 315.47,648.01 315.56,650.76 315.66,649.91 315.75,646.74 315.84,647.85 315.94,645.73 316.03,644.19 316.12,642.94 316.22,642.27 316.31,641.41 316.41,639.59 316.5,640.19 316.68,637.66 316.85,637.81 317.02,638.43 317.2,633.9 317.38,635.47 317.55,634.19 317.72,632.63 317.9,632.36 318.52,633.46 319.14,633.9 319.76,636.16 320.38,636.18 321,635.32 321.87,635.49 322.73,634.37 323.6,633.67 324.2,635.18 324.8,636.6 325.4,636.89 326,638.22 326.38,637.81 326.76,638.95 327.13,640.07 327.51,640.98 327.89,642.21 328.27,642.55 328.64,644.25 329.02,644.62 329.4,644.57 329.47,647.62 329.53,648.91 329.6,647.87 329.67,650.62 329.73,651.5 329.8,651.71 329.87,651.18 329.93,652.87 330,654.73 330.07,655.33 330.13,655.99 330.2,656.87 330.27,657.85 330.33,659.25 330.4,658.53 330.47,657.8 330.53,660.63 330.6,662.12 330.67,662.74 330.73,664.64 330.8,665.16 330.87,665.82 330.93,667.19 331,667.62 331.07,667.72 331.13,668.92 331.2,670.96 331.27,671.99 331.33,671.96 331.4,672.52 331.46,672.68 331.53,673.69 331.59,675.81 331.65,677.67 331.72,678.23 331.78,677.24 331.84,679.74 331.91,680.53 331.97,682.08 332.03,681.3 332.1,681.1 332.16,682.49 332.22,685.49 332.29,685.63 332.35,686.67 332.41,687.75 332.48,688.95 332.54,690.69 332.6,691.66 332.67,689.55 332.73,692.2 332.79,691.56 332.86,693.85 332.92,694.4 332.98,693.53 333.05,696.52 333.11,698.53 333.17,698.55 333.24,698.64 333.3,700.47 333.41,702.04 333.51,701.77 333.62,704.29 333.72,703.6 333.83,704.23 333.93,705.28 334.04,707.09 334.14,707.99 334.25,708.23 334.36,709.37 334.46,711.02 334.57,710.56 334.67,711.74 334.78,713.99 334.88,714.73 334.99,715.28 335.09,715.22 335.2,716.07 335.33,718.42 335.46,718.06 335.59,720.39 335.71,719.61 335.84,720.79 335.97,721.54 336.1,721.52 336.23,722.89 336.36,723.58 336.49,725.13 336.61,725.92 336.74,726.53 336.87,729.12 337,728.42 337.13,729.14 337.26,731.85 337.39,732.14 337.51,732.47 337.64,732.68 337.77,734.46 337.9,735.04 338.25,736.14 338.59,736.18 338.94,736.46 339.29,738.27 339.63,739.94 339.98,740.72 340.33,741.4 340.67,740.79 341.02,741.77 341.37,744.38 341.71,744.22 342.06,745.2 342.41,745.3 342.75,746.97 343.1,748" fill="none" stroke="#333" stroke-width="0.7" stroke-linejoin="round" stroke-linecap="butt" opacity="0.35"/>
<polygon points="286.2,770.4 287.07,770.67 287.94,771.25 288.81,771.85 289.69,771.69 290.56,771.67 291.43,771.31 292.3,772.27 293,771.73 293.7,771.37 294.4,768.76 295.1,768.9 295.8,769.62 296.17,767.99 296.54,766.66 296.91,765.54 297.29,765.15 297.66,765.75 298.03,762.83 298.4,763.45 298.72,761.17 299.05,760.04 299.38,759.93 299.7,759.45 300.02,757.74 300.35,756.91 300.68,756.02 301,754.12 301.12,756.23 301.24,754.07 301.36,753.87 301.49,751.87 301.61,750.27 301.73,750.25 301.85,749.26 301.97,747.74 302.09,746.86 302.21,746.09 302.34,745.44 302.46,745.68 302.58,741.86 302.7,743.92 303.55,741.51 304.4,739.95 304.69,739.15 304.97,738.88 305.26,738.56 305.55,736.31 305.84,736.78 306.12,735.4 306.41,735.45 306.7,732.57 306.93,733.41 307.16,730.51 307.39,730.91 307.62,730.78 307.85,729.44 308.08,726.57 308.31,728.84 308.54,726.48 308.77,725.84 309,725.93 309.07,721.65 309.15,722.95 309.23,722.52 309.3,721.21 309.38,720.31 309.45,719.97 309.52,718.19 309.6,717.63 309.68,715.12 309.75,715.81 309.82,716.03 309.9,712.96 309.97,713.59 310.05,712.05 310.12,709.86 310.2,709.6 310.71,708.73 311.22,707.4 311.73,707.19 312.24,706.64 312.76,705.68 313.27,703.96 313.78,703.81 314.29,703.39 314.8,702.84 315.26,702.49 315.72,699.91 316.18,700.75 316.64,699.2 317.1,699.8 317.56,697.09 318.02,697.33 318.48,696.35 318.94,696.21 319.4,693.9 319.98,692.2 320.56,692.36 321.14,693.44 321.72,692.4 322.3,690.99 322.47,692.62 322.64,693.29 322.81,694.08 322.98,693.92 323.15,695.58 323.32,698 323.49,698.07 323.66,698.73 323.84,698.49 324.01,700.42 324.18,700.63 324.35,701.34 324.52,703.57 324.69,704.31 324.86,704.55 325.03,703.95 325.2,705.42 325.24,706.38 325.27,709.15 325.31,708.53 325.35,708.95 325.39,709.14 325.43,712.07 325.46,712.87 325.5,712.48 325.54,714.53 325.57,714.6 325.61,716.61 325.65,717.35 325.69,718.65 325.72,718.51 325.76,719.6 325.8,720.51 325.84,722.14 325.88,723.58 325.91,723.61 325.95,724.39 325.99,725.71 326.02,724.83 326.06,726.28 326.1,727.51 326.14,729.01 326.17,727.73 326.21,730.1 326.25,730.44 326.29,731.91 326.32,734.95 326.36,735.27 326.4,734.47 326.54,735.58 326.67,737.95 326.81,737.23 326.95,739.23 327.08,739.55 327.22,740.61 327.35,741.06 327.49,741.32 327.63,740.84 327.76,743.79 327.9,745.93 327.95,745.42 328,746.83 328.05,748.34 328.1,748.79 328.15,749.2 328.2,751.01 328.25,751.34 328.3,750.53 328.35,752.77 328.4,753.13 328.45,755.5 328.5,757.69 328.55,757.98 328.6,757.61 328.65,757.71 328.7,760.74 328.75,759.91 328.8,761.54 328.89,761.64 328.98,762.85 329.07,763.7 329.16,765.33 329.25,767.06 329.34,766.83 329.43,766.84 329.52,770.59 329.61,770.18 329.69,771.7 329.78,770.59 329.87,771.46 329.96,773.79 330.05,775.74 330.14,775.41 330.23,775.25 330.32,778.31 330.41,779.03 330.5,779.78 330.64,779.01 330.77,778.32 330.91,781.78 331.05,784.28 331.18,784.52 331.32,783.9 331.46,786.76 331.59,785.35 331.73,786.96 331.87,787.2 332.01,788.92 332.14,790.28 332.28,789.93 332.42,791.55 332.55,793.98 332.69,794.26 332.83,796.14 332.96,796.94 333.1,797.9 333.35,797.28 333.6,797.89 333.85,799.16 334.1,798.84 334.35,802.02 334.6,801.4 334.85,801.79 335.1,804.66 335.35,804.04 335.6,804.61 335.85,804.7 336.1,806.92 336.35,807.86 336.6,808.6 286.2,770.4" fill="#9467bd" stroke="none" stroke-width="0" fill-opacity="0.85"/>
<polygon points="286.2,770.4 287.07,770.67 287.94,771.25 288.81,771.85 289.69,771.69 290.56,771.67 291.43,771.31 292.3,772.27 293,771.73 293.7,771.37 294.4,768.76 295.1,768.9 295.8,769.62 296.17,767.99 296.54,766.66 296.91,765.54 297.29,765.15 297.66,765.75 298.03,762.83 298.4,763.45 298.72,761.17 299.05,760.04 299.38,759.93 299.7,759.45 300.02,757.74 300.35,756.91 300.68,756.02 301,754.12 301.12,756.23 301.24,754.07 301.36,753.87 301.49,751.87 301.61,750.27 301.73,750.25 301.85,749.26 301.97,747.74 302.09,746.86 302.21,746.09 302.34,745.44 302.46,745.68 302.58,741.86 302.7,743.92 303.55,741.51 304.4,739.95 304.69,739.15 304.97,738.88 305.26,738.56 305.55,736.31 305.84,736.78 306.12,735.4 306.41,735.45 306.7,732.57 306.93,733.41 307.16,730.51 307.39,730.91 307.62,730.78 307.85,729.44 308.08,726.57 308.31,728.84 308.54,726.48 308.77,725.84 309,725.93 309.07,721.65 309.15,722.95 309.23,722.52 309.3,721.21 309.38,720.31 309.45,719.97 309.52,718.19 309.6,717.63 309.68,715.12 309.75,715.81 309.82,716.03 309.9,712.96 309.97,713.59 310.05,712.05 310.12,709.86 310.2,709.6 310.71,708.73 311.22,707.4 311.73,707.19 312.24,706.64 312.76,705.68 313.27,703.96 313.78,703.81 314.29,703.39 314.8,702.84 315.26,702.49 315.72,699.91 316.18,700.75 316.64,699.2 317.1,699.8 317.56,697.09 318.02,697.33 318.48,696.35 318.94,696.21 319.4,693.9 319.98,692.2 320.56,692.36 321.14,693.44 321.72,692.4 322.3,690.99 322.47,692.62 322.64,693.29 322.81,694.08 322.98,693.92 323.15,695.58 323.32,698 323.49,698.07 323.66,698.73 323.84,698.49 324.01,700.42 324.18,700.63 324.35,701.34 324.52,703.57 324.69,704.31 324.86,704.55 325.03,703.95 325.2,705.42 325.24,706.38 325.27,709.15 325.31,708.53 325.35,708.95 325.39,709.14 325.43,712.07 325.46,712.87 325.5,712.48 325.54,714.53 325.57,714.6 325.61,716.61 325.65,717.35 325.69,718.65 325.72,718.51 325.76,719.6 325.8,720.51 325.84,722.14 325.88,723.58 325.91,723.61 325.95,724.39 325.99,725.71 326.02,724.83 326.06,726.28 326.1,727.51 326.14,729.01 326.17,727.73 326.21,730.1 326.25,730.44 326.29,731.91 326.32,734.95 326.36,735.27 326.4,734.47 326.54,735.58 326.67,737.95 326.81,737.23 326.95,739.23 327.08,739.55 327.22,740.61 327.35,741.06 327.49,741.32 327.63,740.84 327.76,743.79 327.9,745.93 327.95,745.42 328,746.83 328.05,748.34 328.1,748.79 328.15,749.2 328.2,751.01 328.25,751.34 328.3,750.53 328.35,752.77 328.4,753.13 328.45,755.5 328.5,757.69 328.55,757.98 328.6,757.61 328.65,757.71 328.7,760.74 328.75,759.91 328.8,761.54 328.89,761.64 328.98,762.85 329.07,763.7 329.16,765.33 329.25,767.06 329.34,766.83 329.43,766.84 329.52,770.59 329.61,770.18 329.69,771.7 329.78,770.59 329.87,771.46 329.96,773.79 330.05,775.74 330.14,775.41 330.23,775.25 330.32,778.31 330.41,779.03 330.5,779.78 330.64,779.01 330.77,778.32 330.91,781.78 331.05,784.28 331.18,784.52 331.32,783.9 331.46,786.76 331.59,785.35 331.73,786.96 331.87,787.2 332.01,788.92 332.14,790.28 332.28,789.93 332.42,791.55 332.55,793.98 332.69,794.26 332.83,796.14 332.96,796.94 333.1,797.9 333.35,797.28 333.6,797.89 333.85,799.16 334.1,798.84 334.35,802.02 334.6,801.4 334.85,801.79 335.1,804.66 335.35,804.04 335.6,804.61 335.85,804.7 336.1,806.92 336.35,807.86 336.6,808.6 286.2,770.4" fill="url(#vs)"/>
<polyline points="286.2,770.4 287.07,770.67 287.94,771.25 288.81,771.85 289.69,771.69 290.56,771.67 291.43,771.31 292.3,772.27 293,771.73 293.7,771.37 294.4,768.76 295.1,768.9 295.8,769.62 296.17,767.99 296.54,766.66 296.91,765.54 297.29,765.15 297.66,765.75 298.03,762.83 298.4,763.45 298.72,761.17 299.05,760.04 299.38,759.93 299.7,759.45 300.02,757.74 300.35,756.91 300.68,756.02 301,754.12 301.12,756.23 301.24,754.07 301.36,753.87 301.49,751.87 301.61,750.27 301.73,750.25 301.85,749.26 301.97,747.74 302.09,746.86 302.21,746.09 302.34,745.44 302.46,745.68 302.58,741.86 302.7,743.92 303.55,741.51 304.4,739.95 304.69,739.15 304.97,738.88 305.26,738.56 305.55,736.31 305.84,736.78 306.12,735.4 306.41,735.45 306.7,732.57 306.93,733.41 307.16,730.51 307.39,730.91 307.62,730.78 307.85,729.44 308.08,726.57 308.31,728.84 308.54,726.48 308.77,725.84 309,725.93 309.07,721.65 309.15,722.95 309.23,722.52 309.3,721.21 309.38,720.31 309.45,719.97 309.52,718.19 309.6,717.63 309.68,715.12 309.75,715.81 309.82,716.03 309.9,712.96 309.97,713.59 310.05,712.05 310.12,709.86 310.2,709.6 310.71,708.73 311.22,707.4 311.73,707.19 312.24,706.64 312.76,705.68 313.27,703.96 313.78,703.81 314.29,703.39 314.8,702.84 315.26,702.49 315.72,699.91 316.18,700.75 316.64,699.2 317.1,699.8 317.56,697.09 318.02,697.33 318.48,696.35 318.94,696.21 319.4,693.9 319.98,692.2 320.56,692.36 321.14,693.44 321.72,692.4 322.3,690.99 322.47,692.62 322.64,693.29 322.81,694.08 322.98,693.92 323.15,695.58 323.32,698 323.49,698.07 323.66,698.73 323.84,698.49 324.01,700.42 324.18,700.63 324.35,701.34 324.52,703.57 324.69,704.31 324.86,704.55 325.03,703.95 325.2,705.42 325.24,706.38 325.27,709.15 325.31,708.53 325.35,708.95 325.39,709.14 325.43,712.07 325.46,712.87 325.5,712.48 325.54,714.53 325.57,714.6 325.61,716.61 325.65,717.35 325.69,718.65 325.72,718.51 325.76,719.6 325.8,720.51 325.84,722.14 325.88,723.58 325.91,723.61 325.95,724.39 325.99,725.71 326.02,724.83 326.06,726.28 326.1,727.51 326.14,729.01 326.17,727.73 326.21,730.1 326.25,730.44 326.29,731.91 326.32,734.95 326.36,735.27 326.4,734.47 326.54,735.58 326.67,737.95 326.81,737.23 326.95,739.23 327.08,739.55 327.22,740.61 327.35,741.06 327.49,741.32 327.63,740.84 327.76,743.79 327.9,745.93 327.95,745.42 328,746.83 328.05,748.34 328.1,748.79 328.15,749.2 328.2,751.01 328.25,751.34 328.3,750.53 328.35,752.77 328.4,753.13 328.45,755.5 328.5,757.69 328.55,757.98 328.6,757.61 328.65,757.71 328.7,760.74 328.75,759.91 328.8,761.54 328.89,761.64 328.98,762.85 329.07,763.7 329.16,765.33 329.25,767.06 329.34,766.83 329.43,766.84 329.52,770.59 329.61,770.18 329.69,771.7 329.78,770.59 329.87,771.46 329.96,773.79 330.05,775.74 330.14,775.41 330.23,775.25 330.32,778.31 330.41,779.03 330.5,779.78 330.64,779.01 330.77,778.32 330.91,781.78 331.05,784.28 331.18,784.52 331.32,783.9 331.46,786.76 331.59,785.35 331.73,786.96 331.87,787.2 332.01,788.92 332.14,790.28 332.28,789.93 332.42,791.55 332.55,793.98 332.69,794.26 332.83,796.14 332.96,796.94 333.1,797.9 333.35,797.28 333.6,797.89 333.85,799.16 334.1,798.84 334.35,802.02 334.6,801.4 334.85,801.79 335.1,804.66 335.35,804.04 335.6,804.61 335.85,804.7 336.1,806.92 336.35,807.86 336.6,808.6" fill="none" stroke="#333" stroke-width="0.7" stroke-linejoin="round" stroke-linecap="butt" opacity="0.35"/>
<polygon points="272,825 272.78,824.66 273.57,825.27 274.35,825.14 275.13,825.57 275.92,826.92 276.7,827.15 277.49,827.98 278.28,827.15 279.07,826.54 279.86,827.88 280.65,825.9 281.45,824.82 282.24,826.24 283.03,824.15 283.82,825.15 284.61,822.87 285.4,821.36 285.69,821.34 285.97,820.01 286.26,817.99 286.55,818.7 286.83,817.17 287.12,817.21 287.41,816.35 287.69,814.98 287.98,815.98 288.27,811.17 288.55,811.23 288.84,812.1 289.13,811.02 289.41,808.99 289.7,809.35 289.9,808.9 290.1,808.77 290.3,806.2 290.5,806.28 290.7,805.75 290.9,804.63 291.1,804.44 291.3,802.38 291.5,799.68 291.7,798.97 291.9,798.51 292.1,798.04 292.3,797.69 292.74,796.64 293.18,795.69 293.62,794.9 294.06,793.34 294.5,793.27 294.94,789.48 295.38,789.9 295.82,790.56 296.26,789.12 296.7,787.66 297.35,786.95 298,788.19 298.65,787.86 299.3,787.53 299.95,785.34 300.6,783.44 301.25,784.14 301.9,783.04 302.24,782.78 302.58,782.72 302.92,780.52 303.26,780.45 303.6,779.38 303.94,777.3 304.28,778.36 304.62,775.76 304.96,774.44 305.3,774.53 305.43,774.65 305.56,772.33 305.69,773.47 305.81,771.96 305.94,770.13 306.07,767.73 306.2,768.53 306.33,766.62 306.46,767.26 306.59,764.53 306.71,765.7 306.84,765.12 306.97,762.34 307.1,762.45 307.21,762.06 307.31,759.41 307.42,757.78 307.53,758.22 307.63,756.1 307.74,755.23 307.84,754.32 307.95,754.8 308.06,753.51 308.16,752.74 308.27,751.25 308.38,750.71 308.48,750.01 308.59,747.55 308.69,748.38 308.8,746.2 308.99,747.22 309.18,749.57 309.37,749.67 309.56,751.66 309.74,750.76 309.93,753.14 310.12,753.77 310.31,755.5 310.5,754.63 310.61,755.44 310.71,756.23 310.82,755.91 310.92,757.86 311.03,757.43 311.14,761.76 311.24,761.02 311.35,761.96 311.45,762.56 311.56,764.64 311.66,765.72 311.77,765.74 311.88,766.28 311.98,767.34 312.09,768 312.19,769.84 312.3,770.2 312.44,772.18 312.57,771.61 312.71,773.36 312.85,775 312.98,775.03 313.12,775.98 313.26,776.2 313.39,778.33 313.53,778.55 313.67,778.85 313.81,779.58 313.94,781.37 314.08,781.58 314.22,782.87 314.35,784.98 314.49,783.66 314.63,784.84 314.76,788.2 314.9,785.1 315.02,787.72 315.14,790.02 315.26,788.8 315.39,791.64 315.51,792.69 315.63,792.9 315.75,795.61 315.87,795.78 315.99,795.81 316.11,798.38 316.24,797.02 316.36,799.06 316.48,800.45 316.6,800.4 316.65,802.3 316.69,800.02 316.74,805.09 316.79,802.16 316.84,805.57 316.88,807.37 316.93,807.6 316.98,808.57 317.03,808.38 317.07,809.39 317.12,811.18 317.17,810.77 317.22,811.49 317.26,812.96 317.31,813.84 317.36,815.65 317.41,815.23 317.45,816.91 317.5,817.47 317.57,818.33 317.64,819.49 317.71,820.43 317.78,821.76 317.85,821.74 317.92,822.71 317.98,825.43 318.05,825.24 318.12,826.07 318.19,828 318.26,828.91 318.33,828.4 318.4,828.3 318.56,831.36 318.72,832.02 318.89,832.88 319.05,834.13 319.21,834.87 319.38,835.24 319.54,836.63 319.7,838.2 319.86,838.12 320.02,839.65 320.19,840.59 320.35,840.47 320.51,841.34 320.68,842.57 320.84,844.23 321,843.16 321.23,843.32 321.46,847 321.69,847.17 321.92,848.13 322.15,849.87 322.38,850.92 322.62,851.79 322.85,852.08 323.08,853.65 323.31,854.78 323.54,856.71 323.77,856.43 324,856.55 324.35,856.76 324.7,859.54 325.05,860.31 325.4,860.31 325.75,859.5 326.1,862.75 326.45,863.27 326.8,863.41 327.15,865.4 327.5,865.34 327.85,865.82 328.2,868.16 328.55,867.55 328.9,868.8 272,825" fill="#8c564b" stroke="none" stroke-width="0" fill-opacity="0.85"/>
<polygon points="272,825 272.78,824.66 273.57,825.27 274.35,825.14 275.13,825.57 275.92,826.92 276.7,827.15 277.49,827.98 278.28,827.15 279.07,826.54 279.86,827.88 280.65,825.9 281.45,824.82 282.24,826.24 283.03,824.15 283.82,825.15 284.61,822.87 285.4,821.36 285.69,821.34 285.97,820.01 286.26,817.99 286.55,818.7 286.83,817.17 287.12,817.21 287.41,816.35 287.69,814.98 287.98,815.98 288.27,811.17 288.55,811.23 288.84,812.1 289.13,811.02 289.41,808.99 289.7,809.35 289.9,808.9 290.1,808.77 290.3,806.2 290.5,806.28 290.7,805.75 290.9,804.63 291.1,804.44 291.3,802.38 291.5,799.68 291.7,798.97 291.9,798.51 292.1,798.04 292.3,797.69 292.74,796.64 293.18,795.69 293.62,794.9 294.06,793.34 294.5,793.27 294.94,789.48 295.38,789.9 295.82,790.56 296.26,789.12 296.7,787.66 297.35,786.95 298,788.19 298.65,787.86 299.3,787.53 299.95,785.34 300.6,783.44 301.25,784.14 301.9,783.04 302.24,782.78 302.58,782.72 302.92,780.52 303.26,780.45 303.6,779.38 303.94,777.3 304.28,778.36 304.62,775.76 304.96,774.44 305.3,774.53 305.43,774.65 305.56,772.33 305.69,773.47 305.81,771.96 305.94,770.13 306.07,767.73 306.2,768.53 306.33,766.62 306.46,767.26 306.59,764.53 306.71,765.7 306.84,765.12 306.97,762.34 307.1,762.45 307.21,762.06 307.31,759.41 307.42,757.78 307.53,758.22 307.63,756.1 307.74,755.23 307.84,754.32 307.95,754.8 308.06,753.51 308.16,752.74 308.27,751.25 308.38,750.71 308.48,750.01 308.59,747.55 308.69,748.38 308.8,746.2 308.99,747.22 309.18,749.57 309.37,749.67 309.56,751.66 309.74,750.76 309.93,753.14 310.12,753.77 310.31,755.5 310.5,754.63 310.61,755.44 310.71,756.23 310.82,755.91 310.92,757.86 311.03,757.43 311.14,761.76 311.24,761.02 311.35,761.96 311.45,762.56 311.56,764.64 311.66,765.72 311.77,765.74 311.88,766.28 311.98,767.34 312.09,768 312.19,769.84 312.3,770.2 312.44,772.18 312.57,771.61 312.71,773.36 312.85,775 312.98,775.03 313.12,775.98 313.26,776.2 313.39,778.33 313.53,778.55 313.67,778.85 313.81,779.58 313.94,781.37 314.08,781.58 314.22,782.87 314.35,784.98 314.49,783.66 314.63,784.84 314.76,788.2 314.9,785.1 315.02,787.72 315.14,790.02 315.26,788.8 315.39,791.64 315.51,792.69 315.63,792.9 315.75,795.61 315.87,795.78 315.99,795.81 316.11,798.38 316.24,797.02 316.36,799.06 316.48,800.45 316.6,800.4 316.65,802.3 316.69,800.02 316.74,805.09 316.79,802.16 316.84,805.57 316.88,807.37 316.93,807.6 316.98,808.57 317.03,808.38 317.07,809.39 317.12,811.18 317.17,810.77 317.22,811.49 317.26,812.96 317.31,813.84 317.36,815.65 317.41,815.23 317.45,816.91 317.5,817.47 317.57,818.33 317.64,819.49 317.71,820.43 317.78,821.76 317.85,821.74 317.92,822.71 317.98,825.43 318.05,825.24 318.12,826.07 318.19,828 318.26,828.91 318.33,828.4 318.4,828.3 318.56,831.36 318.72,832.02 318.89,832.88 319.05,834.13 319.21,834.87 319.38,835.24 319.54,836.63 319.7,838.2 319.86,838.12 320.02,839.65 320.19,840.59 320.35,840.47 320.51,841.34 320.68,842.57 320.84,844.23 321,843.16 321.23,843.32 321.46,847 321.69,847.17 321.92,848.13 322.15,849.87 322.38,850.92 322.62,851.79 322.85,852.08 323.08,853.65 323.31,854.78 323.54,856.71 323.77,856.43 324,856.55 324.35,856.76 324.7,859.54 325.05,860.31 325.4,860.31 325.75,859.5 326.1,862.75 326.45,863.27 326.8,863.41 327.15,865.4 327.5,865.34 327.85,865.82 328.2,868.16 328.55,867.55 328.9,868.8 272,825" fill="url(#vs)"/>
<polyline points="272,825 272.78,824.66 273.57,825.27 274.35,825.14 275.13,825.57 275.92,826.92 276.7,827.15 277.49,827.98 278.28,827.15 279.07,826.54 279.86,827.88 280.65,825.9 281.45,824.82 282.24,826.24 283.03,824.15 283.82,825.15 284.61,822.87 285.4,821.36 285.69,821.34 285.97,820.01 286.26,817.99 286.55,818.7 286.83,817.17 287.12,817.21 287.41,816.35 287.69,814.98 287.98,815.98 288.27,811.17 288.55,811.23 288.84,812.1 289.13,811.02 289.41,808.99 289.7,809.35 289.9,808.9 290.1,808.77 290.3,806.2 290.5,806.28 290.7,805.75 290.9,804.63 291.1,804.44 291.3,802.38 291.5,799.68 291.7,798.97 291.9,798.51 292.1,798.04 292.3,797.69 292.74,796.64 293.18,795.69 293.62,794.9 294.06,793.34 294.5,793.27 294.94,789.48 295.38,789.9 295.82,790.56 296.26,789.12 296.7,787.66 297.35,786.95 298,788.19 298.65,787.86 299.3,787.53 299.95,785.34 300.6,783.44 301.25,784.14 301.9,783.04 302.24,782.78 302.58,782.72 302.92,780.52 303.26,780.45 303.6,779.38 303.94,777.3 304.28,778.36 304.62,775.76 304.96,774.44 305.3,774.53 305.43,774.65 305.56,772.33 305.69,773.47 305.81,771.96 305.94,770.13 306.07,767.73 306.2,768.53 306.33,766.62 306.46,767.26 306.59,764.53 306.71,765.7 306.84,765.12 306.97,762.34 307.1,762.45 307.21,762.06 307.31,759.41 307.42,757.78 307.53,758.22 307.63,756.1 307.74,755.23 307.84,754.32 307.95,754.8 308.06,753.51 308.16,752.74 308.27,751.25 308.38,750.71 308.48,750.01 308.59,747.55 308.69,748.38 308.8,746.2 308.99,747.22 309.18,749.57 309.37,749.67 309.56,751.66 309.74,750.76 309.93,753.14 310.12,753.77 310.31,755.5 310.5,754.63 310.61,755.44 310.71,756.23 310.82,755.91 310.92,757.86 311.03,757.43 311.14,761.76 311.24,761.02 311.35,761.96 311.45,762.56 311.56,764.64 311.66,765.72 311.77,765.74 311.88,766.28 311.98,767.34 312.09,768 312.19,769.84 312.3,770.2 312.44,772.18 312.57,771.61 312.71,773.36 312.85,775 312.98,775.03 313.12,775.98 313.26,776.2 313.39,778.33 313.53,778.55 313.67,778.85 313.81,779.58 313.94,781.37 314.08,781.58 314.22,782.87 314.35,784.98 314.49,783.66 314.63,784.84 314.76,788.2 314.9,785.1 315.02,787.72 315.14,790.02 315.26,788.8 315.39,791.64 315.51,792.69 315.63,792.9 315.75,795.61 315.87,795.78 315.99,795.81 316.11,798.38 316.24,797.02 316.36,799.06 316.48,800.45 316.6,800.4 316.65,802.3 316.69,800.02 316.74,805.09 316.79,802.16 316.84,805.57 316.88,807.37 316.93,807.6 316.98,808.57 317.03,808.38 317.07,809.39 317.12,811.18 317.17,810.77 317.22,811.49 317.26,812.96 317.31,813.84 317.36,815.65 317.41,815.23 317.45,816.91 317.5,817.47 317.57,818.33 317.64,819.49 317.71,820.43 317.78,821.76 317.85,821.74 317.92,822.71 317.98,825.43 318.05,825.24 318.12,826.07 318.19,828 318.26,828.91 318.33,828.4 318.4,828.3 318.56,831.36 318.72,832.02 318.89,832.88 319.05,834.13 319.21,834.87 319.38,835.24 319.54,836.63 319.7,838.2 319.86,838.12 320.02,839.65 320.19,840.59 320.35,840.47 320.51,841.34 320.68,842.57 320.84,844.23 321,843.16 321.23,843.32 321.46,847 321.69,847.17 321.92,848.13 322.15,849.87 322.38,850.92 322.62,851.79 322.85,852.08 323.08,853.65 323.31,854.78 323.54,856.71 323.77,856.43 324,856.55 324.35,856.76 324.7,859.54 325.05,860.31 325.4,860.31 325.75,859.5 326.1,862.75 326.45,863.27 326.8,863.41 327.15,865.4 327.5,865.34 327.85,865.82 328.2,868.16 328.55,867.55 328.9,868.8" fill="none" stroke="#333" stroke-width="0.7" stroke-linejoin="round" stroke-linecap="butt" opacity="0.35"/>
<polygon points="258,849 258.88,849.76 259.75,848.35 260.62,851.28 261.5,850.5 262.38,849.94 263.25,852.21 264.12,851.52 265,851.2 265.88,852.1 266.75,852.43 267.62,851.64 268.5,849.88 269.38,851.92 270.25,851.27 271.12,850.68 272,850.29 272.75,850.49 273.5,848.69 274.25,847.34 275,849.39 275.75,846.76 276.5,846.05 277.25,847.23 278,846.13 278.15,844.8 278.3,843.99 278.45,844.11 278.6,843.11 278.75,841 278.9,840.55 279.05,839.56 279.2,837.2 279.35,838.66 279.5,836.24 279.65,835.62 279.8,833.82 279.95,834.09 280.1,832.4 280.25,833.84 280.4,831.15 280.55,829.05 280.7,830.01 280.85,827.42 281,827.92 281.58,826.82 282.17,825.35 282.75,825.18 283.33,824.38 283.92,822.98 284.5,822.96 284.73,821.6 284.97,821.55 285.2,819.78 285.43,819.89 285.67,817.65 285.9,817.72 286.13,815.27 286.37,813.77 286.6,814.09 286.83,813.35 287.07,813.39 287.3,809.42 287.53,811.33 287.77,810.34 288,809.25 288.29,807.81 288.58,808.14 288.88,806.99 289.17,804.73 289.46,805.71 289.75,803.85 290.04,803.4 290.33,801.72 290.62,800.84 290.92,801.03 291.21,800.08 291.5,799.89 291.78,797.49 292.07,797.43 292.35,796.12 292.63,796.91 292.92,793.76 293.2,793.91 293.48,792.52 293.77,790.8 294.05,791.69 294.33,790.27 294.62,789.19 294.9,788.18 295.24,789.3 295.59,786.49 295.93,787.57 296.27,785.47 296.61,784.34 296.96,783.22 297.3,782.51 297.64,783.25 297.99,781.61 298.33,777.95 298.67,778.41 299.01,777.4 299.36,776.03 299.7,776.31 300.25,777.35 300.8,778.16 301.35,779.56 301.9,780.09 302.03,781.47 302.16,781.45 302.29,783.02 302.42,782.49 302.55,784.05 302.68,785.24 302.82,787.2 302.95,788.43 303.08,788.36 303.21,788.44 303.34,789.12 303.47,791.63 303.6,792.02 303.65,793.22 303.69,794 303.74,794.74 303.79,793.81 303.84,796.78 303.88,797.02 303.93,798.24 303.98,800.23 304.03,800.86 304.07,802.21 304.12,802.36 304.17,803 304.22,803.37 304.26,803.72 304.31,805.27 304.36,806.85 304.41,807.71 304.45,807.96 304.5,809.72 304.54,809.09 304.57,810.73 304.61,810.97 304.65,813.88 304.68,814.23 304.72,816.58 304.75,816.26 304.79,817.02 304.83,816.53 304.86,820.23 304.9,819.72 304.94,820.58 304.97,821.98 305.01,823.27 305.05,823.34 305.08,823.76 305.12,824.68 305.15,826.64 305.19,826.86 305.23,826.44 305.26,828.19 305.3,830.76 305.46,831.63 305.61,830.64 305.77,832.5 305.92,834.56 306.08,833.16 306.23,836.51 306.39,835.26 306.54,837.79 306.7,838.76 306.86,839.78 307.01,840.04 307.17,841.14 307.32,840.07 307.48,843.96 307.63,844.88 307.79,845.48 307.94,845.22 308.1,844.75 308.2,848.88 308.29,848.99 308.39,847.17 308.49,850.88 308.58,851.65 308.68,851.51 308.78,852.8 308.88,855.28 308.97,855.77 309.07,855.28 309.17,856.84 309.26,857.61 309.36,858.75 309.46,859.16 309.55,859.27 309.65,859.7 309.75,862.35 309.84,863.96 309.94,863.6 310.04,864.25 310.13,865.64 310.23,867.12 310.33,867.69 310.43,868.12 310.52,869.04 310.62,870.43 310.72,870.74 310.81,871.91 310.91,873.04 311.01,872.47 311.1,875.3 311.2,874.18 311.4,875.79 311.6,878.14 311.8,876.13 312,879.25 312.2,881.15 312.4,881.71 312.6,881.39 312.8,884.1 313,884.12 313.2,886.21 313.4,885.58 313.6,885.31 313.8,887.52 314,888.38 314.2,889.34 314.4,890.42 314.6,890.54 314.8,893.15 315,892.7 258,849" fill="#e377c2" stroke="none" stroke-width="0" fill-opacity="0.85"/>
<polygon points="258,849 258.88,849.76 259.75,848.35 260.62,851.28 261.5,850.5 262.38,849.94 263.25,852.21 264.12,851.52 265,851.2 265.88,852.1 266.75,852.43 267.62,851.64 268.5,849.88 269.38,851.92 270.25,851.27 271.12,850.68 272,850.29 272.75,850.49 273.5,848.69 274.25,847.34 275,849.39 275.75,846.76 276.5,846.05 277.25,847.23 278,846.13 278.15,844.8 278.3,843.99 278.45,844.11 278.6,843.11 278.75,841 278.9,840.55 279.05,839.56 279.2,837.2 279.35,838.66 279.5,836.24 279.65,835.62 279.8,833.82 279.95,834.09 280.1,832.4 280.25,833.84 280.4,831.15 280.55,829.05 280.7,830.01 280.85,827.42 281,827.92 281.58,826.82 282.17,825.35 282.75,825.18 283.33,824.38 283.92,822.98 284.5,822.96 284.73,821.6 284.97,821.55 285.2,819.78 285.43,819.89 285.67,817.65 285.9,817.72 286.13,815.27 286.37,813.77 286.6,814.09 286.83,813.35 287.07,813.39 287.3,809.42 287.53,811.33 287.77,810.34 288,809.25 288.29,807.81 288.58,808.14 288.88,806.99 289.17,804.73 289.46,805.71 289.75,803.85 290.04,803.4 290.33,801.72 290.62,800.84 290.92,801.03 291.21,800.08 291.5,799.89 291.78,797.49 292.07,797.43 292.35,796.12 292.63,796.91 292.92,793.76 293.2,793.91 293.48,792.52 293.77,790.8 294.05,791.69 294.33,790.27 294.62,789.19 294.9,788.18 295.24,789.3 295.59,786.49 295.93,787.57 296.27,785.47 296.61,784.34 296.96,783.22 297.3,782.51 297.64,783.25 297.99,781.61 298.33,777.95 298.67,778.41 299.01,777.4 299.36,776.03 299.7,776.31 300.25,777.35 300.8,778.16 301.35,779.56 301.9,780.09 302.03,781.47 302.16,781.45 302.29,783.02 302.42,782.49 302.55,784.05 302.68,785.24 302.82,787.2 302.95,788.43 303.08,788.36 303.21,788.44 303.34,789.12 303.47,791.63 303.6,792.02 303.65,793.22 303.69,794 303.74,794.74 303.79,793.81 303.84,796.78 303.88,797.02 303.93,798.24 303.98,800.23 304.03,800.86 304.07,802.21 304.12,802.36 304.17,803 304.22,803.37 304.26,803.72 304.31,805.27 304.36,806.85 304.41,807.71 304.45,807.96 304.5,809.72 304.54,809.09 304.57,810.73 304.61,810.97 304.65,813.88 304.68,814.23 304.72,816.58 304.75,816.26 304.79,817.02 304.83,816.53 304.86,820.23 304.9,819.72 304.94,820.58 304.97,821.98 305.01,823.27 305.05,823.34 305.08,823.76 305.12,824.68 305.15,826.64 305.19,826.86 305.23,826.44 305.26,828.19 305.3,830.76 305.46,831.63 305.61,830.64 305.77,832.5 305.92,834.56 306.08,833.16 306.23,836.51 306.39,835.26 306.54,837.79 306.7,838.76 306.86,839.78 307.01,840.04 307.17,841.14 307.32,840.07 307.48,843.96 307.63,844.88 307.79,845.48 307.94,845.22 308.1,844.75 308.2,848.88 308.29,848.99 308.39,847.17 308.49,850.88 308.58,851.65 308.68,851.51 308.78,852.8 308.88,855.28 308.97,855.77 309.07,855.28 309.17,856.84 309.26,857.61 309.36,858.75 309.46,859.16 309.55,859.27 309.65,859.7 309.75,862.35 309.84,863.96 309.94,863.6 310.04,864.25 310.13,865.64 310.23,867.12 310.33,867.69 310.43,868.12 310.52,869.04 310.62,870.43 310.72,870.74 310.81,871.91 310.91,873.04 311.01,872.47 311.1,875.3 311.2,874.18 311.4,875.79 311.6,878.14 311.8,876.13 312,879.25 312.2,881.15 312.4,881.71 312.6,881.39 312.8,884.1 313,884.12 313.2,886.21 313.4,885.58 313.6,885.31 313.8,887.52 314,888.38 314.2,889.34 314.4,890.42 314.6,890.54 314.8,893.15 315,892.7 258,849" fill="url(#vs)"/>
<polyline points="258,849 258.88,849.76 259.75,848.35 260.62,851.28 261.5,850.5 262.38,849.94 263.25,852.21 264.12,851.52 265,851.2 265.88,852.1 266.75,852.43 267.62,851.64 268.5,849.88 269.38,851.92 270.25,851.27 271.12,850.68 272,850.29 272.75,850.49 273.5,848.69 274.25,847.34 275,849.39 275.75,846.76 276.5,846.05 277.25,847.23 278,846.13 278.15,844.8 278.3,843.99 278.45,844.11 278.6,843.11 278.75,841 278.9,840.55 279.05,839.56 279.2,837.2 279.35,838.66 279.5,836.24 279.65,835.62 279.8,833.82 279.95,834.09 280.1,832.4 280.25,833.84 280.4,831.15 280.55,829.05 280.7,830.01 280.85,827.42 281,827.92 281.58,826.82 282.17,825.35 282.75,825.18 283.33,824.38 283.92,822.98 284.5,822.96 284.73,821.6 284.97,821.55 285.2,819.78 285.43,819.89 285.67,817.65 285.9,817.72 286.13,815.27 286.37,813.77 286.6,814.09 286.83,813.35 287.07,813.39 287.3,809.42 287.53,811.33 287.77,810.34 288,809.25 288.29,807.81 288.58,808.14 288.88,806.99 289.17,804.73 289.46,805.71 289.75,803.85 290.04,803.4 290.33,801.72 290.62,800.84 290.92,801.03 291.21,800.08 291.5,799.89 291.78,797.49 292.07,797.43 292.35,796.12 292.63,796.91 292.92,793.76 293.2,793.91 293.48,792.52 293.77,790.8 294.05,791.69 294.33,790.27 294.62,789.19 294.9,788.18 295.24,789.3 295.59,786.49 295.93,787.57 296.27,785.47 296.61,784.34 296.96,783.22 297.3,782.51 297.64,783.25 297.99,781.61 298.33,777.95 298.67,778.41 299.01,777.4 299.36,776.03 299.7,776.31 300.25,777.35 300.8,778.16 301.35,779.56 301.9,780.09 302.03,781.47 302.16,781.45 302.29,783.02 302.42,782.49 302.55,784.05 302.68,785.24 302.82,787.2 302.95,788.43 303.08,788.36 303.21,788.44 303.34,789.12 303.47,791.63 303.6,792.02 303.65,793.22 303.69,794 303.74,794.74 303.79,793.81 303.84,796.78 303.88,797.02 303.93,798.24 303.98,800.23 304.03,800.86 304.07,802.21 304.12,802.36 304.17,803 304.22,803.37 304.26,803.72 304.31,805.27 304.36,806.85 304.41,807.71 304.45,807.96 304.5,809.72 304.54,809.09 304.57,810.73 304.61,810.97 304.65,813.88 304.68,814.23 304.72,816.58 304.75,816.26 304.79,817.02 304.83,816.53 304.86,820.23 304.9,819.72 304.94,820.58 304.97,821.98 305.01,823.27 305.05,823.34 305.08,823.76 305.12,824.68 305.15,826.64 305.19,826.86 305.23,826.44 305.26,828.19 305.3,830.76 305.46,831.63 305.61,830.64 305.77,832.5 305.92,834.56 306.08,833.16 306.23,836.51 306.39,835.26 306.54,837.79 306.7,838.76 306.86,839.78 307.01,840.04 307.17,841.14 307.32,840.07 307.48,843.96 307.63,844.88 307.79,845.48 307.94,845.22 308.1,844.75 308.2,848.88 308.29,848.99 308.39,847.17 308.49,850.88 308.58,851.65 308.68,851.51 308.78,852.8 308.88,855.28 308.97,855.77 309.07,855.28 309.17,856.84 309.26,857.61 309.36,858.75 309.46,859.16 309.55,859.27 309.65,859.7 309.75,862.35 309.84,863.96 309.94,863.6 310.04,864.25 310.13,865.64 310.23,867.12 310.33,867.69 310.43,868.12 310.52,869.04 310.62,870.43 310.72,870.74 310.81,871.91 310.91,873.04 311.01,872.47 311.1,875.3 311.2,874.18 311.4,875.79 311.6,878.14 311.8,876.13 312,879.25 312.2,881.15 312.4,881.71 312.6,881.39 312.8,884.1 313,884.12 313.2,886.21 313.4,885.58 313.6,885.31 313.8,887.52 314,888.38 314.2,889.34 314.4,890.42 314.6,890.54 314.8,893.15 315,892.7" fill="none" stroke="#333" stroke-width="0.7" stroke-linejoin="round" stroke-linecap="butt" opacity="0.35"/>
<polygon points="222,856 222.89,856.02 223.78,855.26 224.67,856.49 225.56,855.62 226.44,857.42 227.33,857.48 228.22,857.95 229.11,858.17 230,857.31 230.91,855.71 231.82,857.89 232.73,858.42 233.64,858.2 234.55,857.55 235.45,856.25 236.36,858.71 237.27,857.65 238.18,857.25 239.09,857.37 240,858.19 240.88,857.6 241.76,858.15 242.63,856.62 243.51,855.63 244.39,854.69 245.27,856.05 246.14,856.09 247.02,854.82 247.9,854.58 248.41,852.77 248.92,851.63 249.43,851.12 249.94,848.08 250.46,850.01 250.97,850.41 251.48,848.05 251.99,847.17 252.5,846.25 252.71,845.67 252.91,844.73 253.12,843.63 253.33,843.47 253.53,840.83 253.74,841.15 253.95,840.33 254.15,838.51 254.36,839.53 254.57,835.83 254.77,836.27 254.98,835.84 255.19,834.35 255.39,833.5 255.6,830.74 256.02,830.88 256.44,828.23 256.85,829.2 257.27,830.14 257.69,827.33 258.11,827.29 258.53,827.32 258.95,825.18 259.36,825.58 259.78,822.79 260.2,823.74 260.48,822.77 260.76,822.01 261.04,821.73 261.31,820.81 261.59,818.54 261.87,818.02 262.15,816.96 262.43,815.65 262.71,814.9 262.99,812.79 263.26,815.1 263.54,812.46 263.82,811.47 264.1,811.25 264.87,810.53 265.63,809.21 266.4,810.92 267.17,810.03 267.95,810.91 268.73,811.17 269.5,812.68 269.62,813.48 269.73,813.7 269.85,813.51 269.96,817.84 270.08,817.08 270.19,818.25 270.31,819.63 270.42,821.28 270.54,820.14 270.65,822.06 270.77,822.6 270.88,824.12 271,823.53 271.18,825.88 271.36,825.93 271.55,826.89 271.73,828.9 271.91,829.53 272.09,830.59 272.28,831.29 272.46,831.64 272.64,832.55 272.82,833.25 273.01,836.32 273.19,835.86 273.37,837.34 273.55,837.15 273.74,838.53 273.92,839.87 274.1,839.68 274.44,840.77 274.77,842.59 275.11,842.47 275.44,844.41 275.78,844.17 276.11,843.11 276.45,846.21 276.79,848.68 277.12,848.21 277.46,848.9 277.79,848.96 278.13,849.54 278.46,851.25 278.8,852.61 278.95,854.15 279.1,853.23 279.25,854.88 279.4,855.6 279.55,856.62 279.7,857.23 279.85,859.36 280,859.5 280.15,859.41 280.3,860.11 280.45,862.09 280.6,863.05 280.75,863.49 280.9,865.9 281.05,864.85 281.2,867.17 281.35,867.96 281.5,869.62 281.65,871.74 281.8,872.57 282.02,871.89 282.24,872.16 282.46,873.68 282.69,874.6 282.91,875.36 283.13,877.09 283.35,877.35 283.57,879.72 283.79,879.93 284.01,878.56 284.24,881.18 284.46,882.25 284.68,883.16 284.9,883.43 285.12,884.78 285.34,883.37 285.56,885.77 285.79,888.54 286.01,888.67 286.23,888.14 286.45,890.4 286.67,889.98 286.89,892.23 287.11,892.93 287.34,893.85 287.56,894.17 287.78,895.13 288,895.35 288.37,897.89 288.74,896.55 289.11,897.21 289.47,898.73 289.84,899.9 290.21,902.05 290.58,902.66 290.95,903.02 291.32,902.8 291.68,905.04 292.05,905.1 292.42,905.51 292.79,905.14 293.16,908.89 293.53,909.14 293.89,910.73 294.26,911.05 294.63,911.03 295,912 222,856" fill="#7f7f7f" stroke="none" stroke-width="0" fill-opacity="0.85"/>
<polygon points="222,856 222.89,856.02 223.78,855.26 224.67,856.49 225.56,855.62 226.44,857.42 227.33,857.48 228.22,857.95 229.11,858.17 230,857.31 230.91,855.71 231.82,857.89 232.73,858.42 233.64,858.2 234.55,857.55 235.45,856.25 236.36,858.71 237.27,857.65 238.18,857.25 239.09,857.37 240,858.19 240.88,857.6 241.76,858.15 242.63,856.62 243.51,855.63 244.39,854.69 245.27,856.05 246.14,856.09 247.02,854.82 247.9,854.58 248.41,852.77 248.92,851.63 249.43,851.12 249.94,848.08 250.46,850.01 250.97,850.41 251.48,848.05 251.99,847.17 252.5,846.25 252.71,845.67 252.91,844.73 253.12,843.63 253.33,843.47 253.53,840.83 253.74,841.15 253.95,840.33 254.15,838.51 254.36,839.53 254.57,835.83 254.77,836.27 254.98,835.84 255.19,834.35 255.39,833.5 255.6,830.74 256.02,830.88 256.44,828.23 256.85,829.2 257.27,830.14 257.69,827.33 258.11,827.29 258.53,827.32 258.95,825.18 259.36,825.58 259.78,822.79 260.2,823.74 260.48,822.77 260.76,822.01 261.04,821.73 261.31,820.81 261.59,818.54 261.87,818.02 262.15,816.96 262.43,815.65 262.71,814.9 262.99,812.79 263.26,815.1 263.54,812.46 263.82,811.47 264.1,811.25 264.87,810.53 265.63,809.21 266.4,810.92 267.17,810.03 267.95,810.91 268.73,811.17 269.5,812.68 269.62,813.48 269.73,813.7 269.85,813.51 269.96,817.84 270.08,817.08 270.19,818.25 270.31,819.63 270.42,821.28 270.54,820.14 270.65,822.06 270.77,822.6 270.88,824.12 271,823.53 271.18,825.88 271.36,825.93 271.55,826.89 271.73,828.9 271.91,829.53 272.09,830.59 272.28,831.29 272.46,831.64 272.64,832.55 272.82,833.25 273.01,836.32 273.19,835.86 273.37,837.34 273.55,837.15 273.74,838.53 273.92,839.87 274.1,839.68 274.44,840.77 274.77,842.59 275.11,842.47 275.44,844.41 275.78,844.17 276.11,843.11 276.45,846.21 276.79,848.68 277.12,848.21 277.46,848.9 277.79,848.96 278.13,849.54 278.46,851.25 278.8,852.61 278.95,854.15 279.1,853.23 279.25,854.88 279.4,855.6 279.55,856.62 279.7,857.23 279.85,859.36 280,859.5 280.15,859.41 280.3,860.11 280.45,862.09 280.6,863.05 280.75,863.49 280.9,865.9 281.05,864.85 281.2,867.17 281.35,867.96 281.5,869.62 281.65,871.74 281.8,872.57 282.02,871.89 282.24,872.16 282.46,873.68 282.69,874.6 282.91,875.36 283.13,877.09 283.35,877.35 283.57,879.72 283.79,879.93 284.01,878.56 284.24,881.18 284.46,882.25 284.68,883.16 284.9,883.43 285.12,884.78 285.34,883.37 285.56,885.77 285.79,888.54 286.01,888.67 286.23,888.14 286.45,890.4 286.67,889.98 286.89,892.23 287.11,892.93 287.34,893.85 287.56,894.17 287.78,895.13 288,895.35 288.37,897.89 288.74,896.55 289.11,897.21 289.47,898.73 289.84,899.9 290.21,902.05 290.58,902.66 290.95,903.02 291.32,902.8 291.68,905.04 292.05,905.1 292.42,905.51 292.79,905.14 293.16,908.89 293.53,909.14 293.89,910.73 294.26,911.05 294.63,911.03 295,912 222,856" fill="url(#vs)"/>
<polyline points="222,856 222.89,856.02 223.78,855.26 224.67,856.49 225.56,855.62 226.44,857.42 227.33,857.48 228.22,857.95 229.11,858.17 230,857.31 230.91,855.71 231.82,857.89 232.73,858.42 233.64,858.2 234.55,857.55 235.45,856.25 236.36,858.71 237.27,857.65 238.18,857.25 239.09,857.37 240,858.19 240.88,857.6 241.76,858.15 242.63,856.62 243.51,855.63 244.39,854.69 245.27,856.05 246.14,856.09 247.02,854.82 247.9,854.58 248.41,852.77 248.92,851.63 249.43,851.12 249.94,848.08 250.46,850.01 250.97,850.41 251.48,848.05 251.99,847.17 252.5,846.25 252.71,845.67 252.91,844.73 253.12,843.63 253.33,843.47 253.53,840.83 253.74,841.15 253.95,840.33 254.15,838.51 254.36,839.53 254.57,835.83 254.77,836.27 254.98,835.84 255.19,834.35 255.39,833.5 255.6,830.74 256.02,830.88 256.44,828.23 256.85,829.2 257.27,830.14 257.69,827.33 258.11,827.29 258.53,827.32 258.95,825.18 259.36,825.58 259.78,822.79 260.2,823.74 260.48,822.77 260.76,822.01 261.04,821.73 261.31,820.81 261.59,818.54 261.87,818.02 262.15,816.96 262.43,815.65 262.71,814.9 262.99,812.79 263.26,815.1 263.54,812.46 263.82,811.47 264.1,811.25 264.87,810.53 265.63,809.21 266.4,810.92 267.17,810.03 267.95,810.91 268.73,811.17 269.5,812.68 269.62,813.48 269.73,813.7 269.85,813.51 269.96,817.84 270.08,817.08 270.19,818.25 270.31,819.63 270.42,821.28 270.54,820.14 270.65,822.06 270.77,822.6 270.88,824.12 271,823.53 271.18,825.88 271.36,825.93 271.55,826.89 271.73,828.9 271.91,829.53 272.09,830.59 272.28,831.29 272.46,831.64 272.64,832.55 272.82,833.25 273.01,836.32 273.19,835.86 273.37,837.34 273.55,837.15 273.74,838.53 273.92,839.87 274.1,839.68 274.44,840.77 274.77,842.59 275.11,842.47 275.44,844.41 275.78,844.17 276.11,843.11 276.45,846.21 276.79,848.68 277.12,848.21 277.46,848.9 277.79,848.96 278.13,849.54 278.46,851.25 278.8,852.61 278.95,854.15 279.1,853.23 279.25,854.88 279.4,855.6 279.55,856.62 279.7,857.23 279.85,859.36 280,859.5 280.15,859.41 280.3,860.11 280.45,862.09 280.6,863.05 280.75,863.49 280.9,865.9 281.05,864.85 281.2,867.17 281.35,867.96 281.5,869.62 281.65,871.74 281.8,872.57 282.02,871.89 282.24,872.16 282.46,873.68 282.69,874.6 282.91,875.36 283.13,877.09 283.35,877.35 283.57,879.72 283.79,879.93 284.01,878.56 284.24,881.18 284.46,882.25 284.68,883.16 284.9,883.43 285.12,884.78 285.34,883.37 285.56,885.77 285.79,888.54 286.01,888.67 286.23,888.14 286.45,890.4 286.67,889.98 286.89,892.23 287.11,892.93 287.34,893.85 287.56,894.17 287.78,895.13 288,895.35 288.37,897.89 288.74,896.55 289.11,897.21 289.47,898.73 289.84,899.9 290.21,902.05 290.58,902.66 290.95,903.02 291.32,902.8 291.68,905.04 292.05,905.1 292.42,905.51 292.79,905.14 293.16,908.89 293.53,909.14 293.89,910.73 294.26,911.05 294.63,911.03 295,912" fill="none" stroke="#333" stroke-width="0.7" stroke-linejoin="round" stroke-linecap="butt" opacity="0.35"/>
<polygon points="190,858 190.82,858.72 191.64,860.42 192.46,859.8 193.28,860.02 194.09,859.61 194.91,859.91 195.73,861.54 196.55,862.82 197.37,862.49 198.19,862.39 199.01,862.47 199.82,863.44 200.64,864.61 201.46,864.46 202.28,863.84 203.1,865.92 203.99,865.52 204.87,861.87 205.76,863.75 206.64,864.08 207.53,863.62 208.41,862.02 209.3,863.7 209.85,862.34 210.4,861.41 210.95,859.96 211.5,859.8 212.05,859.53 212.6,858.47 213.15,857.98 213.7,857.06 214.25,854.56 214.8,855.6 215.35,855.73 215.9,854.52 216.45,853.07 217,851.5 217.43,849.94 217.85,850.87 218.28,850.18 218.71,849.62 219.14,849.1 219.56,846.76 219.99,846.95 220.42,846.11 220.85,845.18 221.27,843.24 221.7,844.39 222.27,841.67 222.85,841.74 223.43,839.86 224,839.68 224.57,840.97 225.15,838.75 225.73,839.52 226.3,837.62 226.72,835.93 227.14,835.27 227.55,835.58 227.97,834.35 228.39,833.2 228.81,832.46 229.23,831.87 229.65,831.04 230.06,828.82 230.48,828.89 230.9,828.17 231.42,827.94 231.93,824.7 232.45,824.56 232.97,826.39 233.48,825.2 234,823.15 235.03,823.3 236.07,822.59 237.1,823.67 237.67,825.5 238.25,824.56 238.82,826.84 239.4,828.84 239.97,830.09 240.55,828.9 241.12,831.54 241.7,830.64 241.75,832.16 241.79,833.52 241.84,833.47 241.89,835.22 241.94,834.8 241.98,834.76 242.03,836.76 242.08,837.79 242.12,837.69 242.17,838 242.22,840.86 242.26,842.68 242.31,842.68 242.36,844.32 242.41,844.31 242.45,847.05 242.5,847.75 242.82,847 243.13,848.61 243.45,848.13 243.77,850.27 244.08,849.54 244.4,852.26 244.72,850.28 245.03,854.3 245.35,855.31 245.67,853.87 245.98,856.67 246.3,858.09 246.52,858.67 246.75,858.87 246.97,860.04 247.2,860.3 247.42,860.99 247.64,862.32 247.87,862.32 248.09,863.81 248.31,865.67 248.54,865.88 248.76,866.18 248.99,867.14 249.21,869.18 249.43,869.64 249.66,871.05 249.88,871.49 250.1,872.34 250.33,873.51 250.55,873.05 250.78,874.74 251,874.81 251.22,878.14 251.44,877.43 251.66,877.95 251.88,877.53 252.1,879.18 252.31,880.43 252.53,880.4 252.75,881.96 252.97,884.53 253.19,884.42 253.41,884.73 253.63,886.15 253.85,888.19 254.07,889.1 254.29,887.12 254.5,889.41 254.72,889.36 254.94,891.34 255.16,891.59 255.38,893.87 255.6,893.51 255.9,896.06 256.2,895.83 256.5,896.53 256.8,899.1 257.1,900.02 257.4,899.81 257.7,898.59 258,899.92 258.3,900.18 258.6,902.42 258.9,903.09 259.2,904.21 259.5,906.1 259.8,904.51 260.1,908.09 260.4,907.45 260.7,908.63 261,909.26 261.3,911.55 261.6,911.98 261.9,911.22 262.2,913.32 262.5,914.3 190,858" fill="#bcbd22" stroke="none" stroke-width="0" fill-opacity="0.85"/>
<polygon points="190,858 190.82,858.72 191.64,860.42 192.46,859.8 193.28,860.02 194.09,859.61 194.91,859.91 195.73,861.54 196.55,862.82 197.37,862.49 198.19,862.39 199.01,862.47 199.82,863.44 200.64,864.61 201.46,864.46 202.28,863.84 203.1,865.92 203.99,865.52 204.87,861.87 205.76,863.75 206.64,864.08 207.53,863.62 208.41,862.02 209.3,863.7 209.85,862.34 210.4,861.41 210.95,859.96 211.5,859.8 212.05,859.53 212.6,858.47 213.15,857.98 213.7,857.06 214.25,854.56 214.8,855.6 215.35,855.73 215.9,854.52 216.45,853.07 217,851.5 217.43,849.94 217.85,850.87 218.28,850.18 218.71,849.62 219.14,849.1 219.56,846.76 219.99,846.95 220.42,846.11 220.85,845.18 221.27,843.24 221.7,844.39 222.27,841.67 222.85,841.74 223.43,839.86 224,839.68 224.57,840.97 225.15,838.75 225.73,839.52 226.3,837.62 226.72,835.93 227.14,835.27 227.55,835.58 227.97,834.35 228.39,833.2 228.81,832.46 229.23,831.87 229.65,831.04 230.06,828.82 230.48,828.89 230.9,828.17 231.42,827.94 231.93,824.7 232.45,824.56 232.97,826.39 233.48,825.2 234,823.15 235.03,823.3 236.07,822.59 237.1,823.67 237.67,825.5 238.25,824.56 238.82,826.84 239.4,828.84 239.97,830.09 240.55,828.9 241.12,831.54 241.7,830.64 241.75,832.16 241.79,833.52 241.84,833.47 241.89,835.22 241.94,834.8 241.98,834.76 242.03,836.76 242.08,837.79 242.12,837.69 242.17,838 242.22,840.86 242.26,842.68 242.31,842.68 242.36,844.32 242.41,844.31 242.45,847.05 242.5,847.75 242.82,847 243.13,848.61 243.45,848.13 243.77,850.27 244.08,849.54 244.4,852.26 244.72,850.28 245.03,854.3 245.35,855.31 245.67,853.87 245.98,856.67 246.3,858.09 246.52,858.67 246.75,858.87 246.97,860.04 247.2,860.3 247.42,860.99 247.64,862.32 247.87,862.32 248.09,863.81 248.31,865.67 248.54,865.88 248.76,866.18 248.99,867.14 249.21,869.18 249.43,869.64 249.66,871.05 249.88,871.49 250.1,872.34 250.33,873.51 250.55,873.05 250.78,874.74 251,874.81 251.22,878.14 251.44,877.43 251.66,877.95 251.88,877.53 252.1,879.18 252.31,880.43 252.53,880.4 252.75,881.96 252.97,884.53 253.19,884.42 253.41,884.73 253.63,886.15 253.85,888.19 254.07,889.1 254.29,887.12 254.5,889.41 254.72,889.36 254.94,891.34 255.16,891.59 255.38,893.87 255.6,893.51 255.9,896.06 256.2,895.83 256.5,896.53 256.8,899.1 257.1,900.02 257.4,899.81 257.7,898.59 258,899.92 258.3,900.18 258.6,902.42 258.9,903.09 259.2,904.21 259.5,906.1 259.8,904.51 260.1,908.09 260.4,907.45 260.7,908.63 261,909.26 261.3,911.55 261.6,911.98 261.9,911.22 262.2,913.32 262.5,914.3 190,858" fill="url(#vs)"/>
<polyline points="190,858 190.82,858.72 191.64,860.42 192.46,859.8 193.28,860.02 194.09,859.61 194.91,859.91 195.73,861.54 196.55,862.82 197.37,862.49 198.19,862.39 199.01,862.47 199.82,863.44 200.64,864.61 201.46,864.46 202.28,863.84 203.1,865.92 203.99,865.52 204.87,861.87 205.76,863.75 206.64,864.08 207.53,863.62 208.41,862.02 209.3,863.7 209.85,862.34 210.4,861.41 210.95,859.96 211.5,859.8 212.05,859.53 212.6,858.47 213.15,857.98 213.7,857.06 214.25,854.56 214.8,855.6 215.35,855.73 215.9,854.52 216.45,853.07 217,851.5 217.43,849.94 217.85,850.87 218.28,850.18 218.71,849.62 219.14,849.1 219.56,846.76 219.99,846.95 220.42,846.11 220.85,845.18 221.27,843.24 221.7,844.39 222.27,841.67 222.85,841.74 223.43,839.86 224,839.68 224.57,840.97 225.15,838.75 225.73,839.52 226.3,837.62 226.72,835.93 227.14,835.27 227.55,835.58 227.97,834.35 228.39,833.2 228.81,832.46 229.23,831.87 229.65,831.04 230.06,828.82 230.48,828.89 230.9,828.17 231.42,827.94 231.93,824.7 232.45,824.56 232.97,826.39 233.48,825.2 234,823.15 235.03,823.3 236.07,822.59 237.1,823.67 237.67,825.5 238.25,824.56 238.82,826.84 239.4,828.84 239.97,830.09 240.55,828.9 241.12,831.54 241.7,830.64 241.75,832.16 241.79,833.52 241.84,833.47 241.89,835.22 241.94,834.8 241.98,834.76 242.03,836.76 242.08,837.79 242.12,837.69 242.17,838 242.22,840.86 242.26,842.68 242.31,842.68 242.36,844.32 242.41,844.31 242.45,847.05 242.5,847.75 242.82,847 243.13,848.61 243.45,848.13 243.77,850.27 244.08,849.54 244.4,852.26 244.72,850.28 245.03,854.3 245.35,855.31 245.67,853.87 245.98,856.67 246.3,858.09 246.52,858.67 246.75,858.87 246.97,860.04 247.2,860.3 247.42,860.99 247.64,862.32 247.87,862.32 248.09,863.81 248.31,865.67 248.54,865.88 248.76,866.18 248.99,867.14 249.21,869.18 249.43,869.64 249.66,871.05 249.88,871.49 250.1,872.34 250.33,873.51 250.55,873.05 250.78,874.74 251,874.81 251.22,878.14 251.44,877.43 251.66,877.95 251.88,877.53 252.1,879.18 252.31,880.43 252.53,880.4 252.75,881.96 252.97,884.53 253.19,884.42 253.41,884.73 253.63,886.15 253.85,888.19 254.07,889.1 254.29,887.12 254.5,889.41 254.72,889.36 254.94,891.34 255.16,891.59 255.38,893.87 255.6,893.51 255.9,896.06 256.2,895.83 256.5,896.53 256.8,899.1 257.1,900.02 257.4,899.81 257.7,898.59 258,899.92 258.3,900.18 258.6,902.42 258.9,903.09 259.2,904.21 259.5,906.1 259.8,904.51 260.1,908.09 260.4,907.45 260.7,908.63 261,909.26 261.3,911.55 261.6,911.98 261.9,911.22 262.2,913.32 262.5,914.3" fill="none" stroke="#333" stroke-width="0.7" stroke-linejoin="round" stroke-linecap="butt" opacity="0.35"/>
<polyline points="190.4,842 192.09,840.72 194.37,839.04 197.1,837.03 200.11,834.79 203.24,832.41 206.34,829.96 209.24,827.52 211.8,825.2 214.09,822.91 216.31,820.54 218.44,818.11 220.49,815.66 222.44,813.21 224.3,810.78 226.05,808.4 227.7,806.1 229.22,803.89 230.62,801.75 231.91,799.66 233.1,797.6 234.22,795.54 235.28,793.45 236.3,791.31 237.3,789.1 238.26,786.87 239.15,784.67 239.99,782.46 240.78,780.21 241.53,777.88 242.24,775.42 242.93,772.81 243.6,770 244.25,766.93 244.86,763.62 245.45,760.13 246.01,756.53 246.53,752.89 247.02,749.27 247.48,745.75 247.9,742.4 248.29,739.14 248.66,735.89 249,732.66 249.3,729.49 249.57,726.42 249.79,723.46 249.97,720.64 250.1,718 250.18,715.61 250.23,713.48 250.22,711.53 250.18,709.68 250.1,707.85 249.97,705.96 249.81,703.94 249.6,701.7 249.34,699.21 249.01,696.54 248.62,693.74 248.21,690.88 247.77,688.02 247.33,685.21 246.9,682.51 246.5,680 246.14,677.71 245.82,675.61 245.51,673.62 245.19,671.69 244.85,669.75 244.47,667.74 244.03,665.57 243.5,663.2 242.86,660.56 242.13,657.69 241.32,654.66 240.47,651.56 239.62,648.47 238.78,645.46 238,642.61 237.3,640 236.65,637.53 236.01,635.08 235.39,632.7 234.81,630.45 234.28,628.38 233.81,626.55 233.41,625 233.1,623.8" fill="none" stroke="#000" stroke-width="4.2" stroke-linejoin="round" stroke-linecap="butt"/>
<polygon points="229,611.3 240.3,623.6 233,621.6 226.8,627.2" fill="#000" stroke="none" stroke-width="0"/>
<g transform="translate(144.6,749.3) rotate(-44.3)"><text x="0" y="0" font-family="Liberation Sans" font-size="19" textLength="108" lengthAdjust="spacingAndGlyphs">Direction of</text><text x="0" y="23.5" font-family="Liberation Sans" font-size="19" textLength="117.4" lengthAdjust="spacingAndGlyphs">temperature</text><text x="0" y="47" font-family="Liberation Sans" font-size="19" textLength="72.7" lengthAdjust="spacingAndGlyphs">increase</text></g>
</svg>
</body></html>
